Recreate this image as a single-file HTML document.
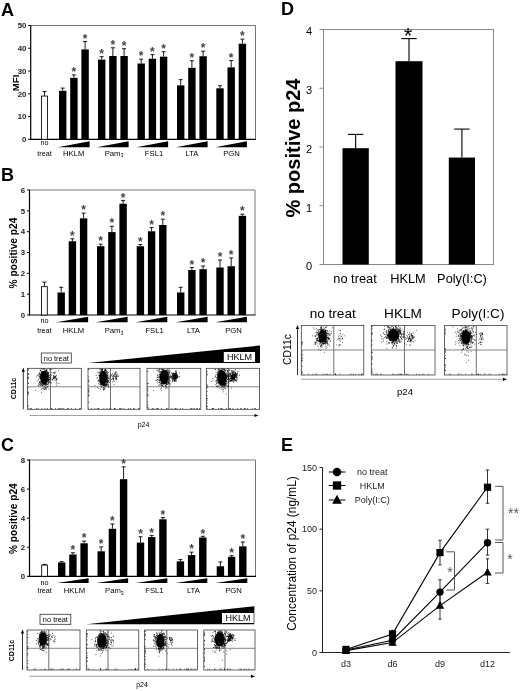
<!DOCTYPE html>
<html><head><meta charset="utf-8"><title>Figure</title>
<style>
html,body{margin:0;padding:0;background:#fff;}
svg{display:block;font-family:'Liberation Sans', Arial, sans-serif;}
</style></head>
<body>
<svg width="520" height="691" viewBox="0 0 520 691">
<rect x="0" y="0" width="520" height="691" fill="#fff"/>
<line x1="30.7" y1="25.5" x2="255.5" y2="25.5" stroke="#777" stroke-width="1"/>
<line x1="255.5" y1="25.5" x2="255.5" y2="139.3" stroke="#777" stroke-width="1"/>
<line x1="30.7" y1="25.0" x2="30.7" y2="139.8" stroke="#000" stroke-width="1.2"/>
<line x1="30.2" y1="139.3" x2="256.0" y2="139.3" stroke="#000" stroke-width="1.2"/>
<line x1="28.2" y1="139.3" x2="30.7" y2="139.3" stroke="#000" stroke-width="1"/>
<text x="26.4" y="142.10000000000002" font-size="7.8" font-weight="bold" text-anchor="end" fill="#222">0</text>
<line x1="28.2" y1="116.54" x2="30.7" y2="116.54" stroke="#000" stroke-width="1"/>
<text x="26.4" y="119.34" font-size="7.8" font-weight="bold" text-anchor="end" fill="#222">10</text>
<line x1="28.2" y1="93.78" x2="30.7" y2="93.78" stroke="#000" stroke-width="1"/>
<text x="26.4" y="96.58" font-size="7.8" font-weight="bold" text-anchor="end" fill="#222">20</text>
<line x1="28.2" y1="71.02000000000001" x2="30.7" y2="71.02000000000001" stroke="#000" stroke-width="1"/>
<text x="26.4" y="73.82000000000001" font-size="7.8" font-weight="bold" text-anchor="end" fill="#222">30</text>
<line x1="28.2" y1="48.260000000000005" x2="30.7" y2="48.260000000000005" stroke="#000" stroke-width="1"/>
<text x="26.4" y="51.06" font-size="7.8" font-weight="bold" text-anchor="end" fill="#222">40</text>
<line x1="28.2" y1="25.5" x2="30.7" y2="25.5" stroke="#000" stroke-width="1"/>
<text x="26.4" y="28.3" font-size="7.8" font-weight="bold" text-anchor="end" fill="#222">50</text>
<text x="18.6" y="82.9" font-size="9.6" font-weight="bold" text-anchor="middle" fill="#000" transform="rotate(-90 18.6 82.9)">MFI</text>
<text x="1" y="15.9" font-size="18" font-weight="bold" text-anchor="start" fill="#000">A</text>
<line x1="44.5" y1="96.05600000000001" x2="44.5" y2="91.504" stroke="#000" stroke-width="0.9"/>
<line x1="42.5" y1="91.504" x2="46.5" y2="91.504" stroke="#000" stroke-width="0.9"/>
<rect x="41.50" y="96.06" width="6.00" height="43.24" fill="#fff" stroke="#000" stroke-width="0.85"/>
<text x="44.5" y="144.9" font-size="7.2" text-anchor="middle" fill="#000">no</text>
<text x="44.5" y="155.6" font-size="7.2" text-anchor="middle" fill="#000">treat</text>
<line x1="62.7" y1="90.8212" x2="62.7" y2="88.09" stroke="#000" stroke-width="0.9"/>
<line x1="60.7" y1="88.09" x2="64.7" y2="88.09" stroke="#000" stroke-width="0.9"/>
<rect x="59.00" y="90.82" width="7.40" height="48.48" fill="#000"/>
<line x1="73.9" y1="77.84800000000001" x2="73.9" y2="74.8892" stroke="#000" stroke-width="0.9"/>
<line x1="71.9" y1="74.8892" x2="75.9" y2="74.8892" stroke="#000" stroke-width="0.9"/>
<rect x="70.20" y="77.85" width="7.40" height="61.45" fill="#000"/>
<text x="73.9" y="76.0892" font-size="12" font-weight="bold" text-anchor="middle" fill="#444">*</text>
<line x1="85.10000000000001" y1="49.397999999999996" x2="85.10000000000001" y2="41.432" stroke="#000" stroke-width="0.9"/>
<line x1="83.10000000000001" y1="41.432" x2="87.10000000000001" y2="41.432" stroke="#000" stroke-width="0.9"/>
<rect x="81.40" y="49.40" width="7.40" height="89.90" fill="#000"/>
<text x="85.10000000000001" y="42.632000000000005" font-size="12" font-weight="bold" text-anchor="middle" fill="#444">*</text>
<polygon points="57.8,147.2 89.6,147.2 89.6,141.3" fill="#000"/>
<text x="73.75" y="155.6" font-size="7.7" text-anchor="middle" fill="#000">HKLM</text>
<line x1="101.7" y1="59.64" x2="101.7" y2="56.681200000000004" stroke="#000" stroke-width="0.9"/>
<line x1="99.7" y1="56.681200000000004" x2="103.7" y2="56.681200000000004" stroke="#000" stroke-width="0.9"/>
<rect x="98.00" y="59.64" width="7.40" height="79.66" fill="#000"/>
<text x="101.7" y="57.88120000000001" font-size="12" font-weight="bold" text-anchor="middle" fill="#444">*</text>
<line x1="112.9" y1="55.998400000000004" x2="112.9" y2="47.8048" stroke="#000" stroke-width="0.9"/>
<line x1="110.9" y1="47.8048" x2="114.9" y2="47.8048" stroke="#000" stroke-width="0.9"/>
<rect x="109.20" y="56.00" width="7.40" height="83.30" fill="#000"/>
<text x="112.9" y="49.0048" font-size="12" font-weight="bold" text-anchor="middle" fill="#444">*</text>
<line x1="124.10000000000001" y1="55.998400000000004" x2="124.10000000000001" y2="48.715199999999996" stroke="#000" stroke-width="0.9"/>
<line x1="122.10000000000001" y1="48.715199999999996" x2="126.10000000000001" y2="48.715199999999996" stroke="#000" stroke-width="0.9"/>
<rect x="120.40" y="56.00" width="7.40" height="83.30" fill="#000"/>
<text x="124.10000000000001" y="49.9152" font-size="12" font-weight="bold" text-anchor="middle" fill="#444">*</text>
<polygon points="96.8,147.2 128.6,147.2 128.6,141.3" fill="#000"/>
<text x="114" y="155.6" font-size="7.7" text-anchor="middle" fill="#000">Pam<tspan font-size="5.2" dy="1.6">3</tspan></text>
<line x1="141.2" y1="63.50920000000001" x2="141.2" y2="59.18480000000001" stroke="#000" stroke-width="0.9"/>
<line x1="139.2" y1="59.18480000000001" x2="143.2" y2="59.18480000000001" stroke="#000" stroke-width="0.9"/>
<rect x="137.50" y="63.51" width="7.40" height="75.79" fill="#000"/>
<text x="141.2" y="60.38480000000001" font-size="12" font-weight="bold" text-anchor="middle" fill="#444">*</text>
<line x1="152.39999999999998" y1="58.729600000000005" x2="152.39999999999998" y2="54.63280000000002" stroke="#000" stroke-width="0.9"/>
<line x1="150.39999999999998" y1="54.63280000000002" x2="154.39999999999998" y2="54.63280000000002" stroke="#000" stroke-width="0.9"/>
<rect x="148.70" y="58.73" width="7.40" height="80.57" fill="#000"/>
<text x="152.39999999999998" y="55.83280000000002" font-size="12" font-weight="bold" text-anchor="middle" fill="#444">*</text>
<line x1="163.6" y1="56.681200000000004" x2="163.6" y2="51.67400000000001" stroke="#000" stroke-width="0.9"/>
<line x1="161.6" y1="51.67400000000001" x2="165.6" y2="51.67400000000001" stroke="#000" stroke-width="0.9"/>
<rect x="159.90" y="56.68" width="7.40" height="82.62" fill="#000"/>
<text x="163.6" y="52.87400000000001" font-size="12" font-weight="bold" text-anchor="middle" fill="#444">*</text>
<polygon points="136.3,147.2 168.1,147.2 168.1,141.3" fill="#000"/>
<text x="154" y="155.6" font-size="7.7" text-anchor="middle" fill="#000">FSL1</text>
<line x1="180.7" y1="85.3588" x2="180.7" y2="79.6688" stroke="#000" stroke-width="0.9"/>
<line x1="178.7" y1="79.6688" x2="182.7" y2="79.6688" stroke="#000" stroke-width="0.9"/>
<rect x="177.00" y="85.36" width="7.40" height="53.94" fill="#000"/>
<line x1="191.89999999999998" y1="67.8336" x2="191.89999999999998" y2="60.778000000000006" stroke="#000" stroke-width="0.9"/>
<line x1="189.89999999999998" y1="60.778000000000006" x2="193.89999999999998" y2="60.778000000000006" stroke="#000" stroke-width="0.9"/>
<rect x="188.20" y="67.83" width="7.40" height="71.47" fill="#000"/>
<text x="191.89999999999998" y="61.97800000000001" font-size="12" font-weight="bold" text-anchor="middle" fill="#444">*</text>
<line x1="203.1" y1="56.226" x2="203.1" y2="51.2188" stroke="#000" stroke-width="0.9"/>
<line x1="201.1" y1="51.2188" x2="205.1" y2="51.2188" stroke="#000" stroke-width="0.9"/>
<rect x="199.40" y="56.23" width="7.40" height="83.07" fill="#000"/>
<text x="203.1" y="52.418800000000005" font-size="12" font-weight="bold" text-anchor="middle" fill="#444">*</text>
<polygon points="175.8,147.2 207.6,147.2 207.6,141.3" fill="#000"/>
<text x="192" y="155.6" font-size="7.7" text-anchor="middle" fill="#000">LTA</text>
<line x1="220.0" y1="88.3176" x2="220.0" y2="85.81400000000001" stroke="#000" stroke-width="0.9"/>
<line x1="218.0" y1="85.81400000000001" x2="222.0" y2="85.81400000000001" stroke="#000" stroke-width="0.9"/>
<rect x="216.30" y="88.32" width="7.40" height="50.98" fill="#000"/>
<line x1="231.2" y1="67.3784" x2="231.2" y2="60.550399999999996" stroke="#000" stroke-width="0.9"/>
<line x1="229.2" y1="60.550399999999996" x2="233.2" y2="60.550399999999996" stroke="#000" stroke-width="0.9"/>
<rect x="227.50" y="67.38" width="7.40" height="71.92" fill="#000"/>
<text x="231.2" y="61.7504" font-size="12" font-weight="bold" text-anchor="middle" fill="#444">*</text>
<line x1="242.4" y1="43.708" x2="242.4" y2="39.156000000000006" stroke="#000" stroke-width="0.9"/>
<line x1="240.4" y1="39.156000000000006" x2="244.4" y2="39.156000000000006" stroke="#000" stroke-width="0.9"/>
<rect x="238.70" y="43.71" width="7.40" height="95.59" fill="#000"/>
<text x="242.4" y="40.35600000000001" font-size="12" font-weight="bold" text-anchor="middle" fill="#444">*</text>
<polygon points="215.10000000000002,147.2 246.9,147.2 246.9,141.3" fill="#000"/>
<text x="231.5" y="155.6" font-size="7.7" text-anchor="middle" fill="#000">PGN</text>
<line x1="29.5" y1="190" x2="255" y2="190" stroke="#777" stroke-width="1"/>
<line x1="255" y1="190" x2="255" y2="315" stroke="#777" stroke-width="1"/>
<line x1="29.5" y1="189.5" x2="29.5" y2="315.5" stroke="#000" stroke-width="1.2"/>
<line x1="29.0" y1="315" x2="255.5" y2="315" stroke="#000" stroke-width="1.2"/>
<line x1="27.0" y1="315.0" x2="29.5" y2="315.0" stroke="#000" stroke-width="1"/>
<text x="25.2" y="317.8" font-size="7.8" font-weight="bold" text-anchor="end" fill="#222">0</text>
<line x1="27.0" y1="294.1666666666667" x2="29.5" y2="294.1666666666667" stroke="#000" stroke-width="1"/>
<text x="25.2" y="296.9666666666667" font-size="7.8" font-weight="bold" text-anchor="end" fill="#222">1</text>
<line x1="27.0" y1="273.3333333333333" x2="29.5" y2="273.3333333333333" stroke="#000" stroke-width="1"/>
<text x="25.2" y="276.1333333333333" font-size="7.8" font-weight="bold" text-anchor="end" fill="#222">2</text>
<line x1="27.0" y1="252.5" x2="29.5" y2="252.5" stroke="#000" stroke-width="1"/>
<text x="25.2" y="255.3" font-size="7.8" font-weight="bold" text-anchor="end" fill="#222">3</text>
<line x1="27.0" y1="231.66666666666669" x2="29.5" y2="231.66666666666669" stroke="#000" stroke-width="1"/>
<text x="25.2" y="234.4666666666667" font-size="7.8" font-weight="bold" text-anchor="end" fill="#222">4</text>
<line x1="27.0" y1="210.83333333333334" x2="29.5" y2="210.83333333333334" stroke="#000" stroke-width="1"/>
<text x="25.2" y="213.63333333333335" font-size="7.8" font-weight="bold" text-anchor="end" fill="#222">5</text>
<line x1="27.0" y1="190.0" x2="29.5" y2="190.0" stroke="#000" stroke-width="1"/>
<text x="25.2" y="192.8" font-size="7.8" font-weight="bold" text-anchor="end" fill="#222">6</text>
<text x="17" y="253.0" font-size="10.2" font-weight="bold" text-anchor="middle" fill="#000" transform="rotate(-90 17 253.0)">% positive p24</text>
<text x="1" y="181" font-size="18" font-weight="bold" text-anchor="start" fill="#000">B</text>
<line x1="44.4" y1="286.6666666666667" x2="44.4" y2="282.0833333333333" stroke="#000" stroke-width="0.9"/>
<line x1="42.4" y1="282.0833333333333" x2="46.4" y2="282.0833333333333" stroke="#000" stroke-width="0.9"/>
<rect x="41.50" y="286.67" width="5.80" height="28.33" fill="#fff" stroke="#000" stroke-width="0.85"/>
<text x="44.4" y="323" font-size="7.2" text-anchor="middle" fill="#000">no</text>
<text x="44.4" y="332.8" font-size="7.2" text-anchor="middle" fill="#000">treat</text>
<line x1="61.2" y1="292.5" x2="61.2" y2="287.2916666666667" stroke="#000" stroke-width="0.9"/>
<line x1="59.2" y1="287.2916666666667" x2="63.2" y2="287.2916666666667" stroke="#000" stroke-width="0.9"/>
<rect x="57.50" y="292.50" width="7.40" height="22.50" fill="#000"/>
<line x1="72.4" y1="241.25" x2="72.4" y2="238.75" stroke="#000" stroke-width="0.9"/>
<line x1="70.4" y1="238.75" x2="74.4" y2="238.75" stroke="#000" stroke-width="0.9"/>
<rect x="68.70" y="241.25" width="7.40" height="73.75" fill="#000"/>
<text x="72.4" y="239.95" font-size="12" font-weight="bold" text-anchor="middle" fill="#444">*</text>
<line x1="83.60000000000001" y1="218.33333333333334" x2="83.60000000000001" y2="213.125" stroke="#000" stroke-width="0.9"/>
<line x1="81.60000000000001" y1="213.125" x2="85.60000000000001" y2="213.125" stroke="#000" stroke-width="0.9"/>
<rect x="79.90" y="218.33" width="7.40" height="96.67" fill="#000"/>
<text x="83.60000000000001" y="214.325" font-size="12" font-weight="bold" text-anchor="middle" fill="#444">*</text>
<polygon points="56.3,322.3 88.1,322.3 88.1,316.8" fill="#000"/>
<text x="73.5" y="333" font-size="7.7" text-anchor="middle" fill="#000">HKLM</text>
<line x1="100.7" y1="246.25" x2="100.7" y2="244.16666666666669" stroke="#000" stroke-width="0.9"/>
<line x1="98.7" y1="244.16666666666669" x2="102.7" y2="244.16666666666669" stroke="#000" stroke-width="0.9"/>
<rect x="97.00" y="246.25" width="7.40" height="68.75" fill="#000"/>
<text x="100.7" y="245.36666666666667" font-size="12" font-weight="bold" text-anchor="middle" fill="#444">*</text>
<line x1="111.9" y1="232.08333333333334" x2="111.9" y2="226.25" stroke="#000" stroke-width="0.9"/>
<line x1="109.9" y1="226.25" x2="113.9" y2="226.25" stroke="#000" stroke-width="0.9"/>
<rect x="108.20" y="232.08" width="7.40" height="82.92" fill="#000"/>
<text x="111.9" y="227.45" font-size="12" font-weight="bold" text-anchor="middle" fill="#444">*</text>
<line x1="123.10000000000001" y1="203.75" x2="123.10000000000001" y2="200.41666666666669" stroke="#000" stroke-width="0.9"/>
<line x1="121.10000000000001" y1="200.41666666666669" x2="125.10000000000001" y2="200.41666666666669" stroke="#000" stroke-width="0.9"/>
<rect x="119.40" y="203.75" width="7.40" height="111.25" fill="#000"/>
<text x="123.10000000000001" y="201.61666666666667" font-size="12" font-weight="bold" text-anchor="middle" fill="#444">*</text>
<polygon points="95.8,322.3 127.6,322.3 127.6,316.8" fill="#000"/>
<text x="114" y="333" font-size="7.7" text-anchor="middle" fill="#000">Pam<tspan font-size="5.2" dy="1.6">3</tspan></text>
<line x1="140.39999999999998" y1="246.25" x2="140.39999999999998" y2="244.58333333333334" stroke="#000" stroke-width="0.9"/>
<line x1="138.39999999999998" y1="244.58333333333334" x2="142.39999999999998" y2="244.58333333333334" stroke="#000" stroke-width="0.9"/>
<rect x="136.70" y="246.25" width="7.40" height="68.75" fill="#000"/>
<text x="140.39999999999998" y="245.78333333333333" font-size="12" font-weight="bold" text-anchor="middle" fill="#444">*</text>
<line x1="151.59999999999997" y1="231.25" x2="151.59999999999997" y2="227.5" stroke="#000" stroke-width="0.9"/>
<line x1="149.59999999999997" y1="227.5" x2="153.59999999999997" y2="227.5" stroke="#000" stroke-width="0.9"/>
<rect x="147.90" y="231.25" width="7.40" height="83.75" fill="#000"/>
<text x="151.59999999999997" y="228.7" font-size="12" font-weight="bold" text-anchor="middle" fill="#444">*</text>
<line x1="162.79999999999998" y1="225.0" x2="162.79999999999998" y2="219.16666666666666" stroke="#000" stroke-width="0.9"/>
<line x1="160.79999999999998" y1="219.16666666666666" x2="164.79999999999998" y2="219.16666666666666" stroke="#000" stroke-width="0.9"/>
<rect x="159.10" y="225.00" width="7.40" height="90.00" fill="#000"/>
<text x="162.79999999999998" y="220.36666666666665" font-size="12" font-weight="bold" text-anchor="middle" fill="#444">*</text>
<polygon points="135.5,322.3 167.29999999999998,322.3 167.29999999999998,316.8" fill="#000"/>
<text x="154.6" y="333" font-size="7.7" text-anchor="middle" fill="#000">FSL1</text>
<line x1="180.7" y1="292.5" x2="180.7" y2="287.2916666666667" stroke="#000" stroke-width="0.9"/>
<line x1="178.7" y1="287.2916666666667" x2="182.7" y2="287.2916666666667" stroke="#000" stroke-width="0.9"/>
<rect x="177.00" y="292.50" width="7.40" height="22.50" fill="#000"/>
<line x1="191.89999999999998" y1="270.0" x2="191.89999999999998" y2="267.5" stroke="#000" stroke-width="0.9"/>
<line x1="189.89999999999998" y1="267.5" x2="193.89999999999998" y2="267.5" stroke="#000" stroke-width="0.9"/>
<rect x="188.20" y="270.00" width="7.40" height="45.00" fill="#000"/>
<text x="191.89999999999998" y="268.7" font-size="12" font-weight="bold" text-anchor="middle" fill="#444">*</text>
<line x1="203.1" y1="269.1666666666667" x2="203.1" y2="266.0416666666667" stroke="#000" stroke-width="0.9"/>
<line x1="201.1" y1="266.0416666666667" x2="205.1" y2="266.0416666666667" stroke="#000" stroke-width="0.9"/>
<rect x="199.40" y="269.17" width="7.40" height="45.83" fill="#000"/>
<text x="203.1" y="267.2416666666667" font-size="12" font-weight="bold" text-anchor="middle" fill="#444">*</text>
<polygon points="175.8,322.3 207.6,322.3 207.6,316.8" fill="#000"/>
<text x="193.5" y="333" font-size="7.7" text-anchor="middle" fill="#000">LTA</text>
<line x1="220.0" y1="267.5" x2="220.0" y2="260.0" stroke="#000" stroke-width="0.9"/>
<line x1="218.0" y1="260.0" x2="222.0" y2="260.0" stroke="#000" stroke-width="0.9"/>
<rect x="216.30" y="267.50" width="7.40" height="47.50" fill="#000"/>
<text x="220.0" y="261.2" font-size="12" font-weight="bold" text-anchor="middle" fill="#444">*</text>
<line x1="231.2" y1="266.25" x2="231.2" y2="257.9166666666667" stroke="#000" stroke-width="0.9"/>
<line x1="229.2" y1="257.9166666666667" x2="233.2" y2="257.9166666666667" stroke="#000" stroke-width="0.9"/>
<rect x="227.50" y="266.25" width="7.40" height="48.75" fill="#000"/>
<text x="231.2" y="259.1166666666667" font-size="12" font-weight="bold" text-anchor="middle" fill="#444">*</text>
<line x1="242.4" y1="215.83333333333334" x2="242.4" y2="214.16666666666669" stroke="#000" stroke-width="0.9"/>
<line x1="240.4" y1="214.16666666666669" x2="244.4" y2="214.16666666666669" stroke="#000" stroke-width="0.9"/>
<rect x="238.70" y="215.83" width="7.40" height="99.17" fill="#000"/>
<text x="242.4" y="215.36666666666667" font-size="12" font-weight="bold" text-anchor="middle" fill="#444">*</text>
<polygon points="215.10000000000002,322.3 246.9,322.3 246.9,316.8" fill="#000"/>
<text x="233.5" y="333" font-size="7.7" text-anchor="middle" fill="#000">PGN</text>
<line x1="29.5" y1="460" x2="255.5" y2="460" stroke="#777" stroke-width="1"/>
<line x1="255.5" y1="460" x2="255.5" y2="576.3" stroke="#777" stroke-width="1"/>
<line x1="29.5" y1="459.5" x2="29.5" y2="576.8" stroke="#000" stroke-width="1.2"/>
<line x1="29.0" y1="576.3" x2="256.0" y2="576.3" stroke="#000" stroke-width="1.2"/>
<line x1="27.0" y1="576.3" x2="29.5" y2="576.3" stroke="#000" stroke-width="1"/>
<text x="25.2" y="579.0999999999999" font-size="7.8" font-weight="bold" text-anchor="end" fill="#222">0</text>
<line x1="27.0" y1="547.2249999999999" x2="29.5" y2="547.2249999999999" stroke="#000" stroke-width="1"/>
<text x="25.2" y="550.0249999999999" font-size="7.8" font-weight="bold" text-anchor="end" fill="#222">2</text>
<line x1="27.0" y1="518.15" x2="29.5" y2="518.15" stroke="#000" stroke-width="1"/>
<text x="25.2" y="520.9499999999999" font-size="7.8" font-weight="bold" text-anchor="end" fill="#222">4</text>
<line x1="27.0" y1="489.075" x2="29.5" y2="489.075" stroke="#000" stroke-width="1"/>
<text x="25.2" y="491.875" font-size="7.8" font-weight="bold" text-anchor="end" fill="#222">6</text>
<line x1="27.0" y1="460.0" x2="29.5" y2="460.0" stroke="#000" stroke-width="1"/>
<text x="25.2" y="462.8" font-size="7.8" font-weight="bold" text-anchor="end" fill="#222">8</text>
<text x="17" y="518.65" font-size="10.2" font-weight="bold" text-anchor="middle" fill="#000" transform="rotate(-90 17 518.65)">% positive p24</text>
<text x="1" y="450.7" font-size="18" font-weight="bold" text-anchor="start" fill="#000">C</text>
<line x1="44.6" y1="565.1061249999999" x2="44.6" y2="564.37925" stroke="#000" stroke-width="0.9"/>
<line x1="42.6" y1="564.37925" x2="46.6" y2="564.37925" stroke="#000" stroke-width="0.9"/>
<rect x="41.70" y="565.11" width="5.80" height="11.19" fill="#fff" stroke="#000" stroke-width="0.85"/>
<text x="44.6" y="585" font-size="7.2" text-anchor="middle" fill="#000">no</text>
<text x="44.6" y="593" font-size="7.2" text-anchor="middle" fill="#000">treat</text>
<line x1="61.7" y1="562.489375" x2="61.7" y2="561.617125" stroke="#000" stroke-width="0.9"/>
<line x1="59.7" y1="561.617125" x2="63.7" y2="561.617125" stroke="#000" stroke-width="0.9"/>
<rect x="58.00" y="562.49" width="7.40" height="13.81" fill="#000"/>
<line x1="72.9" y1="554.49375" x2="72.9" y2="552.74925" stroke="#000" stroke-width="0.9"/>
<line x1="70.9" y1="552.74925" x2="74.9" y2="552.74925" stroke="#000" stroke-width="0.9"/>
<rect x="69.20" y="554.49" width="7.40" height="21.81" fill="#000"/>
<text x="72.9" y="553.94925" font-size="12" font-weight="bold" text-anchor="middle" fill="#444">*</text>
<line x1="84.10000000000001" y1="543.2998749999999" x2="84.10000000000001" y2="541.11925" stroke="#000" stroke-width="0.9"/>
<line x1="82.10000000000001" y1="541.11925" x2="86.10000000000001" y2="541.11925" stroke="#000" stroke-width="0.9"/>
<rect x="80.40" y="543.30" width="7.40" height="33.00" fill="#000"/>
<text x="84.10000000000001" y="542.31925" font-size="12" font-weight="bold" text-anchor="middle" fill="#444">*</text>
<polygon points="56.8,583 88.6,583 88.6,578.3" fill="#000"/>
<text x="74.4" y="593" font-size="7.7" text-anchor="middle" fill="#000">HKLM</text>
<line x1="101.2" y1="551.2955" x2="101.2" y2="546.93425" stroke="#000" stroke-width="0.9"/>
<line x1="99.2" y1="546.93425" x2="103.2" y2="546.93425" stroke="#000" stroke-width="0.9"/>
<rect x="97.50" y="551.30" width="7.40" height="25.00" fill="#000"/>
<text x="101.2" y="548.1342500000001" font-size="12" font-weight="bold" text-anchor="middle" fill="#444">*</text>
<line x1="112.4" y1="528.762375" x2="112.4" y2="523.9649999999999" stroke="#000" stroke-width="0.9"/>
<line x1="110.4" y1="523.9649999999999" x2="114.4" y2="523.9649999999999" stroke="#000" stroke-width="0.9"/>
<rect x="108.70" y="528.76" width="7.40" height="47.54" fill="#000"/>
<text x="112.4" y="525.165" font-size="12" font-weight="bold" text-anchor="middle" fill="#444">*</text>
<line x1="123.60000000000001" y1="479.1895" x2="123.60000000000001" y2="466.832625" stroke="#000" stroke-width="0.9"/>
<line x1="121.60000000000001" y1="466.832625" x2="125.60000000000001" y2="466.832625" stroke="#000" stroke-width="0.9"/>
<rect x="119.90" y="479.19" width="7.40" height="97.11" fill="#000"/>
<text x="123.60000000000001" y="468.032625" font-size="12" font-weight="bold" text-anchor="middle" fill="#444">*</text>
<polygon points="96.3,583 128.1,583 128.1,578.3" fill="#000"/>
<text x="114.4" y="593" font-size="7.7" text-anchor="middle" fill="#000">Pam<tspan font-size="5.2" dy="1.6">3</tspan></text>
<line x1="140.5" y1="542.573" x2="140.5" y2="536.7579999999999" stroke="#000" stroke-width="0.9"/>
<line x1="138.5" y1="536.7579999999999" x2="142.5" y2="536.7579999999999" stroke="#000" stroke-width="0.9"/>
<rect x="136.80" y="542.57" width="7.40" height="33.73" fill="#000"/>
<text x="140.5" y="537.958" font-size="12" font-weight="bold" text-anchor="middle" fill="#444">*</text>
<line x1="151.7" y1="537.0487499999999" x2="151.7" y2="535.5949999999999" stroke="#000" stroke-width="0.9"/>
<line x1="149.7" y1="535.5949999999999" x2="153.7" y2="535.5949999999999" stroke="#000" stroke-width="0.9"/>
<rect x="148.00" y="537.05" width="7.40" height="39.25" fill="#000"/>
<text x="151.7" y="536.795" font-size="12" font-weight="bold" text-anchor="middle" fill="#444">*</text>
<line x1="162.9" y1="519.313" x2="162.9" y2="517.5685" stroke="#000" stroke-width="0.9"/>
<line x1="160.9" y1="517.5685" x2="164.9" y2="517.5685" stroke="#000" stroke-width="0.9"/>
<rect x="159.20" y="519.31" width="7.40" height="56.99" fill="#000"/>
<text x="162.9" y="518.7685" font-size="12" font-weight="bold" text-anchor="middle" fill="#444">*</text>
<polygon points="135.60000000000002,583 167.4,583 167.4,578.3" fill="#000"/>
<text x="154.4" y="593" font-size="7.7" text-anchor="middle" fill="#000">FSL1</text>
<line x1="180.39999999999998" y1="561.326375" x2="180.39999999999998" y2="559.581875" stroke="#000" stroke-width="0.9"/>
<line x1="178.39999999999998" y1="559.581875" x2="182.39999999999998" y2="559.581875" stroke="#000" stroke-width="0.9"/>
<rect x="176.70" y="561.33" width="7.40" height="14.97" fill="#000"/>
<line x1="191.59999999999997" y1="555.07525" x2="191.59999999999997" y2="552.16775" stroke="#000" stroke-width="0.9"/>
<line x1="189.59999999999997" y1="552.16775" x2="193.59999999999997" y2="552.16775" stroke="#000" stroke-width="0.9"/>
<rect x="187.90" y="555.08" width="7.40" height="21.22" fill="#000"/>
<text x="191.59999999999997" y="553.36775" font-size="12" font-weight="bold" text-anchor="middle" fill="#444">*</text>
<line x1="202.79999999999998" y1="537.484875" x2="202.79999999999998" y2="536.321875" stroke="#000" stroke-width="0.9"/>
<line x1="200.79999999999998" y1="536.321875" x2="204.79999999999998" y2="536.321875" stroke="#000" stroke-width="0.9"/>
<rect x="199.10" y="537.48" width="7.40" height="38.82" fill="#000"/>
<text x="202.79999999999998" y="537.521875" font-size="12" font-weight="bold" text-anchor="middle" fill="#444">*</text>
<polygon points="175.5,583 207.29999999999998,583 207.29999999999998,578.3" fill="#000"/>
<text x="193.4" y="593" font-size="7.7" text-anchor="middle" fill="#000">LTA</text>
<line x1="220.39999999999998" y1="566.2691249999999" x2="220.39999999999998" y2="561.907875" stroke="#000" stroke-width="0.9"/>
<line x1="218.39999999999998" y1="561.907875" x2="222.39999999999998" y2="561.907875" stroke="#000" stroke-width="0.9"/>
<rect x="216.70" y="566.27" width="7.40" height="10.03" fill="#000"/>
<line x1="231.59999999999997" y1="556.81975" x2="231.59999999999997" y2="555.65675" stroke="#000" stroke-width="0.9"/>
<line x1="229.59999999999997" y1="555.65675" x2="233.59999999999997" y2="555.65675" stroke="#000" stroke-width="0.9"/>
<rect x="227.90" y="556.82" width="7.40" height="19.48" fill="#000"/>
<text x="231.59999999999997" y="556.85675" font-size="12" font-weight="bold" text-anchor="middle" fill="#444">*</text>
<line x1="242.79999999999998" y1="546.35275" x2="242.79999999999998" y2="541.9915" stroke="#000" stroke-width="0.9"/>
<line x1="240.79999999999998" y1="541.9915" x2="244.79999999999998" y2="541.9915" stroke="#000" stroke-width="0.9"/>
<rect x="239.10" y="546.35" width="7.40" height="29.95" fill="#000"/>
<text x="242.79999999999998" y="543.1915" font-size="12" font-weight="bold" text-anchor="middle" fill="#444">*</text>
<polygon points="215.5,583 247.29999999999998,583 247.29999999999998,578.3" fill="#000"/>
<text x="233.5" y="593" font-size="7.7" text-anchor="middle" fill="#000">PGN</text>
<rect x="27.50" y="368.30" width="53.80" height="41.00" fill="#fff" stroke="#333" stroke-width="0.75"/>
<line x1="50.5" y1="368.3" x2="50.5" y2="409.3" stroke="#333" stroke-width="0.7"/>
<line x1="27.5" y1="386.8" x2="81.3" y2="386.8" stroke="#555" stroke-width="0.7"/>
<ellipse cx="44.2" cy="377.8" rx="3.96" ry="7.04" fill="#000"/>
<path d="M43.5 380.1h0.8M43.6 376.4h0.8M41.8 376.8h0.8M47.1 379.7h0.8M46.9 378.9h0.8M45.2 378.6h0.8M39.9 381.6h0.8M45.5 380.0h0.8M39.8 370.0h0.8M41.9 375.7h0.8M45.0 377.6h0.8M45.5 374.9h0.8M45.0 379.6h0.8M42.5 385.5h0.8M45.6 383.2h0.8M42.6 374.5h0.8M43.3 377.3h0.8M45.8 378.9h0.8M43.0 373.5h0.8M42.9 383.3h0.8M42.1 378.9h0.8M45.3 371.1h0.8M44.3 383.7h0.8M39.0 376.4h0.8M43.9 374.1h0.8M45.5 377.5h0.8M40.4 381.5h0.8M45.9 382.0h0.8M47.9 379.4h0.8M44.5 372.0h0.8M45.8 375.1h0.8M43.0 372.1h0.8M41.7 375.4h0.8M40.4 378.9h0.8M47.9 380.4h0.8M45.1 374.5h0.8M41.3 382.2h0.8M47.0 378.5h0.8M44.8 379.7h0.8M48.3 380.6h0.8M45.5 380.3h0.8M40.2 383.5h0.8M46.7 380.2h0.8M39.1 375.0h0.8M46.4 369.7h0.8M43.7 382.4h0.8M40.8 385.0h0.8M45.6 377.1h0.8M45.0 380.7h0.8M44.5 382.9h0.8M42.5 375.9h0.8M46.9 377.9h0.8M41.9 382.0h0.8M48.0 375.8h0.8M40.6 377.2h0.8M43.8 376.5h0.8M47.8 373.2h0.8M47.4 372.1h0.8M42.2 380.6h0.8M47.1 381.6h0.8M45.1 378.4h0.8M44.6 380.4h0.8M43.7 379.0h0.8M45.7 377.8h0.8M46.2 380.3h0.8M49.4 379.3h0.8M43.1 376.1h0.8M44.2 381.9h0.8M43.3 379.5h0.8M41.3 378.9h0.8M45.2 378.9h0.8M43.1 380.7h0.8M44.9 375.5h0.8M50.5 379.4h0.8M42.8 377.4h0.8M43.6 377.5h0.8M37.2 375.6h0.8M46.8 372.6h0.8M44.0 382.1h0.8M46.4 384.5h0.8M39.8 376.2h0.8M43.3 380.6h0.8M47.0 371.3h0.8M46.0 371.1h0.8M44.7 383.2h0.8M43.8 378.7h0.8M46.3 378.4h0.8M44.0 384.7h0.8M46.9 376.5h0.8M51.3 372.7h0.8M46.6 376.6h0.8M44.5 381.0h0.8M44.8 380.7h0.8M40.3 371.0h0.8M45.8 373.5h0.8M41.6 371.2h0.8M47.5 381.1h0.8M48.0 373.6h0.8M44.2 372.7h0.8M46.2 384.9h0.8M41.9 384.8h0.8M46.7 377.0h0.8M39.1 384.1h0.8M44.0 375.1h0.8M45.2 379.6h0.8M48.1 373.2h0.8M47.1 384.5h0.8M47.9 377.0h0.8M42.3 382.4h0.8M44.5 378.4h0.8M47.9 376.6h0.8M38.3 376.1h0.8M39.4 381.5h0.8M45.0 375.1h0.8M44.2 381.5h0.8M44.4 383.7h0.8M44.0 382.5h0.8M48.0 385.0h0.8M42.5 381.7h0.8M39.4 372.9h0.8M39.1 382.6h0.8M41.0 377.7h0.8M43.7 377.7h0.8M42.7 378.8h0.8M48.8 378.0h0.8M45.6 382.3h0.8M43.7 372.2h0.8M42.8 382.6h0.8M40.0 375.1h0.8M46.8 381.4h0.8M44.2 381.4h0.8M44.6 372.5h0.8M40.2 374.9h0.8M46.6 375.3h0.8M41.9 374.3h0.8M40.3 377.3h0.8M41.2 379.4h0.8M38.1 379.3h0.8M42.5 369.1h0.8M46.1 376.6h0.8M38.5 373.9h0.8M44.9 375.7h0.8M46.2 381.1h0.8M45.9 379.3h0.8M47.6 380.8h0.8M46.5 383.7h0.8M43.4 375.7h0.8M49.2 369.9h0.8M45.4 388.7h0.8M41.8 380.9h0.8M49.1 377.3h0.8M45.6 381.8h0.8M41.9 377.4h0.8M45.0 381.5h0.8M44.1 376.9h0.8M41.6 376.2h0.8M46.5 378.3h0.8M42.0 374.0h0.8M51.1 382.9h0.8M45.8 380.0h0.8M48.5 379.7h0.8M44.0 380.1h0.8M39.2 382.4h0.8M45.0 374.7h0.8M47.6 385.9h0.8M40.6 374.8h0.8M45.0 378.6h0.8M43.2 373.4h0.8M49.7 382.4h0.8M41.1 371.8h0.8M48.6 382.2h0.8M48.9 381.4h0.8M42.0 379.0h0.8M38.6 374.4h0.8M44.0 380.1h0.8M42.3 377.2h0.8M45.4 379.5h0.8M45.8 378.7h0.8M43.4 381.3h0.8M44.3 374.1h0.8M42.6 377.8h0.8M43.9 378.5h0.8M44.2 378.6h0.8M43.9 372.2h0.8M45.3 382.5h0.8M45.3 377.0h0.8M45.4 373.5h0.8M39.3 378.1h0.8M41.8 381.1h0.8M41.5 384.9h0.8M43.2 371.7h0.8M42.2 380.1h0.8M45.5 378.6h0.8M48.0 381.0h0.8M44.1 380.5h0.8M48.5 382.2h0.8M46.8 372.9h0.8M43.8 381.1h0.8M43.4 382.6h0.8M45.7 381.9h0.8M43.7 389.2h0.8M47.4 376.8h0.8M44.4 389.4h0.8M43.3 381.7h0.8M46.7 377.8h0.8M41.2 378.6h0.8M45.1 382.9h0.8M46.2 377.9h0.8M46.4 380.2h0.8M44.7 378.0h0.8M43.6 380.9h0.8M41.5 375.0h0.8M44.2 371.2h0.8M43.1 368.8h0.8M42.4 380.3h0.8M45.7 377.6h0.8M43.6 371.5h0.8M48.9 380.1h0.8M47.0 373.8h0.8M43.7 369.6h0.8M46.2 382.0h0.8M39.3 377.6h0.8M45.8 369.9h0.8M39.5 373.0h0.8M42.6 371.5h0.8M44.3 378.9h0.8M45.8 380.9h0.8M48.1 383.0h0.8M40.8 375.5h0.8M41.5 373.0h0.8M44.0 377.8h0.8M45.5 370.7h0.8M41.0 377.7h0.8M43.7 376.4h0.8M44.0 374.4h0.8M46.0 379.4h0.8M44.0 374.8h0.8M41.7 378.0h0.8M40.3 378.7h0.8M44.6 371.6h0.8M43.6 376.4h0.8M45.4 380.5h0.8M44.1 374.0h0.8M43.8 377.5h0.8M46.1 379.1h0.8M42.3 371.7h0.8M43.2 374.5h0.8M41.3 377.3h0.8M42.9 378.3h0.8M45.5 375.9h0.8M50.2 376.4h0.8M47.0 378.3h0.8M42.3 378.9h0.8M45.8 388.3h0.8M45.0 383.5h0.8M46.2 382.0h0.8M45.5 377.1h0.8M45.5 373.0h0.8M47.2 373.2h0.8M44.8 387.3h0.8M43.6 377.9h0.8M47.2 377.9h0.8M42.1 379.0h0.8M45.7 381.0h0.8M42.2 385.7h0.8M48.5 377.9h0.8M44.9 375.9h0.8M47.8 374.6h0.8M45.9 375.7h0.8M42.4 381.0h0.8M47.6 377.8h0.8M42.5 381.4h0.8M44.1 379.2h0.8M48.1 382.9h0.8M42.9 388.0h0.8M44.2 381.3h0.8M42.5 377.6h0.8M39.7 385.8h0.8M47.7 372.4h0.8M40.3 370.5h0.8M47.2 375.7h0.8M44.0 376.4h0.8M43.9 372.9h0.8M44.3 371.4h0.8M44.0 379.2h0.8M45.4 376.8h0.8M41.9 378.5h0.8M43.0 384.8h0.8M46.2 377.3h0.8M43.0 374.7h0.8M41.8 376.2h0.8M45.0 380.1h0.8M45.7 387.2h0.8M42.4 377.9h0.8M51.4 369.4h0.8M42.9 378.6h0.8M44.6 379.6h0.8M43.6 379.4h0.8M44.3 381.3h0.8M39.3 373.8h0.8M44.2 373.2h0.8M41.5 380.6h0.8M42.5 380.6h0.8M46.1 379.2h0.8M45.5 377.3h0.8M40.6 377.7h0.8M45.4 375.4h0.8M43.9 381.2h0.8M41.9 380.7h0.8M49.0 375.3h0.8M44.6 377.1h0.8M48.2 379.2h0.8M46.5 374.7h0.8M44.2 377.8h0.8M39.6 384.3h0.8M46.5 370.0h0.8M46.1 377.2h0.8M45.4 379.4h0.8M40.3 376.9h0.8M48.0 375.2h0.8M41.6 371.7h0.8M41.1 379.3h0.8M48.6 379.7h0.8M44.8 387.8h0.8M42.9 374.8h0.8M45.6 380.3h0.8M41.6 372.6h0.8M44.9 378.9h0.8M40.8 376.9h0.8M42.8 379.9h0.8M43.9 377.4h0.8M43.3 382.5h0.8M47.8 376.2h0.8M46.4 374.4h0.8M44.4 381.2h0.8M48.1 376.1h0.8M44.0 378.7h0.8M40.3 377.9h0.8M42.5 379.5h0.8M41.3 368.9h0.8M44.3 379.0h0.8M42.8 381.8h0.8M43.5 375.1h0.8M45.4 370.8h0.8M42.5 377.7h0.8M46.4 377.1h0.8M45.0 374.9h0.8M45.0 385.3h0.8M42.4 388.4h0.8M42.5 377.9h0.8M44.6 382.4h0.8M45.8 381.4h0.8M45.8 389.6h0.8M44.7 378.9h0.8M46.6 379.5h0.8M48.5 372.3h0.8M46.3 376.1h0.8M46.6 387.5h0.8M44.2 376.7h0.8M42.9 374.0h0.8M42.6 380.7h0.8M44.3 378.1h0.8M43.8 381.9h0.8M45.5 377.2h0.8M45.9 377.1h0.8M41.2 384.3h0.8M45.4 373.5h0.8M47.0 379.3h0.8M40.2 385.0h0.8M45.1 381.8h0.8M44.7 377.1h0.8M40.2 382.2h0.8M44.3 376.5h0.8M45.1 378.1h0.8M45.9 376.1h0.8M43.1 380.8h0.8M47.6 376.2h0.8M43.9 384.9h0.8M43.4 381.1h0.8M48.5 378.0h0.8M47.4 374.6h0.8M44.7 377.5h0.8M44.5 382.9h0.8M50.4 374.8h0.8M42.7 380.0h0.8M41.5 380.0h0.8M45.7 376.6h0.8M45.6 370.9h0.8M46.2 370.9h0.8M42.4 375.3h0.8M43.2 381.6h0.8M44.4 376.0h0.8M45.6 384.9h0.8M44.2 379.4h0.8M47.4 379.0h0.8M40.9 389.0h0.8M49.9 368.9h0.8M44.1 379.7h0.8M46.7 380.8h0.8M43.5 373.1h0.8M44.5 382.4h0.8M41.4 373.2h0.8M44.1 369.1h0.8M43.5 375.8h0.8M45.4 374.7h0.8M41.9 376.0h0.8M44.1 374.8h0.8M44.2 381.2h0.8M48.6 389.0h0.7M41.3 376.3h0.7M35.1 390.2h0.7M41.5 378.6h0.7M46.1 370.6h0.7M45.9 378.6h0.7M37.5 380.6h0.7M47.2 380.1h0.7M45.9 381.4h0.7M49.0 377.5h0.7M47.4 376.3h0.7M46.9 373.9h0.7M43.8 389.2h0.7M45.8 377.9h0.7M40.0 374.1h0.7M44.9 384.4h0.7M45.8 381.9h0.7M44.0 386.9h0.7M42.8 375.5h0.7M47.5 379.2h0.7M43.2 375.3h0.7M43.3 382.5h0.7M45.5 371.5h0.7M45.8 379.9h0.7M40.5 383.4h0.7M43.2 376.8h0.7M47.1 386.7h0.7M41.7 381.4h0.7M41.0 392.7h0.7M42.4 386.0h0.7M41.8 383.7h0.7M42.6 381.8h0.7M43.9 374.8h0.7M52.1 379.3h0.7M38.1 383.9h0.7M37.9 385.7h0.7M42.1 379.7h0.7M48.8 379.5h0.7M48.6 383.2h0.7M41.2 384.0h0.7M46.0 382.7h0.7M35.9 377.0h0.7M47.5 383.2h0.7M44.8 381.8h0.7M53.6 373.1h0.7M43.0 379.0h0.7M47.5 376.1h0.7M48.4 374.1h0.7M45.2 375.6h0.7M44.8 374.7h0.7M38.3 385.4h0.7M45.3 375.4h0.7M44.9 384.7h0.7M40.6 378.1h0.7M46.2 382.0h0.7M56.6 378.9h0.7M54.5 377.2h0.7M54.9 376.8h0.7M52.8 375.9h0.7M53.5 376.3h0.7M52.5 379.8h0.7M52.3 379.8h0.7M52.8 379.0h0.7M56.8 378.6h0.7M53.3 378.1h0.7M54.8 373.1h0.7M53.5 378.5h0.7M53.7 378.2h0.7M55.7 380.1h0.7M56.0 379.6h0.7M54.0 377.9h0.7M54.0 377.1h0.7M54.2 373.2h0.7M53.9 377.9h0.7M52.8 377.9h0.7M55.4 377.5h0.7M58.0 370.7h0.7M54.1 372.9h0.7M56.2 385.4h0.7M50.2 378.4h0.7M55.4 377.2h0.7M55.4 371.7h0.7M55.9 379.0h0.7M54.5 376.4h0.7M55.6 376.6h0.7M54.9 376.6h0.7M50.7 377.9h0.7M54.8 380.1h0.7M53.0 377.9h0.7M55.5 378.4h0.7M56.6 383.6h0.7M53.0 372.6h0.7M56.0 382.3h0.7M56.1 380.3h0.7M53.4 376.0h0.7M56.0 375.4h0.7M51.4 375.2h0.7M58.7 383.4h0.7M53.3 376.0h0.7M54.9 375.9h0.7M79.8 408.5h0.7M58.4 408.5h0.7M47.2 408.5h0.7M68.1 408.5h0.7M51.4 408.5h0.7M37.7 408.5h0.7M67.0 408.5h0.7M31.0 408.5h0.7M71.0 408.5h0.7M41.6 408.5h0.7M61.6 408.5h0.7M79.5 408.5h0.7M58.8 408.5h0.7M62.9 408.5h0.7M44.7 408.5h0.7M28.6 408.5h0.7M30.3 408.5h0.7M36.2 408.5h0.7M60.4 408.5h0.7M50.9 408.5h0.7M55.1 408.5h0.7M74.9 408.5h0.7M27.9 374.4h0.8M27.9 378.2h0.8M27.9 394.8h0.8M27.9 370.2h0.8M27.9 369.4h0.8M27.9 383.1h0.8M27.9 373.4h0.8M27.9 383.2h0.8M27.9 378.0h0.8M27.9 392.1h0.8M27.9 392.3h0.8M27.9 377.3h0.8M27.9 393.6h0.8M27.9 387.8h0.8M27.9 374.6h0.8M27.9 405.8h0.8" stroke="#000" stroke-width="0.8" fill="none"/>
<rect x="88.00" y="368.30" width="52.00" height="41.00" fill="#fff" stroke="#333" stroke-width="0.75"/>
<line x1="110.5" y1="368.3" x2="110.5" y2="409.3" stroke="#333" stroke-width="0.7"/>
<line x1="88" y1="386.8" x2="140" y2="386.8" stroke="#555" stroke-width="0.7"/>
<ellipse cx="103.2" cy="378" rx="3.61" ry="7.04" fill="#000"/>
<path d="M103.3 380.5h0.8M106.0 381.6h0.8M106.0 372.3h0.8M101.7 380.0h0.8M106.6 378.5h0.8M101.2 376.4h0.8M101.6 374.2h0.8M106.7 375.2h0.8M103.2 387.7h0.8M106.0 379.5h0.8M101.8 379.8h0.8M107.0 380.8h0.8M106.2 378.4h0.8M104.4 377.1h0.8M104.2 383.8h0.8M99.8 377.7h0.8M103.8 375.4h0.8M102.5 381.5h0.8M107.9 380.8h0.8M104.0 371.0h0.8M107.7 378.3h0.8M103.1 373.0h0.8M103.1 373.1h0.8M103.4 380.1h0.8M103.3 379.3h0.8M101.2 384.4h0.8M101.7 369.9h0.8M102.8 374.6h0.8M100.8 376.4h0.8M103.9 372.7h0.8M102.9 384.4h0.8M104.8 377.3h0.8M103.5 377.5h0.8M103.1 381.3h0.8M103.1 374.0h0.8M104.7 375.3h0.8M103.5 387.8h0.8M100.7 373.0h0.8M98.8 379.6h0.8M101.7 369.6h0.8M99.7 380.8h0.8M101.4 376.4h0.8M104.0 384.1h0.8M107.8 382.6h0.8M103.5 378.8h0.8M107.4 384.4h0.8M102.5 380.1h0.8M103.9 378.2h0.8M102.0 372.1h0.8M101.9 371.1h0.8M106.1 380.4h0.8M100.4 384.3h0.8M105.3 369.4h0.8M107.5 381.6h0.8M108.1 372.5h0.8M104.4 379.9h0.8M103.7 378.8h0.8M105.7 371.3h0.8M100.3 371.8h0.8M101.9 375.3h0.8M104.1 379.2h0.8M103.3 375.0h0.8M102.2 382.3h0.8M105.0 378.5h0.8M102.4 385.0h0.8M101.8 380.9h0.8M105.9 376.8h0.8M105.1 373.0h0.8M105.6 378.9h0.8M99.5 381.0h0.8M101.1 383.7h0.8M101.6 377.3h0.8M103.9 376.5h0.8M103.8 375.5h0.8M104.8 378.0h0.8M105.9 378.1h0.8M99.0 378.4h0.8M104.3 382.8h0.8M100.7 384.9h0.8M102.8 388.7h0.8M102.9 381.0h0.8M102.3 373.0h0.8M105.8 382.1h0.8M106.8 381.8h0.8M101.9 370.6h0.8M101.7 375.0h0.8M101.3 380.6h0.8M104.0 376.8h0.8M103.6 377.3h0.8M103.7 381.4h0.8M105.5 374.9h0.8M99.7 384.4h0.8M103.5 383.0h0.8M99.3 376.5h0.8M103.3 371.5h0.8M102.0 381.2h0.8M105.7 385.1h0.8M101.2 371.7h0.8M104.4 382.2h0.8M103.7 372.2h0.8M105.0 381.6h0.8M104.5 375.8h0.8M103.9 381.5h0.8M101.9 369.7h0.8M104.0 380.2h0.8M103.2 382.0h0.8M101.8 377.6h0.8M102.5 380.6h0.8M107.0 376.9h0.8M108.0 384.8h0.8M105.1 380.6h0.8M107.4 377.2h0.8M102.9 373.2h0.8M104.3 384.0h0.8M104.5 379.9h0.8M102.7 378.8h0.8M99.8 382.7h0.8M102.2 373.1h0.8M101.4 374.3h0.8M105.2 382.7h0.8M100.0 382.1h0.8M105.3 375.4h0.8M99.7 374.7h0.8M101.7 379.5h0.8M102.4 368.9h0.8M103.7 371.1h0.8M105.3 372.6h0.8M101.6 374.2h0.8M101.9 383.8h0.8M105.2 380.7h0.8M104.0 371.1h0.8M102.0 375.5h0.8M100.9 380.3h0.8M101.5 374.8h0.8M104.6 384.0h0.8M103.6 373.6h0.8M96.8 378.8h0.8M106.1 379.3h0.8M105.4 384.6h0.8M105.9 376.0h0.8M105.7 381.5h0.8M99.6 376.2h0.8M99.9 377.5h0.8M104.6 373.2h0.8M98.4 383.8h0.8M104.1 384.6h0.8M100.1 382.8h0.8M108.1 387.0h0.8M102.7 379.2h0.8M102.8 382.5h0.8M105.6 378.4h0.8M100.0 381.3h0.8M102.1 380.8h0.8M103.8 385.3h0.8M105.9 376.0h0.8M104.0 385.9h0.8M101.9 379.9h0.8M106.0 383.6h0.8M104.4 372.1h0.8M100.2 379.1h0.8M104.1 389.4h0.8M101.2 383.1h0.8M105.0 370.5h0.8M101.3 378.7h0.8M102.0 377.3h0.8M104.3 374.4h0.8M104.3 375.1h0.8M101.9 380.4h0.8M101.9 379.3h0.8M107.0 378.1h0.8M102.9 381.3h0.8M102.3 382.9h0.8M100.2 380.8h0.8M102.0 374.4h0.8M107.4 374.2h0.8M107.3 380.9h0.8M106.6 373.6h0.8M106.0 384.5h0.8M102.9 377.4h0.8M109.0 378.8h0.8M102.2 375.2h0.8M104.2 379.5h0.8M103.6 385.7h0.8M102.4 380.1h0.8M106.6 373.5h0.8M105.6 386.2h0.8M100.0 373.1h0.8M100.8 369.7h0.8M104.3 369.7h0.8M104.4 384.5h0.8M99.4 376.6h0.8M98.7 381.5h0.8M101.5 376.8h0.8M103.3 380.4h0.8M102.4 378.1h0.8M101.9 378.5h0.8M100.4 378.3h0.8M98.7 375.8h0.8M107.7 378.4h0.8M100.2 379.2h0.8M100.9 370.6h0.8M101.5 381.3h0.8M104.1 377.6h0.8M101.0 373.2h0.8M106.4 379.1h0.8M100.0 389.1h0.8M100.5 377.7h0.8M103.7 377.3h0.8M102.5 371.8h0.8M100.7 385.6h0.8M101.4 381.8h0.8M99.2 376.8h0.8M103.8 382.6h0.8M100.6 380.7h0.8M104.1 374.7h0.8M104.3 374.0h0.8M101.3 377.9h0.8M96.8 377.5h0.8M100.8 371.4h0.8M102.2 381.4h0.8M102.2 383.7h0.8M100.5 372.1h0.8M106.8 379.8h0.8M105.4 374.3h0.8M105.1 379.2h0.8M104.7 378.1h0.8M106.0 375.1h0.8M100.9 371.4h0.8M105.9 374.7h0.8M100.7 373.8h0.8M102.2 372.3h0.8M102.5 375.2h0.8M101.9 373.7h0.8M103.3 375.9h0.8M103.5 379.1h0.8M101.9 374.4h0.8M105.0 370.9h0.8M101.5 376.7h0.8M102.4 382.4h0.8M102.2 382.3h0.8M99.8 369.9h0.8M106.1 380.0h0.8M104.3 378.6h0.8M104.3 372.6h0.8M105.4 375.6h0.8M105.5 378.4h0.8M98.6 372.2h0.8M105.9 377.4h0.8M102.3 379.1h0.8M102.2 375.6h0.8M103.4 378.6h0.8M106.8 378.2h0.8M107.6 386.1h0.8M107.2 382.8h0.8M103.5 378.6h0.8M102.9 374.7h0.8M103.0 375.1h0.8M107.1 380.4h0.8M102.1 369.4h0.8M103.1 376.1h0.8M100.6 372.9h0.8M97.9 380.5h0.8M103.0 389.6h0.8M103.1 377.3h0.8M106.6 378.6h0.8M103.6 376.3h0.8M101.8 384.7h0.8M105.6 385.7h0.8M102.4 378.1h0.8M101.1 382.3h0.8M99.9 380.5h0.8M105.8 384.3h0.8M101.0 382.9h0.8M101.5 374.6h0.8M100.1 383.2h0.8M107.1 375.3h0.8M101.4 376.5h0.8M109.1 382.5h0.8M101.9 370.0h0.8M101.6 383.3h0.8M107.6 376.8h0.8M101.6 375.7h0.8M98.8 382.1h0.8M100.6 382.8h0.8M99.2 372.3h0.8M103.9 374.6h0.8M105.0 378.0h0.8M100.4 380.8h0.8M105.2 369.4h0.8M107.5 380.2h0.8M105.0 369.7h0.8M101.5 376.4h0.8M105.7 371.5h0.8M101.1 368.9h0.8M102.6 379.5h0.8M99.2 375.4h0.8M104.4 385.1h0.8M104.8 376.6h0.8M100.4 373.8h0.8M101.6 378.7h0.8M103.1 385.5h0.8M103.9 373.2h0.8M106.8 382.3h0.8M103.4 374.8h0.8M98.8 373.4h0.8M105.3 374.4h0.8M100.1 378.9h0.8M103.8 380.7h0.8M104.7 384.3h0.8M101.2 382.4h0.8M100.9 381.1h0.8M103.6 379.1h0.8M105.5 377.9h0.8M105.8 381.9h0.8M103.5 375.5h0.8M101.4 375.6h0.8M102.7 377.9h0.8M110.2 380.9h0.8M105.0 374.1h0.8M101.5 376.6h0.8M103.7 373.4h0.8M107.0 375.5h0.8M103.2 379.2h0.8M103.7 380.7h0.8M103.9 378.7h0.8M98.7 374.8h0.8M97.7 380.8h0.8M103.9 377.1h0.8M101.3 375.4h0.8M107.5 385.8h0.8M103.1 383.8h0.8M99.5 369.3h0.8M102.1 374.1h0.8M101.9 378.8h0.8M110.3 375.0h0.8M103.3 379.2h0.8M103.1 382.2h0.8M107.4 372.4h0.8M103.6 376.8h0.8M104.0 371.1h0.8M104.4 378.9h0.8M102.3 374.6h0.8M99.9 373.9h0.8M104.8 380.4h0.8M103.1 380.3h0.8M101.8 378.3h0.8M103.3 380.5h0.8M103.0 377.4h0.8M102.9 375.1h0.8M108.5 380.3h0.8M104.2 388.3h0.8M106.5 371.0h0.8M104.8 381.8h0.8M107.6 383.9h0.8M105.0 372.7h0.8M101.2 379.2h0.8M104.4 373.4h0.8M102.3 376.2h0.8M103.3 379.5h0.8M102.5 372.5h0.8M106.1 385.2h0.8M103.0 382.6h0.8M104.2 381.0h0.8M104.3 374.6h0.8M104.5 382.5h0.8M101.1 386.8h0.8M108.1 386.2h0.8M107.9 381.3h0.8M102.4 375.3h0.8M101.3 378.5h0.8M103.1 381.0h0.8M98.4 388.4h0.8M108.6 377.9h0.8M104.8 380.1h0.8M103.8 377.1h0.8M102.9 374.3h0.8M103.6 377.9h0.8M104.0 374.2h0.8M103.3 378.2h0.8M104.6 373.2h0.8M104.2 382.4h0.8M104.6 376.3h0.8M102.0 376.9h0.8M104.9 385.0h0.8M102.8 375.1h0.8M104.1 378.9h0.8M101.1 374.7h0.8M103.0 381.0h0.8M100.4 373.4h0.8M104.4 372.5h0.8M103.5 379.6h0.8M102.9 373.4h0.8M103.1 376.5h0.8M104.0 374.2h0.8M105.8 370.5h0.8M102.8 378.0h0.8M105.5 375.3h0.8M104.5 375.5h0.8M104.9 385.8h0.8M102.3 380.0h0.8M101.0 382.4h0.8M106.0 378.2h0.8M100.5 379.8h0.8M105.9 382.9h0.8M105.1 369.8h0.8M101.6 384.4h0.8M100.3 383.1h0.8M107.6 381.4h0.8M105.8 376.5h0.8M100.3 377.5h0.8M102.7 377.8h0.8M105.5 378.1h0.7M103.8 381.5h0.7M103.2 390.1h0.7M104.7 379.5h0.7M102.5 375.2h0.7M107.7 379.9h0.7M99.6 375.6h0.7M102.7 376.3h0.7M106.8 372.0h0.7M104.9 379.9h0.7M99.2 379.3h0.7M102.9 382.0h0.7M101.7 380.8h0.7M97.6 372.5h0.7M105.8 385.2h0.7M103.2 375.4h0.7M100.5 383.0h0.7M105.4 372.8h0.7M96.9 387.7h0.7M103.7 373.6h0.7M103.4 384.4h0.7M94.5 385.7h0.7M107.0 381.4h0.7M110.8 375.3h0.7M103.2 385.3h0.7M101.0 374.8h0.7M102.0 378.6h0.7M99.6 381.9h0.7M105.0 379.4h0.7M108.9 377.0h0.7M107.6 375.7h0.7M103.9 377.9h0.7M101.5 375.3h0.7M102.0 374.7h0.7M95.8 375.4h0.7M101.4 375.9h0.7M99.6 378.2h0.7M105.8 377.5h0.7M101.5 387.1h0.7M106.5 384.5h0.7M107.1 377.0h0.7M102.8 385.7h0.7M101.3 378.3h0.7M104.5 381.2h0.7M102.3 384.9h0.7M102.6 383.4h0.7M106.8 383.0h0.7M105.7 372.0h0.7M98.8 375.3h0.7M104.8 388.0h0.7M99.1 380.8h0.7M100.3 374.6h0.7M102.3 383.2h0.7M103.9 386.1h0.7M99.9 384.3h0.7M106.3 379.4h0.7M115.7 375.5h0.7M112.8 375.9h0.7M113.6 384.5h0.7M113.9 381.3h0.7M115.2 377.8h0.7M116.1 375.0h0.7M116.4 378.0h0.7M112.1 378.6h0.7M115.8 378.2h0.7M117.7 375.9h0.7M115.7 378.9h0.7M113.2 380.1h0.7M112.2 373.6h0.7M115.7 374.2h0.7M114.6 372.7h0.7M114.9 374.1h0.7M115.4 373.0h0.7M115.6 376.3h0.7M114.9 376.8h0.7M115.0 373.6h0.7M110.2 377.1h0.7M113.1 375.8h0.7M115.6 371.8h0.7M113.4 375.4h0.7M112.9 377.8h0.7M114.5 374.9h0.7M113.0 379.1h0.7M113.6 378.5h0.7M115.6 372.1h0.7M112.8 377.0h0.7M115.4 379.0h0.7M116.2 379.7h0.7M114.1 376.5h0.7M116.2 375.9h0.7M116.7 372.9h0.7M116.0 376.5h0.7M111.3 379.5h0.7M115.4 377.1h0.7M112.9 375.8h0.7M117.5 374.8h0.7M108.6 374.8h0.7M112.6 376.7h0.7M114.1 374.6h0.7M113.3 379.7h0.7M112.2 382.1h0.7M113.8 374.2h0.7M116.2 378.5h0.7M112.9 378.9h0.7M111.5 374.6h0.7M116.8 376.3h0.7M112.5 378.3h0.7M116.5 376.9h0.7M111.5 376.1h0.7M115.6 379.0h0.7M118.1 376.3h0.7M114.6 408.5h0.7M94.5 408.5h0.7M133.7 408.5h0.7M123.5 408.5h0.7M130.0 408.5h0.7M138.5 408.5h0.7M133.4 408.5h0.7M110.0 408.5h0.7M96.8 408.5h0.7M103.5 408.5h0.7M114.6 408.5h0.7M114.2 408.5h0.7M98.4 408.5h0.7M98.1 408.5h0.7M120.5 408.5h0.7M119.2 408.5h0.7M106.7 408.5h0.7M138.7 408.5h0.7M120.8 408.5h0.7M91.1 408.5h0.7M109.6 408.5h0.7M128.4 408.5h0.7M88.4 381.3h0.8M88.4 396.2h0.8M88.4 369.5h0.8M88.4 381.2h0.8M88.4 402.1h0.8M88.4 392.2h0.8M88.4 395.4h0.8M88.4 377.0h0.8M88.4 388.7h0.8M88.4 390.9h0.8M88.4 379.7h0.8M88.4 394.5h0.8M88.4 390.0h0.8M88.4 408.2h0.8M88.4 391.7h0.8M88.4 385.3h0.8" stroke="#000" stroke-width="0.8" fill="none"/>
<rect x="147.00" y="368.30" width="53.80" height="41.00" fill="#fff" stroke="#333" stroke-width="0.75"/>
<line x1="169" y1="368.3" x2="169" y2="409.3" stroke="#333" stroke-width="0.7"/>
<line x1="147" y1="386.8" x2="200.8" y2="386.8" stroke="#555" stroke-width="0.7"/>
<ellipse cx="164" cy="377" rx="4.30" ry="7.04" fill="#000"/>
<path d="M165.2 378.8h0.8M164.1 374.9h0.8M165.4 378.6h0.8M158.8 375.8h0.8M160.2 371.7h0.8M164.4 377.3h0.8M164.3 373.1h0.8M163.4 372.9h0.8M165.1 380.1h0.8M168.9 382.7h0.8M161.7 374.9h0.8M161.4 378.4h0.8M169.5 380.2h0.8M157.8 371.4h0.8M160.4 379.3h0.8M164.0 378.3h0.8M169.0 373.3h0.8M161.6 385.8h0.8M165.0 373.5h0.8M158.3 370.2h0.8M157.2 377.3h0.8M164.1 381.4h0.8M163.6 373.9h0.8M161.9 385.5h0.8M159.1 377.8h0.8M164.1 379.8h0.8M162.9 379.2h0.8M166.3 376.3h0.8M162.7 376.2h0.8M161.3 376.1h0.8M163.2 377.9h0.8M167.7 382.9h0.8M162.8 379.7h0.8M164.8 380.4h0.8M164.1 378.2h0.8M162.7 373.5h0.8M166.4 382.8h0.8M165.9 379.0h0.8M164.7 375.0h0.8M159.0 380.0h0.8M164.6 374.5h0.8M161.3 382.7h0.8M158.9 384.9h0.8M165.8 387.6h0.8M162.0 376.9h0.8M162.6 377.7h0.8M163.4 373.6h0.8M167.0 373.5h0.8M162.6 379.5h0.8M162.5 375.1h0.8M165.0 375.4h0.8M160.5 376.5h0.8M163.4 384.6h0.8M160.9 381.3h0.8M161.8 375.4h0.8M163.1 378.2h0.8M166.4 384.8h0.8M162.2 383.0h0.8M166.8 380.6h0.8M161.9 381.0h0.8M163.7 378.6h0.8M163.2 380.0h0.8M167.1 382.1h0.8M163.4 381.5h0.8M168.1 372.8h0.8M168.1 371.0h0.8M165.5 379.7h0.8M168.2 378.2h0.8M162.7 373.4h0.8M160.5 380.4h0.8M163.3 373.8h0.8M165.5 373.6h0.8M162.8 374.9h0.8M168.6 383.6h0.8M163.6 370.0h0.8M164.8 377.3h0.8M165.0 379.5h0.8M163.1 381.1h0.8M166.3 377.9h0.8M162.9 374.8h0.8M165.9 372.1h0.8M163.6 373.6h0.8M160.1 379.7h0.8M163.9 377.2h0.8M166.4 370.3h0.8M163.8 378.3h0.8M166.3 372.1h0.8M166.0 378.0h0.8M167.8 382.1h0.8M165.5 386.6h0.8M164.0 375.1h0.8M163.0 372.8h0.8M163.8 378.9h0.8M166.8 375.4h0.8M167.9 374.1h0.8M161.9 373.5h0.8M168.1 379.3h0.8M161.0 379.3h0.8M165.3 376.0h0.8M164.1 375.7h0.8M162.5 369.2h0.8M163.8 382.6h0.8M167.9 375.8h0.8M162.0 376.1h0.8M166.5 378.5h0.8M162.4 378.6h0.8M163.4 379.3h0.8M162.9 370.6h0.8M164.2 380.3h0.8M161.0 376.5h0.8M166.4 375.4h0.8M162.2 385.9h0.8M166.3 381.5h0.8M161.4 384.1h0.8M159.5 374.7h0.8M166.0 382.8h0.8M161.5 374.1h0.8M165.7 379.4h0.8M162.8 379.3h0.8M166.1 378.3h0.8M165.4 383.6h0.8M162.7 377.7h0.8M162.6 381.5h0.8M162.9 379.1h0.8M164.4 377.3h0.8M168.7 376.6h0.8M167.8 380.6h0.8M167.6 376.3h0.8M166.5 380.3h0.8M162.3 378.2h0.8M163.7 376.8h0.8M167.5 373.9h0.8M159.4 369.5h0.8M162.8 374.2h0.8M164.0 379.4h0.8M168.8 378.3h0.8M165.3 373.8h0.8M165.6 382.9h0.8M166.4 383.8h0.8M166.2 370.5h0.8M163.2 379.5h0.8M165.1 373.5h0.8M161.6 381.2h0.8M160.4 383.2h0.8M164.1 378.3h0.8M160.4 374.4h0.8M165.9 370.7h0.8M169.6 370.9h0.8M160.7 377.2h0.8M165.3 380.2h0.8M163.0 376.1h0.8M163.4 374.5h0.8M157.1 381.1h0.8M164.7 377.7h0.8M162.3 378.1h0.8M164.0 376.7h0.8M167.0 369.6h0.8M164.7 372.4h0.8M163.1 383.5h0.8M161.1 376.6h0.8M162.4 381.1h0.8M161.4 369.8h0.8M165.4 375.5h0.8M163.1 381.6h0.8M161.6 375.4h0.8M164.4 378.8h0.8M162.6 381.5h0.8M170.0 375.2h0.8M167.8 375.5h0.8M164.4 375.5h0.8M162.3 371.5h0.8M162.9 382.6h0.8M167.1 375.5h0.8M162.6 374.0h0.8M160.8 384.8h0.8M165.8 377.5h0.8M162.7 372.6h0.8M167.5 380.4h0.8M161.4 381.3h0.8M161.0 379.8h0.8M161.4 375.2h0.8M165.3 378.9h0.8M166.7 373.4h0.8M168.2 382.8h0.8M164.0 379.0h0.8M161.9 376.3h0.8M160.4 377.4h0.8M164.5 382.8h0.8M166.5 380.5h0.8M163.0 376.0h0.8M163.1 378.0h0.8M158.8 380.3h0.8M159.8 374.8h0.8M164.1 374.8h0.8M168.5 376.6h0.8M168.2 382.0h0.8M162.7 378.7h0.8M167.5 375.6h0.8M164.2 374.6h0.8M164.2 375.5h0.8M164.2 381.3h0.8M167.7 377.6h0.8M164.5 380.7h0.8M163.2 372.4h0.8M167.0 373.0h0.8M166.5 372.9h0.8M168.9 372.5h0.8M166.3 383.4h0.8M161.4 383.4h0.8M161.8 369.4h0.8M165.9 380.0h0.8M163.9 375.7h0.8M163.0 375.8h0.8M159.2 374.6h0.8M168.8 383.7h0.8M163.0 373.9h0.8M165.1 381.6h0.8M165.9 372.0h0.8M164.4 377.6h0.8M167.9 382.1h0.8M165.4 382.2h0.8M162.9 383.6h0.8M162.9 378.7h0.8M166.5 373.1h0.8M162.1 369.4h0.8M164.4 376.8h0.8M163.1 379.1h0.8M158.3 376.9h0.8M164.2 375.9h0.8M166.1 384.5h0.8M162.8 373.0h0.8M162.4 377.4h0.8M165.6 373.3h0.8M166.7 372.6h0.8M166.2 378.8h0.8M165.2 386.3h0.8M163.3 376.3h0.8M165.3 380.7h0.8M160.4 378.2h0.8M162.0 379.7h0.8M167.7 377.2h0.8M163.7 377.8h0.8M156.1 380.3h0.8M165.5 377.7h0.8M162.9 373.9h0.8M163.5 382.2h0.8M163.7 382.8h0.8M157.1 375.0h0.8M164.7 376.9h0.8M159.5 374.1h0.8M167.4 371.4h0.8M161.3 372.3h0.8M162.5 379.8h0.8M167.9 374.5h0.8M162.4 384.2h0.8M163.8 371.7h0.8M162.3 373.9h0.8M161.3 375.6h0.8M166.4 378.5h0.8M160.3 389.0h0.8M161.3 377.5h0.8M164.1 380.3h0.8M163.1 379.0h0.8M169.7 377.4h0.8M161.1 378.4h0.8M161.8 375.4h0.8M164.5 378.4h0.8M163.2 380.6h0.8M163.5 371.4h0.8M166.4 375.4h0.8M167.3 374.2h0.8M165.5 378.4h0.8M156.8 370.6h0.8M161.0 383.0h0.8M158.9 380.9h0.8M166.9 379.1h0.8M165.8 374.9h0.8M164.0 378.0h0.8M165.1 380.0h0.8M163.4 374.0h0.8M162.5 378.8h0.8M159.5 371.6h0.8M162.9 374.6h0.8M163.1 375.9h0.8M163.2 379.0h0.8M165.3 382.1h0.8M166.8 372.5h0.8M165.7 375.6h0.8M161.8 383.6h0.8M162.3 373.3h0.8M162.9 373.3h0.8M166.7 378.6h0.8M167.8 378.8h0.8M162.3 381.5h0.8M162.2 375.0h0.8M163.5 377.2h0.8M167.2 374.4h0.8M164.9 376.9h0.8M160.6 372.3h0.8M163.4 378.7h0.8M164.9 379.1h0.8M164.1 375.1h0.8M165.1 372.7h0.8M160.4 375.6h0.8M160.1 374.8h0.8M162.0 374.6h0.8M163.9 373.5h0.8M162.9 369.6h0.8M164.4 373.2h0.8M161.8 378.0h0.8M157.4 375.4h0.8M164.3 377.4h0.8M160.0 378.0h0.8M164.4 372.8h0.8M166.0 376.8h0.8M164.1 375.1h0.8M165.5 377.4h0.8M167.1 379.0h0.8M162.3 376.0h0.8M166.5 375.4h0.8M165.0 379.3h0.8M164.4 377.9h0.8M164.4 373.7h0.8M167.3 376.4h0.8M162.3 373.9h0.8M165.0 372.3h0.8M161.3 385.7h0.8M167.5 381.6h0.8M167.7 379.6h0.8M159.4 382.2h0.8M167.4 379.1h0.8M158.7 382.4h0.8M167.7 374.9h0.8M164.3 380.4h0.8M163.8 381.8h0.8M164.2 380.0h0.8M164.2 370.6h0.8M161.3 390.7h0.8M164.8 382.7h0.8M167.1 384.4h0.8M165.5 374.4h0.8M163.5 380.9h0.8M158.1 377.9h0.8M166.2 382.8h0.8M161.5 374.2h0.8M158.9 372.6h0.8M165.5 386.0h0.8M160.9 383.0h0.8M165.2 374.8h0.8M163.8 378.0h0.8M169.8 384.8h0.8M170.2 377.6h0.8M166.7 382.9h0.8M165.4 378.6h0.8M163.5 375.2h0.8M160.7 385.5h0.8M164.7 376.9h0.8M164.5 384.9h0.8M163.7 375.8h0.8M162.0 376.9h0.8M162.8 377.9h0.8M172.5 378.7h0.8M161.7 385.4h0.8M166.4 380.6h0.8M165.9 380.6h0.8M165.8 383.1h0.8M166.7 382.9h0.8M162.6 377.0h0.8M162.0 381.2h0.8M166.3 375.0h0.8M165.6 388.4h0.8M167.4 372.1h0.8M163.7 379.8h0.8M163.9 378.7h0.8M167.2 378.4h0.8M161.0 380.1h0.8M163.7 377.5h0.8M162.5 371.0h0.8M160.6 375.5h0.8M167.1 371.9h0.8M162.0 379.3h0.8M157.4 382.9h0.8M161.9 379.9h0.8M162.7 378.3h0.8M164.3 377.0h0.8M159.0 370.6h0.8M163.9 383.2h0.8M162.5 379.3h0.8M164.4 379.1h0.8M166.7 370.5h0.8M164.7 376.2h0.8M163.1 373.3h0.8M161.9 372.5h0.8M161.0 388.0h0.8M168.6 377.0h0.8M166.0 372.7h0.8M156.4 369.0h0.8M164.4 383.3h0.8M163.9 372.6h0.8M163.3 372.6h0.8M160.2 376.0h0.8M162.9 373.5h0.8M161.6 372.9h0.8M164.6 383.1h0.8M163.4 386.8h0.8M157.7 379.6h0.7M159.5 377.1h0.7M164.4 381.3h0.7M168.4 374.8h0.7M159.2 376.9h0.7M165.1 373.9h0.7M167.5 387.8h0.7M158.5 380.1h0.7M164.8 376.7h0.7M158.5 385.7h0.7M164.8 375.2h0.7M165.7 381.8h0.7M167.0 381.4h0.7M165.6 371.1h0.7M162.4 378.8h0.7M153.2 390.5h0.7M162.5 371.8h0.7M156.9 379.5h0.7M164.1 374.6h0.7M162.4 372.8h0.7M161.1 377.4h0.7M161.5 382.0h0.7M163.4 378.8h0.7M165.6 385.4h0.7M166.3 379.3h0.7M163.4 373.3h0.7M162.7 382.0h0.7M164.9 375.7h0.7M158.8 369.0h0.7M165.3 384.0h0.7M165.5 370.0h0.7M163.2 379.3h0.7M160.4 380.0h0.7M163.2 373.1h0.7M159.2 382.7h0.7M165.4 372.8h0.7M160.0 383.2h0.7M166.3 376.2h0.7M170.2 376.3h0.7M159.9 384.4h0.7M163.3 380.0h0.7M164.1 372.1h0.7M159.4 376.9h0.7M169.5 372.1h0.7M169.3 379.3h0.7M159.7 379.6h0.7M166.2 372.7h0.7M155.7 380.1h0.7M159.7 380.6h0.7M156.6 377.2h0.7M160.8 369.4h0.7M163.1 379.0h0.7M161.8 371.1h0.7M166.1 380.9h0.7M170.5 383.2h0.7M165.4 379.5h0.7M164.1 370.3h0.7M169.7 381.1h0.7M173.9 374.0h0.8M176.6 377.6h0.8M172.5 377.9h0.8M177.2 376.5h0.8M174.9 375.6h0.8M173.3 378.8h0.8M179.1 376.7h0.8M174.1 378.2h0.8M173.8 378.1h0.8M175.6 374.3h0.8M172.6 376.3h0.8M175.6 377.1h0.8M176.2 373.6h0.8M175.1 375.2h0.8M174.5 377.2h0.8M172.8 376.0h0.8M172.5 377.1h0.8M173.0 375.4h0.8M174.6 375.1h0.8M176.1 375.1h0.8M175.6 377.1h0.8M172.7 376.0h0.8M173.0 375.7h0.8M173.9 380.4h0.8M173.6 379.8h0.8M175.0 373.7h0.8M170.7 377.9h0.8M171.2 378.0h0.8M175.9 377.3h0.8M174.0 376.0h0.8M174.7 375.9h0.8M173.5 375.7h0.8M176.1 375.2h0.8M174.9 374.0h0.8M173.2 373.6h0.8M174.0 378.0h0.8M174.8 375.5h0.8M175.2 375.8h0.8M174.9 377.1h0.8M175.1 371.2h0.8M172.3 378.1h0.8M174.1 381.3h0.8M173.9 375.3h0.8M176.6 377.7h0.8M177.2 377.6h0.8M174.0 378.0h0.8M173.1 375.5h0.8M173.4 376.0h0.8M175.5 375.5h0.8M174.8 375.4h0.8M175.7 370.6h0.8M174.0 376.9h0.8M172.6 378.7h0.8M174.6 379.2h0.8M175.8 377.9h0.8M174.1 374.2h0.8M174.0 375.5h0.8M174.7 375.5h0.8M179.0 373.1h0.8M176.1 375.5h0.8M173.9 378.5h0.8M174.3 373.9h0.8M174.9 376.1h0.8M171.1 376.9h0.8M172.7 374.9h0.8M175.0 377.1h0.8M173.9 381.1h0.8M174.9 375.2h0.8M174.7 376.2h0.8M170.9 373.2h0.8M172.2 380.9h0.8M174.0 375.9h0.8M173.4 378.6h0.8M174.3 380.1h0.8M175.5 380.0h0.8M174.1 377.3h0.8M173.6 376.1h0.8M171.6 375.3h0.8M172.8 375.1h0.8M176.2 377.1h0.8M176.2 378.3h0.8M175.7 378.6h0.8M173.4 378.2h0.8M173.8 375.4h0.8M176.1 381.1h0.8M172.8 380.2h0.8M175.6 374.7h0.8M174.7 377.3h0.8M174.9 375.7h0.8M172.3 376.6h0.8M175.6 378.2h0.8M175.3 378.8h0.8M172.8 376.4h0.8M174.8 378.6h0.8M174.5 377.6h0.8M174.5 380.9h0.8M170.9 376.4h0.8M178.1 377.0h0.8M171.5 376.8h0.8M172.1 375.1h0.8M174.6 380.1h0.8M175.0 377.9h0.8M175.9 376.9h0.8M173.0 376.3h0.8M174.8 375.9h0.8M173.3 375.7h0.8M172.0 374.3h0.8M174.2 375.7h0.8M174.4 379.5h0.8M174.8 376.4h0.8M172.5 374.2h0.8M174.9 374.7h0.8M175.0 374.2h0.8M174.5 376.3h0.8M175.8 375.7h0.8M173.7 377.0h0.8M174.4 380.1h0.8M173.9 375.4h0.8M173.8 377.5h0.8M174.7 378.0h0.8M172.2 381.7h0.8M177.1 376.4h0.8M172.4 376.8h0.8M174.9 371.8h0.8M174.3 373.4h0.8M175.0 379.4h0.8M175.9 373.3h0.8M176.4 378.4h0.8M173.7 377.6h0.8M176.6 375.8h0.8M174.3 375.3h0.8M176.1 371.9h0.8M176.5 374.5h0.8M175.7 373.1h0.8M172.9 375.2h0.8M175.6 373.1h0.8M175.2 375.2h0.8M176.2 375.8h0.8M175.0 376.1h0.8M177.1 375.7h0.8M174.3 380.7h0.8M174.4 378.0h0.8M173.2 376.9h0.8M170.8 376.7h0.8M173.3 373.3h0.8M172.1 378.9h0.8M175.0 373.3h0.8M177.1 375.0h0.8M173.7 377.0h0.8M172.5 373.1h0.8M173.2 379.0h0.8M175.8 373.2h0.8M176.2 376.6h0.8M175.1 376.6h0.8M174.9 374.4h0.8M172.9 375.0h0.8M173.7 377.8h0.8M172.4 379.9h0.8M173.3 375.3h0.8M175.4 377.4h0.8M173.8 374.2h0.8M172.8 373.1h0.8M176.1 378.8h0.8M177.2 377.6h0.8M174.8 378.1h0.8M175.8 376.0h0.8M174.8 381.1h0.8M171.7 373.5h0.8M172.8 378.1h0.8M176.1 375.8h0.8M199.2 408.5h0.7M157.8 408.5h0.7M191.0 408.5h0.7M156.4 408.5h0.7M175.3 408.5h0.7M148.0 408.5h0.7M157.1 408.5h0.7M197.0 408.5h0.7M171.5 408.5h0.7M189.9 408.5h0.7M161.0 408.5h0.7M166.2 408.5h0.7M153.2 408.5h0.7M176.6 408.5h0.7M192.7 408.5h0.7M174.6 408.5h0.7M167.5 408.5h0.7M196.1 408.5h0.7M194.3 408.5h0.7M182.5 408.5h0.7M151.9 408.5h0.7M180.3 408.5h0.7M147.4 386.6h0.8M147.4 406.7h0.8M147.4 383.4h0.8M147.4 395.1h0.8M147.4 393.9h0.8M147.4 384.0h0.8M147.4 389.7h0.8M147.4 395.7h0.8M147.4 404.7h0.8M147.4 388.7h0.8M147.4 383.5h0.8M147.4 407.4h0.8M147.4 371.5h0.8M147.4 401.9h0.8M147.4 396.0h0.8M147.4 391.0h0.8" stroke="#000" stroke-width="0.8" fill="none"/>
<rect x="206.30" y="368.30" width="53.20" height="41.00" fill="#fff" stroke="#333" stroke-width="0.75"/>
<line x1="228.5" y1="368.3" x2="228.5" y2="409.3" stroke="#333" stroke-width="0.7"/>
<line x1="206.3" y1="386.8" x2="259.5" y2="386.8" stroke="#555" stroke-width="0.7"/>
<ellipse cx="222" cy="377.8" rx="4.73" ry="7.57" fill="#000"/>
<path d="M217.1 380.4h0.8M225.9 372.9h0.8M222.0 376.5h0.8M221.2 380.1h0.8M228.2 374.8h0.8M224.5 382.9h0.8M221.2 377.1h0.8M218.0 382.8h0.8M220.4 374.8h0.8M222.2 373.8h0.8M218.9 376.4h0.8M226.4 376.8h0.8M223.6 371.0h0.8M216.2 386.2h0.8M220.8 370.7h0.8M221.7 380.6h0.8M216.9 373.7h0.8M222.8 373.5h0.8M224.4 382.3h0.8M223.3 375.8h0.8M221.9 374.9h0.8M221.6 379.3h0.8M221.1 382.3h0.8M229.7 375.3h0.8M223.0 381.6h0.8M223.9 376.7h0.8M220.6 382.5h0.8M223.9 380.2h0.8M219.6 380.7h0.8M224.4 376.9h0.8M223.9 387.9h0.8M216.4 380.6h0.8M218.5 371.5h0.8M221.3 380.3h0.8M222.2 372.4h0.8M217.7 375.2h0.8M222.0 373.9h0.8M217.5 386.0h0.8M219.5 377.1h0.8M220.4 375.1h0.8M222.1 376.4h0.8M223.8 372.3h0.8M217.6 386.9h0.8M221.8 381.4h0.8M225.5 380.4h0.8M222.1 370.6h0.8M217.2 382.4h0.8M224.0 380.5h0.8M218.8 372.3h0.8M222.5 373.0h0.8M226.7 374.9h0.8M220.3 381.8h0.8M223.0 373.6h0.8M224.5 386.8h0.8M218.3 376.6h0.8M223.9 381.1h0.8M224.9 379.8h0.8M216.0 377.7h0.8M220.0 372.3h0.8M218.7 381.4h0.8M221.1 387.0h0.8M223.4 368.9h0.8M224.7 383.6h0.8M222.1 372.1h0.8M227.3 371.7h0.8M221.7 368.9h0.8M218.2 369.8h0.8M225.3 383.3h0.8M220.8 371.4h0.8M221.8 379.6h0.8M217.4 372.4h0.8M221.7 381.1h0.8M222.2 379.9h0.8M222.9 373.5h0.8M221.6 376.0h0.8M223.4 374.2h0.8M226.3 377.9h0.8M223.6 380.8h0.8M225.1 379.7h0.8M216.7 374.8h0.8M227.6 380.0h0.8M223.7 380.0h0.8M220.1 374.6h0.8M220.1 383.3h0.8M223.1 386.2h0.8M223.5 386.7h0.8M223.4 372.2h0.8M227.2 379.4h0.8M225.6 378.8h0.8M221.0 378.6h0.8M218.6 372.2h0.8M219.3 375.3h0.8M217.9 377.3h0.8M222.9 387.4h0.8M227.6 377.6h0.8M224.7 376.8h0.8M223.2 377.6h0.8M220.4 378.2h0.8M217.5 379.9h0.8M221.1 372.7h0.8M220.9 380.4h0.8M219.9 380.0h0.8M223.7 385.2h0.8M218.7 377.3h0.8M223.6 384.9h0.8M222.8 381.4h0.8M217.6 375.0h0.8M227.0 376.5h0.8M228.6 374.3h0.8M221.2 370.2h0.8M223.9 379.1h0.8M228.1 378.6h0.8M221.2 371.1h0.8M221.8 382.3h0.8M224.2 383.6h0.8M224.6 377.6h0.8M223.8 378.6h0.8M217.9 385.9h0.8M223.1 372.8h0.8M223.2 379.2h0.8M225.0 384.7h0.8M212.7 380.4h0.8M226.7 373.3h0.8M216.3 379.1h0.8M223.0 379.5h0.8M218.6 375.6h0.8M222.6 381.4h0.8M228.7 379.2h0.8M225.3 377.2h0.8M221.7 373.1h0.8M224.2 369.2h0.8M222.3 378.4h0.8M222.9 384.0h0.8M221.7 378.2h0.8M224.6 370.4h0.8M221.1 378.1h0.8M224.9 374.0h0.8M224.5 379.6h0.8M217.5 370.7h0.8M217.6 378.5h0.8M222.6 381.3h0.8M224.5 375.2h0.8M225.3 381.7h0.8M223.4 380.1h0.8M218.1 379.5h0.8M218.8 372.1h0.8M220.9 378.5h0.8M221.8 376.2h0.8M218.9 378.7h0.8M219.7 371.1h0.8M222.3 384.8h0.8M220.8 372.7h0.8M226.2 386.0h0.8M221.1 376.8h0.8M222.6 391.9h0.8M222.4 382.6h0.8M223.4 369.1h0.8M218.6 371.9h0.8M223.3 378.3h0.8M227.5 376.5h0.8M222.9 378.2h0.8M222.4 388.9h0.8M222.9 384.9h0.8M226.0 374.9h0.8M224.1 376.0h0.8M222.3 378.6h0.8M222.1 375.5h0.8M226.8 376.5h0.8M224.2 385.9h0.8M223.9 382.7h0.8M226.3 383.0h0.8M227.3 370.9h0.8M228.0 377.9h0.8M216.6 374.7h0.8M217.7 377.7h0.8M217.4 373.0h0.8M222.9 378.6h0.8M219.5 376.7h0.8M221.7 378.2h0.8M222.0 376.7h0.8M224.7 370.1h0.8M220.5 378.4h0.8M220.8 375.1h0.8M220.7 378.8h0.8M225.8 376.9h0.8M221.2 379.5h0.8M222.8 376.0h0.8M220.2 380.8h0.8M222.1 375.1h0.8M215.3 369.5h0.8M222.0 377.2h0.8M223.3 378.9h0.8M220.5 371.7h0.8M218.6 377.1h0.8M218.5 381.4h0.8M217.9 369.2h0.8M221.4 369.3h0.8M227.0 373.0h0.8M221.8 376.6h0.8M219.5 369.3h0.8M216.3 382.0h0.8M225.1 388.2h0.8M217.5 380.5h0.8M222.0 381.9h0.8M220.4 381.3h0.8M224.8 380.7h0.8M226.5 377.0h0.8M226.8 374.4h0.8M222.0 373.9h0.8M222.0 382.8h0.8M224.2 378.3h0.8M227.2 370.7h0.8M219.5 385.1h0.8M223.0 372.1h0.8M226.6 383.3h0.8M220.3 384.0h0.8M219.4 382.2h0.8M223.8 377.2h0.8M217.6 376.5h0.8M214.9 375.1h0.8M216.3 383.7h0.8M223.8 379.6h0.8M220.4 388.0h0.8M224.4 378.1h0.8M223.5 382.4h0.8M220.2 371.0h0.8M221.9 369.7h0.8M222.0 381.5h0.8M226.7 379.1h0.8M222.6 381.4h0.8M226.3 376.3h0.8M218.2 374.0h0.8M218.1 373.5h0.8M221.6 379.5h0.8M222.5 378.1h0.8M220.9 379.8h0.8M224.7 381.5h0.8M226.6 376.4h0.8M221.2 386.0h0.8M222.6 379.8h0.8M221.0 382.5h0.8M220.8 372.9h0.8M221.8 375.7h0.8M224.6 376.0h0.8M222.4 376.8h0.8M223.0 374.8h0.8M225.4 370.9h0.8M220.8 374.4h0.8M224.0 378.0h0.8M223.5 376.2h0.8M219.8 372.4h0.8M221.0 375.2h0.8M222.9 379.5h0.8M225.0 377.3h0.8M219.7 372.7h0.8M222.2 379.5h0.8M228.0 378.7h0.8M227.4 386.8h0.8M218.8 383.6h0.8M225.5 384.3h0.8M222.0 382.4h0.8M220.5 377.5h0.8M222.1 386.4h0.8M221.3 382.4h0.8M222.2 374.4h0.8M222.7 381.0h0.8M219.8 380.9h0.8M219.8 373.6h0.8M222.7 376.7h0.8M219.0 370.0h0.8M222.1 379.0h0.8M220.6 378.7h0.8M217.3 379.7h0.8M223.3 379.1h0.8M220.1 378.2h0.8M222.4 383.0h0.8M222.9 379.0h0.8M219.8 382.0h0.8M225.6 375.4h0.8M224.0 379.3h0.8M221.9 371.6h0.8M227.4 368.8h0.8M222.9 376.0h0.8M225.5 375.8h0.8M222.1 380.7h0.8M223.4 375.3h0.8M224.1 379.7h0.8M225.0 375.3h0.8M221.9 375.9h0.8M219.4 379.0h0.8M223.3 384.6h0.8M221.0 379.7h0.8M225.5 377.3h0.8M222.2 378.4h0.8M219.9 373.1h0.8M225.4 378.6h0.8M221.8 371.8h0.8M222.4 383.4h0.8M218.5 373.5h0.8M225.4 384.7h0.8M226.8 375.1h0.8M223.8 374.2h0.8M223.6 376.0h0.8M222.6 384.2h0.8M223.0 376.6h0.8M222.2 379.1h0.8M220.4 378.8h0.8M223.8 385.3h0.8M215.7 372.1h0.8M218.2 382.0h0.8M229.5 378.7h0.8M222.4 383.3h0.8M214.5 376.9h0.8M212.5 378.5h0.8M220.4 375.5h0.8M223.0 375.0h0.8M225.4 377.8h0.8M223.2 389.9h0.8M220.6 382.2h0.8M219.5 383.8h0.8M224.9 378.5h0.8M225.0 385.5h0.8M226.2 377.8h0.8M221.8 383.1h0.8M217.5 374.9h0.8M223.5 380.5h0.8M227.7 386.2h0.8M223.0 379.9h0.8M218.0 376.9h0.8M222.8 376.7h0.8M222.2 380.7h0.8M219.1 375.1h0.8M216.6 383.3h0.8M218.8 369.7h0.8M224.3 376.8h0.8M224.9 376.0h0.8M228.5 381.2h0.8M222.5 378.4h0.8M221.4 381.7h0.8M228.1 375.8h0.8M218.7 380.6h0.8M225.3 370.7h0.8M219.9 373.1h0.8M223.7 380.2h0.8M219.8 372.4h0.8M224.0 377.1h0.8M227.8 382.5h0.8M220.2 376.5h0.8M221.2 374.3h0.8M222.2 382.4h0.8M217.4 376.7h0.8M226.5 381.3h0.8M219.5 374.0h0.8M219.4 370.2h0.8M225.5 378.1h0.8M219.9 371.0h0.8M220.8 375.4h0.8M227.2 375.6h0.8M222.4 382.9h0.8M224.0 376.9h0.8M215.4 384.4h0.8M223.8 375.7h0.8M221.7 373.3h0.8M219.3 370.8h0.8M223.5 380.3h0.8M222.5 381.5h0.8M223.6 378.4h0.8M219.3 380.6h0.8M225.6 380.8h0.8M225.8 375.6h0.8M219.0 383.7h0.8M220.2 378.9h0.8M221.4 377.9h0.8M221.2 375.3h0.8M216.6 386.8h0.8M219.3 372.5h0.8M223.7 385.5h0.8M221.3 381.3h0.8M223.8 371.9h0.8M225.7 369.8h0.8M220.3 376.1h0.8M225.8 378.4h0.8M221.6 374.0h0.8M222.3 378.0h0.8M224.2 384.4h0.8M224.2 377.9h0.8M221.5 385.4h0.8M222.6 377.7h0.8M227.4 385.2h0.8M223.7 377.3h0.8M220.1 382.8h0.8M220.6 382.3h0.8M219.6 378.3h0.8M223.2 378.5h0.8M222.7 379.6h0.8M218.6 372.6h0.8M221.6 386.3h0.8M221.6 373.4h0.8M220.0 378.0h0.8M225.6 375.1h0.8M223.7 378.7h0.8M220.9 373.4h0.8M221.5 374.4h0.8M223.6 369.5h0.8M225.4 381.4h0.8M223.7 384.8h0.8M223.8 369.8h0.8M222.2 379.9h0.8M219.1 371.7h0.7M223.9 382.0h0.7M220.2 377.3h0.7M219.8 375.2h0.7M221.8 385.6h0.7M215.1 376.7h0.7M228.9 380.8h0.7M222.7 384.1h0.7M217.7 371.2h0.7M214.9 369.6h0.7M223.1 384.1h0.7M220.2 374.5h0.7M223.7 382.7h0.7M223.0 373.5h0.7M219.2 388.2h0.7M227.7 381.8h0.7M223.2 379.9h0.7M219.5 378.5h0.7M230.2 373.3h0.7M219.2 379.8h0.7M225.8 384.0h0.7M217.9 378.0h0.7M220.9 371.1h0.7M222.3 375.8h0.7M225.9 381.5h0.7M218.7 379.3h0.7M220.5 374.8h0.7M219.9 385.5h0.7M218.7 383.9h0.7M231.2 372.2h0.7M220.5 376.7h0.7M216.0 381.3h0.7M221.8 380.6h0.7M231.6 377.1h0.7M225.4 384.0h0.7M219.3 375.1h0.7M228.7 383.3h0.7M222.6 371.9h0.7M225.8 382.1h0.7M231.4 388.0h0.7M225.4 380.5h0.7M222.3 375.3h0.7M223.3 380.3h0.7M224.8 385.6h0.7M223.3 375.4h0.7M225.5 388.5h0.7M218.4 381.4h0.7M224.3 382.2h0.7M224.2 378.2h0.7M221.6 389.4h0.7M229.4 370.0h0.7M211.1 381.5h0.7M219.1 375.6h0.7M215.2 381.0h0.7M221.8 375.4h0.7M225.8 394.0h0.7M228.3 386.2h0.7M232.2 378.1h0.8M232.9 379.3h0.8M234.1 376.5h0.8M234.0 374.9h0.8M234.5 380.1h0.8M232.3 377.9h0.8M229.9 378.8h0.8M234.6 374.2h0.8M236.2 376.9h0.8M229.8 373.4h0.8M234.6 376.0h0.8M235.0 373.0h0.8M232.8 378.9h0.8M231.7 378.2h0.8M232.3 377.4h0.8M233.6 381.8h0.8M230.7 378.4h0.8M235.4 374.0h0.8M233.2 382.0h0.8M234.9 369.7h0.8M232.6 372.6h0.8M233.6 374.9h0.8M232.0 374.6h0.8M233.5 375.5h0.8M231.3 376.1h0.8M233.8 374.6h0.8M235.1 372.7h0.8M233.8 375.7h0.8M235.9 375.1h0.8M231.8 373.5h0.8M236.7 378.0h0.8M231.0 375.8h0.8M231.2 380.2h0.8M233.8 371.9h0.8M233.4 378.7h0.8M233.0 377.7h0.8M232.8 377.1h0.8M233.4 375.0h0.8M233.6 377.0h0.8M232.9 375.0h0.8M231.1 377.2h0.8M234.5 371.0h0.8M232.0 379.8h0.8M234.7 374.9h0.8M235.5 374.3h0.8M231.5 381.1h0.8M232.2 376.1h0.8M230.0 374.2h0.8M230.8 376.3h0.8M229.6 379.1h0.8M232.3 375.2h0.8M231.8 378.3h0.8M235.8 375.6h0.8M236.0 380.4h0.8M235.5 377.3h0.8M230.2 378.2h0.8M232.2 377.1h0.8M229.5 375.9h0.8M233.4 374.4h0.8M233.5 380.5h0.8M233.4 375.0h0.8M237.4 371.6h0.8M231.3 377.6h0.8M231.9 371.2h0.8M233.5 378.5h0.8M231.5 380.0h0.8M233.9 379.4h0.8M230.2 376.6h0.8M236.0 381.3h0.8M235.4 376.6h0.8M233.3 375.1h0.8M235.0 375.0h0.8M233.2 371.8h0.8M230.2 380.8h0.8M233.1 377.1h0.8M228.9 376.5h0.8M236.8 373.1h0.8M228.6 376.2h0.8M232.0 376.1h0.8M230.7 373.4h0.8M230.7 378.1h0.8M232.9 378.5h0.8M231.0 378.0h0.8M232.2 376.8h0.8M234.7 376.7h0.8M232.3 372.7h0.8M233.1 378.4h0.8M231.8 376.4h0.8M229.7 373.5h0.8M233.7 379.6h0.8M232.4 372.7h0.8M232.3 372.9h0.8M232.5 381.1h0.8M233.6 376.2h0.8M234.9 375.7h0.8M233.6 377.1h0.8M233.8 373.1h0.8M234.3 378.7h0.8M228.8 370.2h0.8M231.3 380.1h0.8M233.0 378.2h0.8M234.0 378.7h0.8M231.8 375.2h0.8M233.7 378.0h0.8M234.1 377.4h0.8M232.1 379.2h0.8M233.9 379.1h0.8M228.3 379.0h0.8M228.4 377.1h0.8M231.8 376.9h0.8M232.1 375.9h0.8M233.4 377.4h0.8M231.5 370.6h0.8M231.5 377.9h0.8M231.4 377.6h0.8M232.3 374.4h0.8M235.2 380.5h0.8M232.8 376.5h0.8M234.8 373.5h0.8M231.4 379.3h0.8M234.7 375.4h0.8M231.5 377.4h0.8M230.4 375.4h0.8M232.6 370.8h0.8M234.1 378.4h0.8M235.0 373.2h0.8M230.6 374.7h0.8M230.5 381.5h0.8M231.2 375.9h0.8M233.4 377.7h0.8M235.7 374.0h0.8M234.7 377.0h0.8M230.8 377.0h0.8M230.4 380.5h0.8M231.6 379.0h0.8M235.5 375.1h0.8M231.3 376.9h0.8M231.0 378.7h0.8M233.3 374.8h0.8M231.7 378.3h0.8M230.3 380.6h0.8M231.5 376.1h0.8M231.3 380.5h0.8M234.6 379.7h0.8M234.2 376.8h0.8M236.2 378.2h0.8M233.8 378.0h0.8M234.4 377.3h0.8M232.7 372.8h0.8M236.9 373.5h0.8M228.9 374.9h0.8M236.7 379.5h0.8M231.9 377.2h0.8M233.0 371.9h0.8M232.4 377.3h0.8M235.2 373.7h0.8M228.7 372.8h0.8M233.6 376.8h0.8M233.3 377.0h0.8M232.3 373.3h0.8M233.9 377.5h0.8M234.1 379.6h0.8M230.7 371.0h0.8M229.6 381.7h0.8M231.3 377.6h0.8M233.0 378.3h0.8M239.1 375.4h0.8M232.7 375.2h0.8M233.5 377.8h0.8M231.2 379.8h0.8M235.2 377.7h0.8M232.8 376.0h0.8M229.9 378.2h0.8M231.1 375.4h0.8M234.9 374.4h0.8M232.0 378.7h0.8M236.5 374.9h0.8M235.1 375.0h0.8M233.7 377.8h0.8M230.8 379.1h0.8M236.4 376.7h0.8M233.5 373.8h0.8M236.4 376.8h0.8M230.6 378.4h0.8M230.2 375.0h0.8M229.0 379.9h0.8M237.2 375.1h0.8M231.8 375.2h0.8M231.9 377.9h0.8M235.8 374.2h0.8M233.8 372.3h0.8M235.9 376.4h0.8M231.7 380.3h0.8M232.8 379.9h0.8M235.0 380.6h0.8M231.5 376.7h0.8M233.7 376.1h0.8M235.9 374.9h0.8M234.9 379.9h0.8M229.3 374.3h0.8M237.3 408.5h0.7M229.2 408.5h0.7M255.1 408.5h0.7M211.8 408.5h0.7M247.1 408.5h0.7M212.6 408.5h0.7M221.5 408.5h0.7M213.1 408.5h0.7M251.9 408.5h0.7M229.9 408.5h0.7M244.5 408.5h0.7M220.4 408.5h0.7M244.7 408.5h0.7M240.5 408.5h0.7M212.3 408.5h0.7M232.6 408.5h0.7M244.3 408.5h0.7M218.3 408.5h0.7M240.8 408.5h0.7M221.5 408.5h0.7M226.3 408.5h0.7M254.4 408.5h0.7M206.7 406.1h0.8M206.7 408.2h0.8M206.7 385.9h0.8M206.7 391.6h0.8M206.7 400.8h0.8M206.7 398.9h0.8M206.7 387.1h0.8M206.7 403.0h0.8M206.7 384.9h0.8M206.7 406.4h0.8M206.7 387.7h0.8M206.7 373.9h0.8M206.7 398.5h0.8M206.7 375.0h0.8M206.7 395.8h0.8M206.7 371.4h0.8" stroke="#000" stroke-width="0.8" fill="none"/>
<line x1="23.3" y1="409.3" x2="23.3" y2="370.3" stroke="#000" stroke-width="0.8"/>
<polygon points="21.7,371.8 24.900000000000002,371.8 23.3,367.8" fill="#000"/>
<line x1="29.5" y1="415.5" x2="256" y2="415.5" stroke="#777" stroke-width="0.7"/>
<polygon points="254.5,413.9 254.5,417.1 258.5,415.5" fill="#000"/>
<text x="15.5" y="388.5" font-size="7" font-weight="bold" text-anchor="middle" fill="#000" transform="rotate(-90 15.5 388.5)">CD11c</text>
<text x="143.5" y="427" font-size="7" text-anchor="middle" fill="#000">p24</text>
<rect x="41.30" y="353.00" width="30.00" height="10.00" fill="#fff" stroke="#333" stroke-width="0.8"/>
<text x="56.3" y="361" font-size="7.4" text-anchor="middle" fill="#000">no treat</text>
<polygon points="88,363 260,363 260,345.5" fill="#000"/>
<rect x="223.80" y="352.00" width="31.20" height="10.00" fill="#fff"/>
<text x="239.4" y="360.4" font-size="9" text-anchor="middle" fill="#000">HKLM</text>
<rect x="27.00" y="630.00" width="53.00" height="40.00" fill="#fff" stroke="#333" stroke-width="0.75"/>
<line x1="48.8" y1="630" x2="48.8" y2="670" stroke="#333" stroke-width="0.7"/>
<line x1="27" y1="648.3" x2="80" y2="648.3" stroke="#555" stroke-width="0.7"/>
<ellipse cx="42.8" cy="639" rx="3.61" ry="6.60" fill="#000"/>
<path d="M45.7 638.6h0.8M42.7 636.8h0.8M41.3 635.9h0.8M42.8 646.7h0.8M45.4 640.0h0.8M46.7 643.3h0.8M43.3 638.3h0.8M40.2 640.0h0.8M42.1 632.3h0.8M39.8 647.1h0.8M43.3 641.1h0.8M43.3 637.0h0.8M43.9 643.6h0.8M42.1 641.2h0.8M45.2 637.0h0.8M43.2 635.9h0.8M44.2 637.5h0.8M45.5 635.8h0.8M46.8 637.7h0.8M40.8 635.2h0.8M44.4 635.4h0.8M47.0 644.4h0.8M44.0 633.0h0.8M42.7 635.9h0.8M38.5 640.8h0.8M48.0 636.7h0.8M44.7 644.4h0.8M40.5 637.6h0.8M43.4 641.0h0.8M40.1 639.9h0.8M42.5 643.0h0.8M39.0 636.6h0.8M41.6 637.7h0.8M44.5 636.4h0.8M49.2 636.0h0.8M44.8 643.3h0.8M45.1 638.1h0.8M40.8 637.9h0.8M44.4 639.5h0.8M44.2 641.4h0.8M40.7 635.1h0.8M46.2 637.0h0.8M39.1 646.8h0.8M40.8 635.1h0.8M45.1 634.2h0.8M40.8 643.4h0.8M40.9 649.5h0.8M43.0 650.3h0.8M43.1 639.2h0.8M41.3 638.1h0.8M41.6 638.9h0.8M44.6 633.7h0.8M46.3 638.7h0.8M42.8 638.8h0.8M45.2 640.3h0.8M44.8 638.3h0.8M42.5 638.8h0.8M38.4 643.6h0.8M39.1 634.8h0.8M44.4 639.2h0.8M44.7 646.2h0.8M47.2 644.8h0.8M42.3 647.6h0.8M40.7 638.6h0.8M45.1 638.1h0.8M42.5 637.5h0.8M45.8 643.5h0.8M42.6 641.4h0.8M40.5 643.7h0.8M50.0 635.1h0.8M46.1 638.8h0.8M42.0 637.0h0.8M42.4 633.7h0.8M39.6 646.0h0.8M42.8 641.3h0.8M43.5 641.0h0.8M39.2 635.0h0.8M44.3 643.2h0.8M40.1 636.6h0.8M40.3 641.7h0.8M43.6 639.1h0.8M41.3 640.4h0.8M42.9 635.9h0.8M43.6 636.2h0.8M45.0 641.6h0.8M41.2 641.5h0.8M43.0 636.0h0.8M40.7 632.0h0.8M40.1 640.5h0.8M45.6 636.4h0.8M43.2 640.4h0.8M44.6 640.9h0.8M45.7 642.2h0.8M41.0 640.7h0.8M37.3 638.2h0.8M42.8 641.4h0.8M42.1 642.5h0.8M45.9 635.5h0.8M41.5 640.1h0.8M44.0 639.6h0.8M44.8 634.0h0.8M44.6 643.9h0.8M45.4 640.8h0.8M42.2 640.7h0.8M42.6 632.3h0.8M41.4 638.8h0.8M41.6 635.1h0.8M42.3 637.4h0.8M43.0 638.8h0.8M43.2 643.2h0.8M43.1 640.7h0.8M41.9 641.8h0.8M42.0 636.4h0.8M39.9 642.7h0.8M41.6 640.0h0.8M45.5 641.3h0.8M48.1 638.4h0.8M45.0 641.9h0.8M41.3 639.2h0.8M41.5 634.7h0.8M43.5 635.7h0.8M46.8 635.9h0.8M41.5 639.4h0.8M41.6 639.2h0.8M41.4 633.0h0.8M37.1 633.6h0.8M46.4 640.9h0.8M43.2 637.0h0.8M42.5 640.3h0.8M39.5 635.6h0.8M40.7 644.3h0.8M40.3 643.9h0.8M41.7 650.4h0.8M42.6 639.1h0.8M46.0 642.7h0.8M45.0 634.5h0.8M45.5 646.1h0.8M42.6 637.0h0.8M40.2 643.3h0.8M43.5 639.0h0.8M39.9 645.8h0.8M44.9 638.9h0.8M46.3 635.0h0.8M44.9 634.8h0.8M46.1 637.8h0.8M45.7 637.3h0.8M43.7 643.8h0.8M40.7 639.4h0.8M40.8 642.6h0.8M41.4 637.4h0.8M42.3 643.9h0.8M40.4 638.9h0.8M42.0 636.7h0.8M40.9 638.3h0.8M43.3 632.5h0.8M43.4 634.0h0.8M42.8 648.6h0.8M40.5 638.7h0.8M42.2 643.1h0.8M41.7 631.5h0.8M39.0 639.7h0.8M43.4 643.5h0.8M41.5 641.8h0.8M40.3 644.4h0.8M42.6 636.2h0.8M43.2 646.3h0.8M40.8 633.8h0.8M40.4 634.1h0.8M42.7 640.5h0.8M42.4 639.8h0.8M45.6 637.8h0.8M43.4 636.1h0.8M42.2 640.7h0.8M43.9 632.4h0.8M40.5 639.3h0.8M42.5 643.8h0.8M45.6 632.1h0.8M40.5 640.6h0.8M40.3 649.5h0.8M43.4 641.2h0.8M41.8 648.3h0.8M44.1 636.0h0.8M45.8 631.9h0.8M41.4 640.2h0.8M43.1 635.0h0.8M46.5 645.2h0.8M40.6 640.6h0.8M41.3 637.2h0.8M45.1 639.5h0.8M42.5 639.4h0.8M40.0 644.1h0.8M41.0 644.5h0.8M41.7 637.1h0.8M46.3 639.8h0.8M41.3 636.8h0.8M44.2 646.9h0.8M44.2 637.3h0.8M40.2 636.2h0.8M42.5 640.0h0.8M41.3 644.4h0.8M40.5 636.0h0.8M44.0 641.0h0.8M41.9 643.0h0.8M39.5 645.9h0.8M47.9 647.2h0.8M43.1 647.3h0.8M42.9 644.6h0.8M42.3 639.8h0.8M44.0 631.7h0.8M42.3 646.2h0.8M35.9 640.6h0.8M45.0 640.4h0.8M43.3 644.8h0.8M43.6 631.1h0.8M40.6 637.8h0.8M43.1 637.1h0.8M42.6 646.0h0.8M35.9 643.8h0.8M45.0 641.5h0.8M42.8 639.3h0.8M43.7 640.0h0.8M41.1 642.3h0.8M40.9 638.8h0.8M42.0 634.2h0.8M44.2 638.7h0.8M40.1 638.7h0.8M39.6 645.0h0.8M44.0 647.3h0.8M41.5 642.0h0.8M40.5 635.4h0.8M42.6 640.7h0.8M45.0 637.9h0.8M45.4 643.0h0.8M40.7 638.3h0.8M40.7 646.1h0.8M41.5 642.7h0.8M44.9 637.9h0.8M41.7 640.4h0.8M41.0 633.7h0.8M40.5 640.4h0.8M43.3 646.4h0.8M38.5 641.1h0.8M40.1 643.8h0.8M44.4 639.5h0.8M46.3 637.4h0.8M41.6 634.6h0.8M41.3 639.5h0.8M44.4 644.4h0.8M42.2 636.0h0.8M42.0 637.2h0.8M41.7 637.3h0.8M40.8 638.8h0.8M41.6 638.3h0.8M39.6 639.6h0.8M44.1 641.7h0.8M41.5 634.2h0.8M39.8 634.1h0.8M41.3 637.7h0.8M38.7 641.8h0.8M39.2 636.1h0.8M41.1 642.5h0.8M47.1 637.5h0.8M42.2 637.4h0.8M42.3 638.3h0.8M48.6 634.5h0.8M42.5 635.7h0.8M43.6 636.8h0.8M44.1 634.5h0.8M47.7 639.9h0.8M38.7 641.9h0.8M41.7 634.2h0.8M43.8 636.8h0.8M44.5 636.7h0.8M44.9 639.6h0.8M43.6 639.7h0.8M42.0 637.5h0.8M43.9 641.9h0.8M41.9 648.3h0.8M46.7 634.2h0.8M45.3 638.7h0.8M43.3 635.7h0.8M46.6 635.6h0.8M42.6 636.0h0.8M47.3 644.2h0.8M39.7 637.1h0.8M43.6 637.2h0.8M42.0 634.5h0.8M43.4 634.5h0.8M44.7 648.9h0.8M42.0 645.8h0.8M43.7 636.2h0.8M42.0 635.0h0.8M43.1 641.9h0.8M45.0 637.9h0.8M40.0 638.7h0.8M46.7 640.2h0.8M41.8 641.3h0.8M40.6 644.6h0.8M41.5 635.4h0.8M41.5 638.6h0.8M45.1 636.7h0.8M38.7 638.7h0.8M44.0 645.4h0.8M40.2 645.1h0.8M44.4 640.9h0.8M41.0 635.4h0.8M40.6 642.9h0.8M43.3 643.4h0.8M47.0 639.1h0.8M42.7 646.9h0.8M39.8 637.2h0.8M41.9 637.5h0.8M43.1 635.6h0.8M45.5 633.4h0.8M40.9 632.1h0.8M39.6 641.4h0.8M44.3 638.2h0.8M44.8 641.6h0.8M41.5 638.9h0.8M43.6 647.3h0.8M41.8 640.5h0.8M44.1 644.0h0.8M43.8 643.4h0.8M40.3 637.9h0.8M38.3 638.8h0.8M48.2 640.0h0.8M43.0 640.1h0.8M43.1 633.6h0.8M41.2 638.3h0.8M43.2 635.5h0.8M42.6 636.0h0.8M39.8 636.3h0.8M40.9 642.5h0.8M45.9 641.4h0.8M42.3 636.7h0.8M39.2 636.9h0.8M46.4 643.8h0.8M43.3 638.0h0.8M42.8 640.8h0.8M42.8 640.8h0.8M41.0 639.2h0.8M42.0 643.4h0.8M39.9 644.3h0.8M42.6 637.0h0.8M42.9 639.5h0.8M42.3 640.8h0.8M41.5 632.1h0.8M44.4 638.9h0.8M46.7 640.6h0.8M38.2 644.1h0.8M41.2 641.3h0.8M47.9 643.5h0.8M40.3 638.7h0.8M39.1 641.8h0.8M44.1 634.8h0.8M43.8 642.9h0.8M44.7 636.3h0.8M41.2 634.4h0.8M39.8 640.3h0.8M42.9 644.4h0.8M43.4 637.7h0.8M39.5 645.4h0.8M43.2 638.9h0.8M40.5 634.7h0.8M44.3 635.1h0.8M44.2 641.6h0.8M41.9 632.4h0.8M43.7 644.8h0.8M40.9 633.9h0.8M45.3 639.6h0.8M41.4 644.0h0.8M42.2 640.9h0.8M41.9 636.0h0.8M43.3 635.5h0.8M38.7 636.8h0.8M45.7 643.5h0.8M47.8 643.1h0.8M46.5 640.1h0.8M41.8 640.9h0.8M40.6 642.0h0.8M41.8 640.1h0.8M40.8 638.5h0.8M45.1 638.2h0.8M41.2 640.2h0.8M44.8 638.3h0.8M40.1 632.7h0.8M39.7 643.4h0.8M42.6 641.0h0.8M45.3 640.2h0.8M43.9 637.0h0.8M39.1 641.6h0.8M42.6 641.4h0.8M40.3 638.5h0.8M47.4 635.6h0.8M43.0 644.4h0.8M42.3 639.6h0.8M37.9 642.2h0.8M41.8 644.3h0.8M42.6 637.5h0.8M43.8 638.1h0.8M41.6 645.3h0.8M45.1 639.5h0.8M44.7 642.4h0.8M44.1 639.2h0.8M43.0 640.7h0.8M44.1 640.5h0.8M41.5 638.7h0.8M43.9 635.1h0.8M42.8 642.1h0.8M43.2 637.9h0.8M42.7 637.1h0.8M45.1 637.5h0.8M39.0 634.2h0.8M43.5 639.9h0.8M41.2 633.0h0.7M42.3 635.5h0.7M40.6 640.1h0.7M40.3 641.8h0.7M40.4 637.6h0.7M42.1 648.0h0.7M48.0 645.2h0.7M40.4 640.1h0.7M45.8 644.4h0.7M37.4 639.8h0.7M40.4 644.1h0.7M44.9 637.2h0.7M49.8 638.6h0.7M50.8 639.2h0.7M42.5 650.3h0.7M41.1 637.5h0.7M47.7 639.9h0.7M44.4 633.3h0.7M48.7 645.4h0.7M44.0 643.9h0.7M41.2 637.5h0.7M37.6 642.1h0.7M46.9 644.7h0.7M45.8 643.9h0.7M39.8 633.1h0.7M44.9 641.0h0.7M46.0 638.6h0.7M39.9 642.5h0.7M41.0 631.3h0.7M40.8 635.4h0.7M39.1 637.1h0.7M45.9 652.7h0.7M48.5 637.9h0.7M46.6 639.7h0.7M44.1 636.5h0.7M42.6 631.1h0.7M48.7 636.0h0.7M44.7 636.9h0.7M43.7 633.8h0.7M41.6 645.0h0.7M45.6 633.1h0.7M43.7 642.9h0.7M40.7 638.4h0.7M42.0 642.2h0.7M45.8 647.4h0.7M43.9 650.8h0.7M39.7 649.6h0.7M41.9 644.2h0.7M42.4 640.5h0.7M39.8 642.2h0.7M49.5 640.9h0.7M42.7 640.1h0.7M45.1 639.0h0.7M42.8 641.2h0.7M47.1 645.2h0.7M39.3 636.7h0.7M42.9 644.6h0.7M46.0 639.0h0.7M49.8 639.2h0.7M54.7 641.8h0.7M54.9 639.0h0.7M53.7 635.1h0.7M50.9 637.1h0.7M53.8 641.0h0.7M52.9 640.9h0.7M53.7 642.0h0.7M51.1 636.7h0.7M51.9 636.2h0.7M54.9 636.4h0.7M52.0 637.6h0.7M54.0 637.5h0.7M53.9 639.8h0.7M52.2 633.2h0.7M60.9 669.2h0.7M61.8 669.2h0.7M75.8 669.2h0.7M67.7 669.2h0.7M50.7 669.2h0.7M51.6 669.2h0.7M66.7 669.2h0.7M44.2 669.2h0.7M33.6 669.2h0.7M59.6 669.2h0.7M69.3 669.2h0.7M40.7 669.2h0.7M62.9 669.2h0.7M73.5 669.2h0.7M34.5 669.2h0.7M34.9 669.2h0.7M53.1 669.2h0.7M45.1 669.2h0.7M76.4 669.2h0.7M78.8 669.2h0.7M50.7 669.2h0.7M68.4 669.2h0.7M27.4 655.0h0.8M27.4 637.6h0.8M27.4 667.9h0.8M27.4 637.6h0.8M27.4 633.9h0.8M27.4 648.2h0.8M27.4 631.7h0.8M27.4 649.3h0.8M27.4 646.7h0.8M27.4 667.3h0.8M27.4 646.7h0.8M27.4 663.3h0.8M27.4 660.6h0.8M27.4 653.3h0.8M27.4 640.0h0.8M27.4 642.6h0.8" stroke="#000" stroke-width="0.8" fill="none"/>
<rect x="86.30" y="630.00" width="52.50" height="40.00" fill="#fff" stroke="#333" stroke-width="0.75"/>
<line x1="108" y1="630" x2="108" y2="670" stroke="#333" stroke-width="0.7"/>
<line x1="86.3" y1="648.3" x2="138.8" y2="648.3" stroke="#555" stroke-width="0.7"/>
<ellipse cx="102" cy="641" rx="4.47" ry="6.60" fill="#000"/>
<path d="M99.1 641.2h0.8M99.9 637.1h0.8M100.2 646.1h0.8M104.0 640.9h0.8M101.8 641.6h0.8M102.8 641.8h0.8M97.1 644.7h0.8M99.6 630.7h0.8M104.0 636.2h0.8M101.6 640.7h0.8M100.3 643.2h0.8M101.2 639.9h0.8M99.3 639.9h0.8M99.0 641.2h0.8M105.8 645.1h0.8M103.2 635.6h0.8M104.9 644.8h0.8M107.9 632.1h0.8M102.0 639.7h0.8M105.1 636.7h0.8M100.9 650.3h0.8M104.8 633.1h0.8M102.1 646.5h0.8M100.2 643.4h0.8M102.3 635.2h0.8M100.2 645.6h0.8M105.4 638.6h0.8M105.2 638.2h0.8M102.7 641.0h0.8M98.4 642.3h0.8M99.6 637.6h0.8M99.6 637.1h0.8M100.0 631.2h0.8M104.5 641.3h0.8M102.7 640.0h0.8M102.2 640.0h0.8M98.9 635.0h0.8M102.2 645.1h0.8M102.7 647.5h0.8M98.1 640.0h0.8M100.2 646.0h0.8M106.9 638.9h0.8M104.1 640.1h0.8M99.1 640.6h0.8M99.0 647.2h0.8M103.7 645.8h0.8M103.0 631.3h0.8M104.3 641.4h0.8M95.2 641.4h0.8M104.9 647.9h0.8M99.1 644.2h0.8M103.0 640.3h0.8M101.2 643.1h0.8M103.7 643.7h0.8M100.8 635.7h0.8M105.8 646.2h0.8M100.4 640.9h0.8M104.3 634.0h0.8M103.4 650.7h0.8M102.8 638.2h0.8M107.9 641.1h0.8M102.6 639.3h0.8M102.5 633.8h0.8M98.3 635.1h0.8M104.6 640.6h0.8M105.3 632.8h0.8M100.3 646.9h0.8M99.7 633.5h0.8M99.9 639.6h0.8M102.0 646.3h0.8M105.8 647.3h0.8M103.7 639.0h0.8M100.6 635.1h0.8M105.6 646.1h0.8M102.3 637.4h0.8M103.9 643.0h0.8M102.4 636.3h0.8M102.7 638.7h0.8M104.1 643.4h0.8M103.3 639.3h0.8M106.4 644.1h0.8M105.6 644.4h0.8M103.9 642.6h0.8M98.9 633.7h0.8M99.3 643.5h0.8M104.6 641.7h0.8M102.3 648.4h0.8M100.9 633.8h0.8M97.6 639.7h0.8M104.0 644.0h0.8M101.4 644.3h0.8M101.9 638.1h0.8M100.9 644.0h0.8M104.7 636.5h0.8M99.2 641.5h0.8M108.1 636.3h0.8M98.4 642.7h0.8M103.5 638.5h0.8M101.9 643.0h0.8M97.0 640.9h0.8M103.7 644.7h0.8M105.3 640.7h0.8M97.9 646.4h0.8M104.2 638.4h0.8M105.0 645.2h0.8M101.6 631.5h0.8M100.7 638.0h0.8M99.6 640.7h0.8M98.9 642.6h0.8M107.4 636.2h0.8M105.0 638.9h0.8M103.6 640.5h0.8M105.7 638.1h0.8M104.1 637.9h0.8M102.7 640.9h0.8M105.1 634.7h0.8M98.2 646.6h0.8M103.1 647.8h0.8M99.1 641.9h0.8M103.7 648.1h0.8M101.8 639.2h0.8M104.0 640.6h0.8M99.9 644.1h0.8M96.6 636.9h0.8M105.9 639.0h0.8M101.1 642.5h0.8M105.2 643.1h0.8M99.3 638.7h0.8M105.0 640.5h0.8M100.2 644.5h0.8M105.3 649.8h0.8M98.9 638.2h0.8M100.0 642.4h0.8M100.6 645.5h0.8M94.3 644.9h0.8M100.2 639.9h0.8M103.6 641.8h0.8M99.1 647.0h0.8M103.6 639.0h0.8M102.6 636.5h0.8M98.5 639.8h0.8M103.0 641.4h0.8M99.8 635.4h0.8M97.2 647.4h0.8M103.1 637.8h0.8M105.4 643.2h0.8M100.8 638.5h0.8M105.2 642.3h0.8M106.6 642.5h0.8M100.3 638.6h0.8M100.0 642.0h0.8M102.7 643.4h0.8M103.3 636.8h0.8M101.4 637.2h0.8M103.4 635.7h0.8M100.4 637.5h0.8M100.2 640.0h0.8M106.3 640.0h0.8M97.9 639.8h0.8M104.1 643.2h0.8M102.7 649.0h0.8M105.1 641.4h0.8M105.4 635.6h0.8M101.5 637.5h0.8M102.5 647.5h0.8M100.6 647.4h0.8M99.1 646.7h0.8M97.2 637.6h0.8M104.8 640.6h0.8M102.4 640.9h0.8M102.5 640.3h0.8M99.2 639.8h0.8M102.3 637.4h0.8M103.3 648.1h0.8M97.4 638.8h0.8M101.2 641.1h0.8M102.3 638.1h0.8M101.9 641.0h0.8M101.8 647.2h0.8M102.4 635.0h0.8M97.6 643.4h0.8M101.0 638.5h0.8M98.2 639.8h0.8M101.7 638.2h0.8M101.0 644.6h0.8M104.2 643.2h0.8M101.5 635.5h0.8M104.2 647.0h0.8M105.6 645.7h0.8M102.8 642.5h0.8M102.0 646.1h0.8M101.2 649.6h0.8M104.2 639.7h0.8M102.0 634.5h0.8M99.9 639.8h0.8M108.9 637.7h0.8M104.6 641.3h0.8M101.2 643.5h0.8M96.4 644.8h0.8M107.5 642.2h0.8M101.8 641.6h0.8M103.9 639.0h0.8M102.3 643.0h0.8M101.0 642.6h0.8M102.9 643.9h0.8M99.2 638.8h0.8M100.8 645.8h0.8M102.7 634.3h0.8M98.4 648.8h0.8M103.0 635.8h0.8M99.4 641.6h0.8M106.0 647.5h0.8M101.0 639.8h0.8M107.4 637.0h0.8M106.4 642.4h0.8M102.3 646.2h0.8M103.4 637.6h0.8M97.7 641.1h0.8M103.4 646.5h0.8M94.6 646.4h0.8M103.8 647.1h0.8M104.3 641.9h0.8M103.2 642.6h0.8M100.2 640.5h0.8M102.4 639.2h0.8M97.9 635.2h0.8M103.4 643.1h0.8M102.3 636.3h0.8M104.4 639.4h0.8M96.1 647.3h0.8M97.8 650.1h0.8M103.5 639.2h0.8M95.4 638.2h0.8M106.2 646.5h0.8M102.7 634.1h0.8M100.9 639.9h0.8M103.3 640.5h0.8M103.0 634.4h0.8M100.2 646.8h0.8M97.9 644.7h0.8M108.5 643.6h0.8M98.1 646.0h0.8M96.8 642.4h0.8M100.8 646.0h0.8M105.3 641.8h0.8M107.1 645.0h0.8M100.6 637.0h0.8M109.0 639.4h0.8M103.2 640.5h0.8M100.7 634.5h0.8M101.6 640.5h0.8M104.8 638.9h0.8M97.6 636.7h0.8M101.9 642.0h0.8M104.1 639.5h0.8M103.5 641.6h0.8M106.8 640.8h0.8M102.4 643.3h0.8M105.4 637.3h0.8M100.7 639.9h0.8M96.0 646.3h0.8M105.0 641.1h0.8M111.5 646.1h0.8M107.7 647.3h0.8M104.6 635.3h0.8M106.3 642.7h0.8M98.6 641.2h0.8M104.1 645.0h0.8M102.5 638.9h0.8M104.2 637.9h0.8M101.8 644.1h0.8M97.9 642.5h0.8M96.5 637.2h0.8M98.5 640.6h0.8M104.0 640.8h0.8M104.6 641.4h0.8M101.4 643.0h0.8M101.3 641.5h0.8M104.9 638.7h0.8M105.3 636.5h0.8M101.4 634.0h0.8M100.5 647.4h0.8M103.0 646.1h0.8M97.8 636.9h0.8M103.3 644.4h0.8M104.4 634.2h0.8M103.4 640.7h0.8M102.3 642.9h0.8M101.2 634.1h0.8M99.0 635.1h0.8M98.3 640.5h0.8M105.7 638.1h0.8M99.8 636.3h0.8M97.1 641.3h0.8M100.6 640.0h0.8M99.3 643.0h0.8M98.6 643.2h0.8M100.1 644.2h0.8M99.5 642.8h0.8M103.2 640.7h0.8M106.6 641.7h0.8M99.5 643.8h0.8M99.7 638.8h0.8M102.0 641.7h0.8M106.8 633.9h0.8M101.3 645.6h0.8M101.5 642.3h0.8M106.3 636.0h0.8M102.1 644.2h0.8M100.3 633.9h0.8M99.2 641.8h0.8M102.5 648.5h0.8M105.8 634.7h0.8M104.9 644.7h0.8M106.6 640.4h0.8M100.4 641.6h0.8M106.4 643.5h0.8M106.8 644.2h0.8M100.3 636.9h0.8M107.3 634.9h0.8M101.0 639.7h0.8M99.4 638.7h0.8M102.0 650.7h0.8M101.8 638.9h0.8M102.4 644.8h0.8M99.7 639.4h0.8M97.0 643.9h0.8M103.9 647.1h0.8M98.6 649.8h0.8M104.5 639.9h0.8M100.9 639.7h0.8M98.6 644.1h0.8M100.3 638.1h0.8M103.5 641.5h0.8M100.3 640.0h0.8M100.6 646.5h0.8M104.8 638.0h0.8M101.9 646.6h0.8M101.2 648.2h0.8M103.3 643.7h0.8M96.1 644.5h0.8M103.0 643.4h0.8M103.4 643.1h0.8M100.6 644.7h0.8M102.2 636.7h0.8M99.1 641.7h0.8M103.0 632.0h0.8M96.1 645.3h0.8M102.0 652.6h0.8M97.6 640.0h0.8M100.3 643.3h0.8M106.0 647.6h0.8M99.1 646.0h0.8M98.5 642.3h0.8M102.5 643.5h0.8M99.7 646.4h0.8M101.8 640.9h0.8M101.2 636.7h0.8M104.1 642.4h0.8M103.3 648.6h0.8M99.5 639.8h0.8M102.0 644.5h0.8M101.5 644.8h0.8M103.3 633.8h0.8M100.1 632.7h0.8M101.2 639.3h0.8M103.7 641.7h0.8M101.8 646.1h0.8M103.7 636.0h0.8M100.0 642.3h0.8M106.8 640.2h0.8M101.5 642.1h0.8M104.2 640.6h0.8M102.8 639.3h0.8M100.4 637.8h0.8M103.9 638.7h0.8M103.6 642.7h0.8M99.3 636.0h0.8M101.5 644.3h0.8M109.2 647.3h0.8M105.9 642.6h0.8M100.9 643.2h0.8M95.8 644.8h0.8M102.0 643.5h0.8M99.1 636.5h0.8M100.2 640.8h0.8M103.0 639.6h0.8M103.0 643.8h0.8M98.7 640.6h0.8M97.6 638.8h0.8M104.6 638.1h0.8M107.3 643.1h0.8M104.5 641.4h0.8M104.5 645.5h0.8M102.3 638.8h0.8M100.4 648.9h0.8M101.5 639.1h0.8M100.0 634.1h0.8M100.6 642.3h0.8M100.6 637.9h0.8M103.2 642.9h0.8M100.8 642.3h0.8M99.2 644.5h0.8M99.2 639.6h0.8M102.4 639.3h0.8M98.7 649.6h0.8M106.3 633.9h0.8M102.3 635.8h0.8M102.9 635.7h0.8M103.7 643.2h0.8M106.9 645.9h0.8M100.7 644.9h0.8M100.7 640.5h0.8M100.6 633.8h0.8M103.7 632.7h0.8M101.3 643.1h0.8M102.3 634.6h0.8M100.2 643.8h0.8M106.5 650.7h0.7M94.6 644.5h0.7M100.0 646.2h0.7M95.1 641.2h0.7M104.9 638.5h0.7M100.5 636.6h0.7M106.5 634.7h0.7M98.3 640.2h0.7M100.7 653.6h0.7M103.1 637.4h0.7M104.4 643.9h0.7M103.1 641.6h0.7M103.9 635.6h0.7M97.1 639.7h0.7M97.5 645.8h0.7M109.9 648.8h0.7M103.8 643.9h0.7M99.2 634.9h0.7M104.2 633.9h0.7M103.2 641.2h0.7M105.1 642.3h0.7M102.4 638.8h0.7M95.0 640.1h0.7M104.8 647.7h0.7M107.6 636.6h0.7M98.2 645.8h0.7M100.2 656.1h0.7M103.3 633.7h0.7M99.7 650.6h0.7M94.6 642.8h0.7M96.4 650.8h0.7M100.2 636.4h0.7M95.1 638.1h0.7M91.6 639.4h0.7M110.9 642.5h0.7M100.9 635.6h0.7M103.4 639.4h0.7M98.6 649.6h0.7M103.8 637.1h0.7M108.0 641.7h0.7M104.0 642.8h0.7M106.8 645.4h0.7M100.6 645.9h0.7M100.4 642.7h0.7M108.7 636.2h0.7M97.8 639.8h0.7M100.0 649.1h0.7M95.5 654.6h0.7M108.4 639.5h0.7M102.8 640.0h0.7M104.7 645.6h0.7M105.1 646.2h0.7M109.9 641.1h0.7M104.8 641.0h0.7M102.2 643.2h0.7M101.8 643.9h0.7M98.5 641.2h0.7M99.5 635.6h0.7M99.1 639.3h0.7M101.4 633.4h0.7M111.2 637.4h0.7M110.5 640.4h0.7M112.8 640.7h0.7M110.9 639.0h0.7M113.1 636.2h0.7M112.8 636.5h0.7M110.8 640.1h0.7M111.2 643.9h0.7M112.1 639.9h0.7M112.6 640.1h0.7M110.6 642.6h0.7M113.3 643.0h0.7M110.1 644.5h0.7M111.0 641.8h0.7M112.9 645.6h0.7M109.6 637.6h0.7M112.9 641.2h0.7M111.1 633.1h0.7M134.6 669.2h0.7M92.5 669.2h0.7M106.1 669.2h0.7M137.7 669.2h0.7M114.3 669.2h0.7M135.6 669.2h0.7M100.1 669.2h0.7M88.6 669.2h0.7M135.1 669.2h0.7M100.6 669.2h0.7M115.6 669.2h0.7M105.5 669.2h0.7M116.5 669.2h0.7M134.5 669.2h0.7M135.1 669.2h0.7M131.6 669.2h0.7M100.3 669.2h0.7M128.8 669.2h0.7M88.2 669.2h0.7M108.3 669.2h0.7M135.0 669.2h0.7M100.2 669.2h0.7M86.7 645.0h0.8M86.7 653.1h0.8M86.7 640.0h0.8M86.7 657.9h0.8M86.7 655.8h0.8M86.7 634.6h0.8M86.7 666.0h0.8M86.7 633.7h0.8M86.7 657.5h0.8M86.7 644.2h0.8M86.7 636.5h0.8M86.7 634.0h0.8M86.7 668.9h0.8M86.7 661.4h0.8M86.7 648.4h0.8M86.7 661.2h0.8" stroke="#000" stroke-width="0.8" fill="none"/>
<rect x="144.50" y="630.00" width="53.00" height="40.00" fill="#fff" stroke="#333" stroke-width="0.75"/>
<line x1="166.8" y1="630" x2="166.8" y2="670" stroke="#333" stroke-width="0.7"/>
<line x1="144.5" y1="648.3" x2="197.5" y2="648.3" stroke="#555" stroke-width="0.7"/>
<ellipse cx="160.2" cy="641" rx="3.96" ry="6.86" fill="#000"/>
<path d="M166.0 639.1h0.8M158.2 640.3h0.8M153.0 639.6h0.8M159.7 634.5h0.8M161.7 637.3h0.8M155.5 637.9h0.8M161.8 649.2h0.8M163.4 641.8h0.8M158.9 639.9h0.8M162.6 638.8h0.8M161.3 645.1h0.8M157.9 638.5h0.8M161.3 641.0h0.8M159.9 638.7h0.8M160.0 648.9h0.8M163.6 634.1h0.8M160.3 641.4h0.8M160.3 635.1h0.8M159.9 641.6h0.8M158.5 642.3h0.8M154.0 634.6h0.8M160.5 642.7h0.8M159.8 639.0h0.8M160.7 645.6h0.8M162.5 640.7h0.8M159.0 645.5h0.8M161.6 644.8h0.8M159.5 637.3h0.8M160.7 638.3h0.8M163.1 644.7h0.8M154.7 643.8h0.8M163.6 645.4h0.8M159.0 637.3h0.8M162.7 645.3h0.8M160.4 636.1h0.8M156.3 642.1h0.8M158.1 638.1h0.8M161.3 645.5h0.8M155.0 638.1h0.8M163.5 640.8h0.8M159.3 643.7h0.8M157.3 635.8h0.8M160.3 647.7h0.8M162.8 641.0h0.8M162.8 639.2h0.8M157.2 633.8h0.8M160.9 644.9h0.8M161.1 640.8h0.8M159.2 645.7h0.8M160.1 634.8h0.8M163.7 638.2h0.8M161.2 641.0h0.8M162.9 642.1h0.8M163.3 641.9h0.8M159.0 638.8h0.8M161.8 637.5h0.8M162.5 640.0h0.8M157.9 637.3h0.8M159.8 648.6h0.8M162.2 641.1h0.8M157.9 649.2h0.8M159.5 641.0h0.8M159.1 646.7h0.8M160.6 639.0h0.8M160.7 636.7h0.8M157.5 640.3h0.8M152.9 646.0h0.8M165.2 636.2h0.8M159.8 634.2h0.8M160.6 641.9h0.8M162.1 635.3h0.8M158.7 638.2h0.8M159.6 650.8h0.8M159.7 640.8h0.8M158.9 644.4h0.8M166.7 646.0h0.8M164.1 636.4h0.8M162.9 641.1h0.8M163.4 645.5h0.8M161.9 633.8h0.8M160.5 638.9h0.8M161.3 641.2h0.8M162.9 634.1h0.8M158.3 640.7h0.8M161.0 639.3h0.8M160.1 641.2h0.8M162.9 640.5h0.8M160.8 633.2h0.8M153.6 634.7h0.8M161.1 631.1h0.8M161.2 640.6h0.8M160.2 637.9h0.8M159.1 644.6h0.8M161.1 640.9h0.8M159.0 641.9h0.8M163.2 640.9h0.8M159.3 635.9h0.8M160.5 637.1h0.8M156.6 644.7h0.8M158.6 632.3h0.8M158.4 648.9h0.8M159.9 635.3h0.8M157.4 644.1h0.8M161.2 641.9h0.8M159.7 643.1h0.8M164.1 643.1h0.8M159.8 635.0h0.8M161.3 647.7h0.8M161.8 635.6h0.8M160.7 646.6h0.8M158.6 643.1h0.8M163.3 648.0h0.8M156.2 633.5h0.8M161.1 644.0h0.8M159.3 640.9h0.8M159.2 646.2h0.8M154.6 642.1h0.8M157.0 638.1h0.8M156.3 637.1h0.8M160.1 641.1h0.8M164.7 640.1h0.8M161.1 642.5h0.8M160.9 647.3h0.8M160.6 641.6h0.8M159.9 641.0h0.8M160.1 645.3h0.8M160.3 641.3h0.8M160.1 644.3h0.8M159.0 645.0h0.8M158.7 644.0h0.8M165.1 642.0h0.8M160.0 635.9h0.8M162.1 641.1h0.8M162.5 638.2h0.8M161.5 648.8h0.8M161.2 639.6h0.8M156.9 641.0h0.8M161.9 643.6h0.8M157.4 636.6h0.8M157.7 636.6h0.8M159.5 642.1h0.8M165.1 641.8h0.8M163.9 633.9h0.8M164.1 644.4h0.8M161.3 644.6h0.8M161.8 649.2h0.8M162.2 633.5h0.8M155.8 647.9h0.8M160.0 646.7h0.8M159.3 638.2h0.8M159.3 642.4h0.8M160.7 638.3h0.8M161.6 643.7h0.8M157.9 636.2h0.8M155.2 639.7h0.8M160.2 638.0h0.8M158.7 640.4h0.8M160.3 643.5h0.8M162.3 642.9h0.8M163.0 636.8h0.8M161.7 642.6h0.8M157.5 638.1h0.8M161.3 641.3h0.8M157.0 638.6h0.8M164.1 644.6h0.8M160.4 646.8h0.8M157.9 640.3h0.8M162.6 639.5h0.8M157.4 643.5h0.8M160.6 635.6h0.8M159.4 634.9h0.8M166.8 638.1h0.8M160.3 638.0h0.8M157.7 639.0h0.8M160.7 648.6h0.8M160.9 647.8h0.8M157.5 641.3h0.8M159.1 634.2h0.8M169.7 640.0h0.8M160.8 637.7h0.8M158.7 636.5h0.8M162.8 639.3h0.8M159.8 641.8h0.8M157.1 642.0h0.8M159.8 642.9h0.8M159.2 641.2h0.8M161.5 645.2h0.8M158.4 645.2h0.8M157.7 640.2h0.8M160.5 641.6h0.8M153.8 636.8h0.8M159.7 645.0h0.8M158.4 647.5h0.8M155.6 641.3h0.8M161.6 641.1h0.8M160.9 645.0h0.8M158.1 643.5h0.8M162.9 640.0h0.8M154.3 635.9h0.8M158.0 636.4h0.8M161.3 637.5h0.8M166.5 643.5h0.8M156.9 639.8h0.8M164.1 643.9h0.8M157.6 645.5h0.8M159.0 650.6h0.8M158.8 643.6h0.8M161.6 639.1h0.8M159.8 646.0h0.8M161.5 640.7h0.8M161.3 648.5h0.8M162.6 643.1h0.8M161.0 634.2h0.8M160.5 638.9h0.8M162.1 638.4h0.8M161.3 636.5h0.8M162.5 637.9h0.8M160.1 643.5h0.8M159.4 641.0h0.8M162.9 648.6h0.8M155.6 637.1h0.8M161.9 645.1h0.8M159.0 641.4h0.8M159.7 650.8h0.8M159.7 635.9h0.8M156.2 635.5h0.8M163.5 639.3h0.8M165.2 643.8h0.8M161.2 643.8h0.8M162.2 645.0h0.8M157.7 638.6h0.8M158.8 641.5h0.8M159.6 635.7h0.8M158.4 648.7h0.8M165.6 637.3h0.8M161.2 640.8h0.8M158.0 644.1h0.8M160.0 648.2h0.8M161.4 639.7h0.8M153.5 640.6h0.8M162.4 637.9h0.8M162.5 643.9h0.8M155.7 640.2h0.8M161.0 644.3h0.8M160.6 640.9h0.8M159.3 639.7h0.8M160.2 636.4h0.8M161.8 639.6h0.8M161.5 638.8h0.8M161.2 641.5h0.8M162.5 643.0h0.8M162.6 640.3h0.8M160.1 639.9h0.8M157.0 640.5h0.8M163.0 644.3h0.8M158.0 642.3h0.8M162.1 635.1h0.8M161.1 642.4h0.8M162.1 642.1h0.8M155.8 632.3h0.8M165.3 639.3h0.8M163.4 646.5h0.8M160.4 636.1h0.8M163.7 640.8h0.8M161.5 643.1h0.8M162.6 645.4h0.8M156.6 634.9h0.8M160.6 641.0h0.8M162.2 640.4h0.8M159.7 649.7h0.8M163.7 646.0h0.8M162.8 637.6h0.8M160.0 640.7h0.8M157.4 637.3h0.8M160.6 635.8h0.8M161.6 643.0h0.8M159.6 639.5h0.8M161.7 643.1h0.8M161.1 635.7h0.8M156.1 649.8h0.8M158.5 639.4h0.8M155.6 637.6h0.8M158.3 644.4h0.8M153.5 635.0h0.8M159.2 638.9h0.8M158.2 639.1h0.8M156.2 642.2h0.8M163.2 641.7h0.8M158.8 646.4h0.8M161.4 636.6h0.8M158.7 638.4h0.8M160.1 646.2h0.8M158.4 640.4h0.8M160.5 635.9h0.8M159.0 643.6h0.8M163.1 633.0h0.8M162.0 639.8h0.8M163.5 643.7h0.8M165.2 642.3h0.8M159.2 637.4h0.8M156.6 643.4h0.8M161.5 644.5h0.8M161.1 634.6h0.8M159.2 640.0h0.8M160.6 644.3h0.8M163.8 642.2h0.8M154.9 636.6h0.8M154.8 637.7h0.8M157.1 642.0h0.8M159.6 645.8h0.8M162.9 639.0h0.8M162.6 641.1h0.8M161.4 646.8h0.8M157.3 640.7h0.8M164.1 637.7h0.8M160.7 641.6h0.8M159.1 635.4h0.8M158.5 636.8h0.8M163.0 642.1h0.8M162.0 635.9h0.8M161.5 641.6h0.8M162.9 637.9h0.8M162.3 646.9h0.8M164.8 637.0h0.8M157.3 634.7h0.8M162.7 643.5h0.8M161.1 637.3h0.8M163.4 647.9h0.8M160.1 640.5h0.8M163.2 643.2h0.8M163.6 639.3h0.8M161.1 639.6h0.8M158.8 639.7h0.8M159.5 643.2h0.8M159.4 641.3h0.8M158.1 635.8h0.8M163.8 636.8h0.8M164.8 645.0h0.8M154.4 638.3h0.8M159.1 641.1h0.8M159.7 638.4h0.8M163.4 640.5h0.8M162.7 638.1h0.8M158.4 646.7h0.8M159.5 636.3h0.8M159.8 645.5h0.8M159.8 637.9h0.8M161.8 645.2h0.8M159.7 639.6h0.8M159.3 652.5h0.8M159.7 648.5h0.8M159.8 642.7h0.8M155.0 641.8h0.8M160.3 639.6h0.8M159.2 635.2h0.8M156.4 641.7h0.8M158.6 640.6h0.8M159.7 638.8h0.8M158.4 648.9h0.8M157.4 638.8h0.8M159.5 636.1h0.8M157.8 644.7h0.8M162.6 641.6h0.8M168.5 644.5h0.8M163.3 637.5h0.8M163.0 648.2h0.8M159.2 648.7h0.8M158.2 636.2h0.8M160.1 637.6h0.8M161.8 636.3h0.8M160.4 632.6h0.8M160.1 645.5h0.8M159.5 642.3h0.8M163.0 636.3h0.8M157.0 641.3h0.8M160.9 639.9h0.8M157.7 646.2h0.8M157.2 639.9h0.8M160.1 644.1h0.8M159.1 637.5h0.8M165.3 637.4h0.8M162.2 640.3h0.8M159.0 640.8h0.8M159.6 642.3h0.8M153.7 640.9h0.8M160.4 636.9h0.8M159.2 651.0h0.8M164.9 643.7h0.8M160.8 639.7h0.8M163.7 639.1h0.8M158.1 644.0h0.8M157.8 637.6h0.8M163.9 634.2h0.8M160.0 641.5h0.8M160.9 634.8h0.8M159.6 639.6h0.8M165.1 645.3h0.8M158.3 644.7h0.8M161.9 640.5h0.8M159.6 639.8h0.8M156.3 638.3h0.8M162.6 647.2h0.8M164.9 639.4h0.8M161.8 630.7h0.8M159.5 635.6h0.8M162.3 633.9h0.8M157.6 636.3h0.8M161.2 644.6h0.8M157.9 648.7h0.8M160.6 637.5h0.8M161.1 640.9h0.8M162.3 642.5h0.8M165.8 646.0h0.8M158.6 644.4h0.8M162.1 636.7h0.8M158.3 637.6h0.8M153.9 643.7h0.8M159.7 646.3h0.8M158.8 641.3h0.8M162.9 647.5h0.7M161.4 636.1h0.7M168.2 647.0h0.7M165.2 651.2h0.7M165.3 644.4h0.7M161.9 645.6h0.7M154.8 646.6h0.7M156.7 644.4h0.7M156.6 646.1h0.7M158.5 656.2h0.7M160.9 644.9h0.7M156.9 640.4h0.7M160.0 640.4h0.7M158.6 637.0h0.7M163.0 639.8h0.7M157.3 644.1h0.7M157.3 641.0h0.7M158.4 636.7h0.7M159.4 637.3h0.7M155.7 644.0h0.7M159.1 633.7h0.7M158.8 643.1h0.7M161.8 644.1h0.7M161.1 645.4h0.7M158.4 637.5h0.7M162.5 639.7h0.7M160.3 645.7h0.7M163.6 649.0h0.7M157.7 639.9h0.7M162.2 633.8h0.7M155.7 645.5h0.7M158.0 636.7h0.7M163.1 645.0h0.7M163.6 640.1h0.7M159.2 640.1h0.7M157.7 646.0h0.7M157.4 641.6h0.7M160.7 645.0h0.7M158.5 635.6h0.7M169.3 637.9h0.7M166.4 632.0h0.7M160.6 640.9h0.7M167.1 653.6h0.7M163.8 636.2h0.7M157.3 637.7h0.7M158.4 643.5h0.7M157.4 640.6h0.7M165.6 650.2h0.7M153.5 636.6h0.7M158.9 649.4h0.7M159.0 652.9h0.7M161.6 650.2h0.7M157.1 640.2h0.7M163.9 645.3h0.7M153.5 640.4h0.7M160.9 645.6h0.7M157.9 651.9h0.7M160.8 650.2h0.7M161.7 642.5h0.7M170.1 637.6h0.7M171.7 642.4h0.7M171.8 639.6h0.7M169.1 639.5h0.7M170.1 640.5h0.7M171.9 638.2h0.7M169.8 642.2h0.7M171.8 646.1h0.7M171.2 638.4h0.7M169.1 638.5h0.7M170.6 641.1h0.7M170.4 639.0h0.7M170.3 640.3h0.7M171.3 640.7h0.7M169.4 637.6h0.7M172.6 640.3h0.7M170.3 640.4h0.7M172.1 639.7h0.7M170.8 639.9h0.7M171.3 638.0h0.7M170.8 643.1h0.7M172.1 642.1h0.7M170.9 644.5h0.7M171.5 644.0h0.7M168.9 637.7h0.7M171.6 639.8h0.7M180.3 669.2h0.7M165.8 669.2h0.7M191.1 669.2h0.7M187.6 669.2h0.7M184.4 669.2h0.7M176.1 669.2h0.7M158.8 669.2h0.7M191.8 669.2h0.7M194.9 669.2h0.7M193.9 669.2h0.7M162.7 669.2h0.7M187.4 669.2h0.7M180.1 669.2h0.7M188.3 669.2h0.7M186.4 669.2h0.7M168.7 669.2h0.7M165.7 669.2h0.7M186.1 669.2h0.7M178.9 669.2h0.7M173.0 669.2h0.7M190.1 669.2h0.7M147.1 669.2h0.7M144.9 631.5h0.8M144.9 648.7h0.8M144.9 634.7h0.8M144.9 663.0h0.8M144.9 634.3h0.8M144.9 664.5h0.8M144.9 639.6h0.8M144.9 636.1h0.8M144.9 659.6h0.8M144.9 656.7h0.8M144.9 646.6h0.8M144.9 653.7h0.8M144.9 652.0h0.8M144.9 667.0h0.8M144.9 650.3h0.8M144.9 651.5h0.8" stroke="#000" stroke-width="0.8" fill="none"/>
<rect x="203.80" y="630.00" width="51.20" height="40.00" fill="#fff" stroke="#333" stroke-width="0.75"/>
<line x1="225" y1="630" x2="225" y2="670" stroke="#333" stroke-width="0.7"/>
<line x1="203.8" y1="648.3" x2="255" y2="648.3" stroke="#555" stroke-width="0.7"/>
<ellipse cx="219.5" cy="639.5" rx="4.73" ry="7.04" fill="#000"/>
<path d="M216.4 640.6h0.8M218.9 637.5h0.8M219.8 633.9h0.8M218.7 641.1h0.8M222.7 642.6h0.8M224.0 633.4h0.8M221.6 646.3h0.8M220.7 634.7h0.8M220.7 637.3h0.8M217.6 644.1h0.8M219.0 634.7h0.8M217.5 648.0h0.8M217.0 642.4h0.8M220.1 644.6h0.8M218.7 635.4h0.8M217.6 635.1h0.8M227.4 640.4h0.8M218.6 645.0h0.8M221.5 638.7h0.8M221.4 640.7h0.8M222.9 646.7h0.8M218.6 639.4h0.8M219.0 644.8h0.8M220.7 642.9h0.8M222.3 636.8h0.8M219.9 645.5h0.8M222.3 643.0h0.8M218.7 638.0h0.8M217.0 638.3h0.8M219.4 633.3h0.8M223.0 636.2h0.8M220.3 642.1h0.8M217.9 631.7h0.8M222.5 641.3h0.8M218.8 644.4h0.8M222.2 635.4h0.8M219.3 631.9h0.8M218.8 645.6h0.8M217.0 643.1h0.8M215.0 638.2h0.8M222.4 647.0h0.8M220.9 642.8h0.8M214.4 647.7h0.8M227.0 642.1h0.8M219.7 640.6h0.8M219.6 636.8h0.8M219.5 639.0h0.8M221.6 642.5h0.8M222.5 642.1h0.8M216.6 645.5h0.8M211.5 640.0h0.8M220.5 637.2h0.8M225.2 634.8h0.8M216.0 637.3h0.8M220.8 643.0h0.8M219.9 642.4h0.8M217.4 636.9h0.8M219.9 633.7h0.8M220.1 637.8h0.8M221.6 635.1h0.8M218.0 637.1h0.8M218.5 635.2h0.8M218.8 633.7h0.8M221.2 642.4h0.8M219.5 638.7h0.8M216.9 635.4h0.8M218.9 635.6h0.8M216.0 640.2h0.8M219.5 637.8h0.8M217.1 639.3h0.8M217.5 637.7h0.8M220.1 642.6h0.8M221.8 636.9h0.8M223.2 634.5h0.8M219.0 645.2h0.8M226.6 640.1h0.8M218.5 637.9h0.8M215.9 638.9h0.8M218.3 636.2h0.8M223.1 636.1h0.8M224.6 643.2h0.8M221.5 637.0h0.8M218.0 630.9h0.8M220.4 638.3h0.8M220.7 636.6h0.8M221.0 633.0h0.8M213.0 641.6h0.8M223.4 638.0h0.8M219.1 632.9h0.8M216.6 642.6h0.8M217.4 639.3h0.8M219.1 648.1h0.8M222.2 633.8h0.8M218.1 634.5h0.8M215.4 636.6h0.8M222.8 639.7h0.8M221.6 638.9h0.8M218.3 639.9h0.8M219.3 647.8h0.8M224.9 641.1h0.8M221.3 630.9h0.8M219.2 649.9h0.8M217.2 643.0h0.8M223.2 637.8h0.8M218.9 637.5h0.8M221.9 639.6h0.8M224.0 644.6h0.8M219.5 650.8h0.8M218.6 636.9h0.8M218.8 635.7h0.8M218.3 639.2h0.8M222.2 632.7h0.8M215.4 636.2h0.8M218.6 641.5h0.8M217.2 646.0h0.8M218.0 638.6h0.8M219.7 644.6h0.8M220.4 639.6h0.8M217.9 640.2h0.8M220.7 638.0h0.8M219.5 631.5h0.8M218.0 644.6h0.8M223.8 639.2h0.8M213.1 647.5h0.8M219.0 650.6h0.8M218.3 643.9h0.8M217.7 645.5h0.8M223.0 634.9h0.8M223.4 651.9h0.8M218.9 634.3h0.8M220.4 637.8h0.8M215.1 635.0h0.8M220.3 632.9h0.8M222.7 641.5h0.8M219.0 645.6h0.8M216.8 642.5h0.8M215.5 638.1h0.8M221.4 637.2h0.8M219.2 642.3h0.8M224.1 645.2h0.8M220.9 638.4h0.8M215.2 647.0h0.8M222.1 639.3h0.8M221.6 640.9h0.8M219.0 639.5h0.8M219.4 644.6h0.8M218.8 637.1h0.8M221.5 642.3h0.8M220.8 640.7h0.8M223.9 644.4h0.8M220.2 638.6h0.8M221.5 631.4h0.8M218.0 636.4h0.8M220.0 637.8h0.8M226.8 642.7h0.8M220.7 649.3h0.8M219.5 638.1h0.8M223.2 643.1h0.8M222.3 644.8h0.8M218.5 636.6h0.8M217.4 640.0h0.8M222.5 634.9h0.8M217.9 633.7h0.8M225.5 643.0h0.8M220.2 634.2h0.8M216.5 636.7h0.8M219.6 634.0h0.8M218.9 644.8h0.8M219.6 639.9h0.8M213.3 638.3h0.8M219.1 636.5h0.8M215.4 639.2h0.8M216.5 637.1h0.8M214.8 639.1h0.8M222.2 635.8h0.8M220.5 632.9h0.8M221.2 641.9h0.8M218.4 643.4h0.8M216.9 639.7h0.8M224.5 639.4h0.8M216.2 644.5h0.8M221.1 638.3h0.8M214.1 631.3h0.8M215.0 646.0h0.8M220.4 635.8h0.8M222.9 645.9h0.8M217.0 641.6h0.8M214.7 641.1h0.8M224.9 633.3h0.8M219.7 636.7h0.8M219.3 639.9h0.8M220.4 643.4h0.8M221.0 644.1h0.8M222.5 644.3h0.8M217.5 641.3h0.8M218.4 635.8h0.8M225.3 640.8h0.8M218.8 642.9h0.8M218.9 637.1h0.8M223.9 638.1h0.8M218.5 639.1h0.8M218.8 644.1h0.8M221.2 639.2h0.8M218.5 638.5h0.8M224.5 638.2h0.8M221.5 632.6h0.8M220.5 642.5h0.8M223.3 640.9h0.8M221.2 640.9h0.8M222.7 648.4h0.8M220.1 635.9h0.8M221.3 639.0h0.8M221.4 642.9h0.8M220.0 637.6h0.8M220.4 634.1h0.8M220.3 635.6h0.8M220.9 640.0h0.8M218.9 634.2h0.8M219.7 636.5h0.8M219.1 642.5h0.8M222.3 633.9h0.8M222.3 645.5h0.8M222.9 640.7h0.8M219.3 647.1h0.8M218.6 632.8h0.8M219.8 640.8h0.8M216.5 634.2h0.8M225.4 640.0h0.8M221.8 636.9h0.8M215.1 638.7h0.8M223.5 636.6h0.8M214.3 638.7h0.8M218.7 639.6h0.8M216.5 638.1h0.8M217.9 643.4h0.8M220.0 643.3h0.8M213.8 641.8h0.8M222.1 643.3h0.8M219.3 631.7h0.8M218.1 641.3h0.8M223.6 638.0h0.8M217.9 636.1h0.8M222.5 643.3h0.8M214.2 644.8h0.8M216.8 633.1h0.8M214.8 636.3h0.8M226.4 650.7h0.8M215.9 636.6h0.8M220.0 641.3h0.8M218.1 632.6h0.8M218.3 636.5h0.8M214.3 640.1h0.8M215.2 631.9h0.8M224.0 643.6h0.8M223.8 640.0h0.8M218.3 639.1h0.8M215.5 642.7h0.8M220.3 638.2h0.8M214.0 639.0h0.8M224.3 645.8h0.8M222.1 638.0h0.8M219.9 641.9h0.8M220.1 644.1h0.8M212.4 635.5h0.8M215.5 642.4h0.8M222.7 639.5h0.8M221.1 639.8h0.8M220.0 637.4h0.8M218.3 644.7h0.8M218.7 639.3h0.8M223.1 643.8h0.8M218.4 640.6h0.8M216.6 640.1h0.8M220.5 639.5h0.8M220.0 641.1h0.8M212.1 635.9h0.8M219.8 637.3h0.8M216.7 638.5h0.8M224.3 638.5h0.8M217.6 637.4h0.8M216.0 641.6h0.8M216.6 643.5h0.8M222.2 642.0h0.8M222.6 639.1h0.8M214.3 639.2h0.8M221.4 632.7h0.8M215.9 644.3h0.8M220.8 645.4h0.8M221.5 639.8h0.8M220.8 643.2h0.8M219.5 638.6h0.8M220.5 638.1h0.8M226.7 636.1h0.8M215.1 633.8h0.8M222.6 637.7h0.8M220.0 638.6h0.8M220.4 633.1h0.8M219.8 637.0h0.8M222.7 642.2h0.8M215.8 635.3h0.8M221.2 644.7h0.8M221.8 638.8h0.8M218.0 635.2h0.8M216.5 642.0h0.8M220.4 640.7h0.8M219.1 642.2h0.8M221.9 637.0h0.8M222.3 635.4h0.8M224.8 633.8h0.8M218.7 634.8h0.8M219.7 645.3h0.8M217.3 647.3h0.8M223.7 641.2h0.8M217.8 643.5h0.8M211.1 636.2h0.8M222.4 639.3h0.8M226.9 636.5h0.8M215.6 638.6h0.8M221.3 647.0h0.8M214.3 640.2h0.8M223.3 636.5h0.8M218.2 634.2h0.8M221.8 643.1h0.8M221.3 640.6h0.8M222.5 639.0h0.8M221.7 643.1h0.8M223.4 641.8h0.8M219.8 642.6h0.8M214.9 631.8h0.8M224.4 640.1h0.8M216.4 636.9h0.8M219.1 639.8h0.8M217.3 643.9h0.8M214.5 651.8h0.8M216.3 646.8h0.8M221.5 632.1h0.8M215.9 639.8h0.8M220.4 637.6h0.8M219.6 640.2h0.8M216.1 639.8h0.8M226.3 636.7h0.8M216.5 642.4h0.8M223.6 644.1h0.8M217.6 639.2h0.8M220.1 638.6h0.8M220.7 644.3h0.8M221.2 639.5h0.8M218.9 647.4h0.8M215.8 648.3h0.8M221.8 639.9h0.8M217.3 647.6h0.8M223.2 643.5h0.8M225.8 631.6h0.8M219.8 638.1h0.8M217.4 639.8h0.8M221.2 641.8h0.8M219.1 633.7h0.8M221.2 642.2h0.8M225.9 643.6h0.8M219.6 634.4h0.8M227.8 636.5h0.8M220.1 642.8h0.8M221.1 645.4h0.8M216.4 636.5h0.8M220.1 634.1h0.8M217.7 645.6h0.8M220.4 639.0h0.8M217.8 639.7h0.8M219.4 634.7h0.8M221.9 633.8h0.8M223.4 638.0h0.8M212.6 632.6h0.8M220.4 635.7h0.8M225.0 645.6h0.8M225.9 643.5h0.8M223.6 636.8h0.8M223.5 637.6h0.8M219.4 633.5h0.8M219.7 641.3h0.8M219.4 634.6h0.8M222.3 643.5h0.8M219.3 643.0h0.8M222.5 635.1h0.8M219.4 631.2h0.8M216.4 641.4h0.8M216.9 641.2h0.8M218.1 646.2h0.8M219.6 640.1h0.8M217.4 632.4h0.8M214.7 652.3h0.8M219.0 635.6h0.8M219.9 630.9h0.8M223.8 647.1h0.8M217.2 640.9h0.8M216.8 643.3h0.8M217.0 638.9h0.8M223.5 641.8h0.8M218.5 632.7h0.8M214.7 644.9h0.8M221.1 639.8h0.8M223.4 640.2h0.8M217.3 639.0h0.8M219.2 639.4h0.8M227.2 642.1h0.8M220.4 638.4h0.8M217.5 635.1h0.8M213.8 637.4h0.8M214.9 631.2h0.8M223.8 645.1h0.8M216.6 648.6h0.8M219.6 634.5h0.7M211.9 638.9h0.7M224.6 643.2h0.7M213.1 636.5h0.7M216.2 647.4h0.7M219.1 634.6h0.7M215.8 645.9h0.7M211.1 641.7h0.7M219.0 645.4h0.7M214.5 646.0h0.7M226.4 654.2h0.7M212.4 640.3h0.7M218.6 641.2h0.7M215.2 645.6h0.7M229.9 649.5h0.7M215.3 637.0h0.7M222.8 641.3h0.7M216.2 647.9h0.7M221.8 646.6h0.7M218.8 648.2h0.7M217.5 633.8h0.7M219.5 632.1h0.7M225.1 644.9h0.7M212.1 641.5h0.7M223.3 638.3h0.7M221.4 637.0h0.7M219.2 640.0h0.7M221.7 634.7h0.7M214.5 642.5h0.7M217.3 643.6h0.7M217.3 632.6h0.7M222.8 642.1h0.7M222.8 638.5h0.7M217.9 648.1h0.7M212.1 651.0h0.7M221.8 640.2h0.7M219.9 644.1h0.7M216.1 642.2h0.7M220.4 641.1h0.7M222.4 643.8h0.7M222.6 645.3h0.7M214.9 647.8h0.7M231.4 637.1h0.7M214.0 644.6h0.7M223.6 646.6h0.7M226.3 632.2h0.7M221.2 643.3h0.7M225.0 635.1h0.7M219.6 638.3h0.7M218.8 639.6h0.7M219.4 640.9h0.7M216.4 636.6h0.7M215.7 650.1h0.7M223.6 639.4h0.7M222.2 660.3h0.7M228.3 639.0h0.8M229.0 641.3h0.8M231.9 637.7h0.8M231.1 636.2h0.8M227.3 639.9h0.8M232.8 637.3h0.8M229.1 634.0h0.8M233.7 635.4h0.8M228.3 637.6h0.8M232.1 638.1h0.8M230.0 638.0h0.8M231.5 637.9h0.8M230.3 637.8h0.8M228.1 641.0h0.8M228.8 635.1h0.8M229.3 638.1h0.8M231.4 634.8h0.8M227.8 638.4h0.8M230.7 635.6h0.8M228.1 638.4h0.8M229.8 634.4h0.8M228.5 641.3h0.8M228.2 640.3h0.8M227.4 641.3h0.8M232.7 636.6h0.8M228.8 639.4h0.8M227.9 639.2h0.8M232.1 638.6h0.8M230.6 637.7h0.8M231.7 636.2h0.8M232.7 637.9h0.8M229.4 634.4h0.8M229.3 638.5h0.8M232.1 634.4h0.8M229.8 636.5h0.8M228.0 638.0h0.8M228.7 639.9h0.8M225.4 639.6h0.8M226.8 633.7h0.8M230.9 637.3h0.8M230.2 635.9h0.8M228.2 636.4h0.8M229.9 636.1h0.8M229.3 636.1h0.8M230.4 635.5h0.8M226.4 632.2h0.8M230.0 638.2h0.8M231.6 636.4h0.8M228.1 634.7h0.8M231.3 636.6h0.8M231.7 637.8h0.8M229.5 633.9h0.8M228.8 639.7h0.8M229.0 639.5h0.8M227.2 640.2h0.8M234.8 640.5h0.8M230.5 635.3h0.8M229.1 636.6h0.8M230.3 633.5h0.8M228.5 639.7h0.8M230.3 639.6h0.8M231.5 635.5h0.8M227.7 639.0h0.8M230.1 638.2h0.8M228.6 640.2h0.8M230.8 640.5h0.8M229.4 639.5h0.8M229.9 635.9h0.8M229.9 634.3h0.8M229.7 638.4h0.8M231.2 635.7h0.8M227.7 636.4h0.8M226.5 636.6h0.8M234.5 638.3h0.8M228.7 636.5h0.8M233.0 635.4h0.8M229.8 637.8h0.8M228.7 636.4h0.8M227.1 636.1h0.8M232.2 641.1h0.8M229.5 639.6h0.8M230.8 638.2h0.8M229.8 640.7h0.8M231.0 637.5h0.8M229.6 640.1h0.8M229.0 636.4h0.8M229.5 636.9h0.8M232.2 638.8h0.8M229.9 636.8h0.8M232.4 639.0h0.8M233.6 640.0h0.8M229.6 636.8h0.8M229.5 638.4h0.8M231.3 639.1h0.8M232.7 634.6h0.8M230.0 634.9h0.8M228.2 636.7h0.8M228.9 635.9h0.8M227.4 640.5h0.8M229.5 640.1h0.8M228.1 632.9h0.8M229.0 639.9h0.8M229.0 638.9h0.8M228.2 641.1h0.8M230.7 640.3h0.8M229.5 640.8h0.8M230.1 636.9h0.8M228.9 638.1h0.8M228.5 635.4h0.8M230.2 639.6h0.8M219.7 669.2h0.7M221.0 669.2h0.7M248.7 669.2h0.7M247.8 669.2h0.7M243.7 669.2h0.7M224.2 669.2h0.7M227.3 669.2h0.7M214.7 669.2h0.7M227.4 669.2h0.7M251.6 669.2h0.7M209.3 669.2h0.7M224.2 669.2h0.7M214.4 669.2h0.7M246.4 669.2h0.7M219.6 669.2h0.7M228.8 669.2h0.7M207.4 669.2h0.7M238.8 669.2h0.7M230.1 669.2h0.7M244.2 669.2h0.7M240.3 669.2h0.7M241.4 669.2h0.7M204.2 641.0h0.8M204.2 640.5h0.8M204.2 653.7h0.8M204.2 632.9h0.8M204.2 666.6h0.8M204.2 658.4h0.8M204.2 649.8h0.8M204.2 644.7h0.8M204.2 633.9h0.8M204.2 652.1h0.8M204.2 660.4h0.8M204.2 635.5h0.8M204.2 634.8h0.8M204.2 657.1h0.8M204.2 648.9h0.8M204.2 661.1h0.8" stroke="#000" stroke-width="0.8" fill="none"/>
<line x1="22.5" y1="670" x2="22.5" y2="632" stroke="#000" stroke-width="0.8"/>
<polygon points="20.9,633.5 24.1,633.5 22.5,629.5" fill="#000"/>
<line x1="29.5" y1="676.3" x2="252.5" y2="676.3" stroke="#777" stroke-width="0.7"/>
<polygon points="251.0,674.6999999999999 251.0,677.9 255.0,676.3" fill="#000"/>
<text x="13.5" y="650.5" font-size="7" font-weight="bold" text-anchor="middle" fill="#000" transform="rotate(-90 13.5 650.5)">CD11c</text>
<text x="142" y="687" font-size="7" text-anchor="middle" fill="#000">p24</text>
<rect x="40.00" y="614.30" width="30.80" height="10.00" fill="#fff" stroke="#333" stroke-width="0.8"/>
<text x="55.4" y="622.3" font-size="7.4" text-anchor="middle" fill="#000">no treat</text>
<polygon points="86.3,624.3 254.3,624.3 254.3,606.3" fill="#000"/>
<rect x="222.00" y="613.00" width="31.70" height="10.00" fill="#fff"/>
<text x="237.9" y="621.4" font-size="9" text-anchor="middle" fill="#000">HKLM</text>
<text x="281" y="15.3" font-size="18" font-weight="bold" text-anchor="start" fill="#000">D</text>
<rect x="323.50" y="29.50" width="170.00" height="235.00" fill="none" stroke="#888" stroke-width="1"/>
<line x1="319.5" y1="264.5" x2="323.5" y2="264.5" stroke="#888" stroke-width="1"/>
<text x="312.0" y="270.3" font-size="11" text-anchor="end" fill="#000">0</text>
<line x1="319.5" y1="205.75" x2="323.5" y2="205.75" stroke="#888" stroke-width="1"/>
<text x="312.0" y="211.55" font-size="11" text-anchor="end" fill="#000">1</text>
<line x1="319.5" y1="147.0" x2="323.5" y2="147.0" stroke="#888" stroke-width="1"/>
<text x="312.0" y="152.8" font-size="11" text-anchor="end" fill="#000">2</text>
<line x1="319.5" y1="88.25" x2="323.5" y2="88.25" stroke="#888" stroke-width="1"/>
<text x="312.0" y="94.05" font-size="11" text-anchor="end" fill="#000">3</text>
<line x1="319.5" y1="29.5" x2="323.5" y2="29.5" stroke="#888" stroke-width="1"/>
<text x="312.0" y="35.3" font-size="11" text-anchor="end" fill="#000">4</text>
<text x="299.8" y="148" font-size="20" font-weight="bold" text-anchor="middle" fill="#000" transform="rotate(-90 299.8 148)">% positive p24</text>
<line x1="355.65" y1="148.175" x2="355.65" y2="134.36875" stroke="#000" stroke-width="1.1"/>
<line x1="347.95" y1="134.36875" x2="363.34999999999997" y2="134.36875" stroke="#000" stroke-width="1.1"/>
<rect x="342.50" y="148.18" width="26.30" height="116.32" fill="#000"/>
<text x="355" y="282.8" font-size="12.8" text-anchor="middle" fill="#000">no treat</text>
<line x1="409.0" y1="61.224999999999994" x2="409.0" y2="38.60625000000002" stroke="#000" stroke-width="1.1"/>
<line x1="401.3" y1="38.60625000000002" x2="416.7" y2="38.60625000000002" stroke="#000" stroke-width="1.1"/>
<rect x="395.50" y="61.22" width="27.00" height="203.28" fill="#000"/>
<text x="408.0" y="43.20625000000002" font-size="22" text-anchor="middle" fill="#000">*</text>
<text x="408" y="282.8" font-size="12.8" text-anchor="middle" fill="#000">HKLM</text>
<line x1="461.9" y1="157.575" x2="461.9" y2="129.08124999999998" stroke="#000" stroke-width="1.1"/>
<line x1="454.2" y1="129.08124999999998" x2="469.59999999999997" y2="129.08124999999998" stroke="#000" stroke-width="1.1"/>
<rect x="448.80" y="157.57" width="26.20" height="106.93" fill="#000"/>
<text x="462" y="282.8" font-size="12.8" text-anchor="middle" fill="#000">Poly(I:C)</text>
<rect x="301.30" y="325.50" width="62.50" height="49.50" fill="#fff" stroke="#333" stroke-width="0.75"/>
<line x1="333.8" y1="325.5" x2="333.8" y2="375" stroke="#333" stroke-width="0.7"/>
<line x1="301.3" y1="350" x2="363.8" y2="350" stroke="#555" stroke-width="0.7"/>
<ellipse cx="322.5" cy="336.5" rx="4.02" ry="5.98" fill="#000"/>
<path d="M315.1 343.2h0.8M324.4 333.7h0.8M318.5 335.1h0.8M317.1 339.0h0.8M320.9 328.5h0.8M322.4 341.8h0.8M318.6 334.9h0.8M328.1 337.3h0.8M320.8 337.3h0.8M324.9 332.0h0.8M322.2 329.2h0.8M317.6 329.6h0.8M325.1 337.9h0.8M324.8 342.0h0.8M322.6 337.6h0.8M323.7 338.6h0.8M319.2 335.3h0.8M322.0 336.7h0.8M320.2 335.9h0.8M323.4 337.3h0.8M324.3 340.2h0.8M324.2 340.8h0.8M325.1 342.8h0.8M324.4 333.7h0.8M329.7 341.6h0.8M326.4 339.8h0.8M322.6 331.4h0.8M323.8 334.9h0.8M321.3 326.9h0.8M327.3 331.3h0.8M319.1 338.6h0.8M324.2 332.9h0.8M322.5 337.6h0.8M323.0 338.9h0.8M324.9 334.8h0.8M317.5 346.2h0.8M321.3 332.0h0.8M324.8 339.1h0.8M320.6 347.1h0.8M315.2 342.2h0.8M322.4 337.9h0.8M323.5 335.5h0.8M323.5 330.6h0.8M321.3 344.8h0.8M314.5 342.0h0.8M315.6 332.7h0.8M325.2 334.7h0.8M320.7 329.8h0.8M322.1 335.7h0.8M320.5 329.5h0.8M323.0 338.4h0.8M326.0 338.8h0.8M327.2 341.9h0.8M313.8 344.0h0.8M322.2 331.8h0.8M323.8 340.8h0.8M317.7 330.9h0.8M324.6 334.0h0.8M327.0 337.5h0.8M320.8 330.5h0.8M324.3 328.8h0.8M318.5 330.6h0.8M327.8 344.2h0.8M321.8 334.8h0.8M324.7 342.1h0.8M320.0 346.4h0.8M321.9 341.6h0.8M315.2 336.3h0.8M320.3 345.4h0.8M321.8 330.8h0.8M328.5 333.4h0.8M322.5 330.9h0.8M324.6 337.4h0.8M321.6 334.7h0.8M320.7 333.3h0.8M318.1 341.9h0.8M325.3 330.2h0.8M318.9 338.3h0.8M329.5 335.6h0.8M321.5 335.4h0.8M323.3 335.7h0.8M325.8 340.9h0.8M324.2 343.6h0.8M321.8 334.0h0.8M331.7 327.8h0.8M323.6 331.7h0.8M325.8 327.1h0.8M322.1 334.7h0.8M319.2 341.5h0.8M321.3 338.5h0.8M320.9 337.2h0.8M321.1 336.8h0.8M322.2 333.4h0.8M323.8 335.7h0.8M319.5 331.8h0.8M323.9 342.5h0.8M318.4 334.6h0.8M323.9 341.2h0.8M324.7 331.2h0.8M322.6 340.5h0.8M323.2 335.5h0.8M318.8 337.2h0.8M322.3 336.6h0.8M327.1 341.8h0.8M320.0 337.5h0.8M321.5 336.9h0.8M327.5 340.6h0.8M322.6 333.5h0.8M322.0 338.1h0.8M321.0 341.4h0.8M322.6 331.2h0.8M321.7 336.0h0.8M325.6 341.5h0.8M327.0 343.5h0.8M323.5 337.0h0.8M325.6 336.4h0.8M318.6 334.5h0.8M324.5 339.2h0.8M319.1 341.9h0.8M323.5 329.7h0.8M323.9 341.0h0.8M324.1 335.1h0.8M320.0 341.5h0.8M323.2 336.5h0.8M321.3 331.9h0.8M316.7 334.9h0.8M325.9 339.9h0.8M320.4 343.4h0.8M321.8 332.0h0.8M325.5 342.7h0.8M321.3 331.0h0.8M322.7 343.3h0.8M323.3 333.2h0.8M324.7 334.3h0.8M326.4 334.9h0.8M328.8 334.9h0.8M323.1 332.3h0.8M318.5 338.0h0.8M323.6 332.1h0.8M324.2 334.6h0.8M320.8 336.2h0.8M323.7 339.8h0.8M326.3 338.2h0.8M320.2 333.4h0.8M323.6 331.1h0.8M322.0 334.8h0.8M322.2 337.3h0.8M325.7 343.9h0.8M325.2 341.0h0.8M319.2 341.2h0.8M326.5 330.4h0.8M330.3 334.0h0.8M315.1 344.4h0.8M322.7 332.9h0.8M320.7 341.3h0.8M323.3 334.8h0.8M326.1 332.3h0.8M319.9 334.0h0.8M320.2 339.6h0.8M321.8 331.8h0.8M321.1 327.6h0.8M323.0 337.0h0.8M324.4 335.4h0.8M323.7 332.3h0.8M322.6 337.2h0.8M318.7 339.1h0.8M322.9 336.7h0.8M321.0 345.5h0.8M322.5 333.1h0.8M319.9 339.2h0.8M321.9 333.0h0.8M320.3 340.7h0.8M322.8 341.2h0.8M322.4 331.2h0.8M325.2 337.9h0.8M320.5 335.1h0.8M319.5 340.2h0.8M321.2 338.6h0.8M323.3 335.3h0.8M323.6 335.4h0.8M318.9 334.6h0.8M318.9 339.9h0.8M324.5 333.9h0.8M324.4 337.6h0.8M325.5 332.3h0.8M322.6 332.1h0.8M320.4 342.6h0.8M316.3 332.4h0.8M324.0 340.0h0.8M320.1 327.4h0.8M317.2 338.1h0.8M325.9 340.6h0.8M320.2 342.6h0.8M321.9 339.3h0.8M321.9 343.6h0.8M320.9 326.9h0.8M321.5 337.3h0.8M323.4 333.3h0.8M321.8 331.4h0.8M321.8 336.9h0.8M323.2 343.9h0.8M316.3 338.8h0.8M323.8 331.3h0.8M322.7 336.5h0.8M319.4 339.7h0.8M328.4 339.5h0.8M324.9 341.3h0.8M322.1 340.9h0.8M320.0 337.3h0.8M324.7 342.3h0.8M321.6 335.2h0.8M323.9 336.1h0.8M322.9 340.1h0.8M320.1 340.4h0.8M323.7 335.3h0.8M318.7 333.7h0.8M322.4 340.7h0.8M316.4 339.7h0.8M323.1 331.5h0.8M325.1 338.3h0.8M323.8 332.1h0.8M319.1 340.6h0.8M326.8 338.1h0.8M321.9 334.5h0.8M317.2 340.9h0.8M322.2 342.0h0.8M320.3 341.2h0.8M320.3 339.1h0.8M326.7 333.4h0.8M325.3 336.5h0.8M319.6 337.4h0.8M324.5 333.3h0.8M321.7 334.0h0.8M320.1 335.6h0.8M325.0 334.3h0.8M326.3 334.8h0.8M320.4 341.3h0.8M326.8 333.6h0.8M324.3 331.3h0.8M321.3 334.8h0.8M324.7 330.9h0.8M320.9 333.4h0.8M322.8 331.0h0.8M318.4 349.1h0.8M323.2 329.8h0.8M325.0 330.7h0.8M316.7 343.9h0.8M326.3 332.8h0.8M319.2 338.6h0.8M328.7 339.2h0.8M324.5 331.2h0.8M317.1 338.2h0.8M325.6 337.1h0.8M322.5 342.6h0.8M319.9 341.4h0.8M325.0 333.7h0.8M322.9 337.0h0.8M324.3 332.2h0.8M321.8 336.9h0.8M322.6 336.6h0.8M323.3 335.6h0.8M321.0 341.1h0.8M320.5 335.1h0.8M319.8 331.4h0.8M323.9 336.3h0.8M322.1 338.5h0.8M322.0 339.5h0.8M328.0 338.0h0.8M321.7 343.8h0.8M324.6 329.1h0.8M326.5 337.4h0.8M325.1 331.4h0.8M319.9 333.6h0.8M324.2 331.5h0.8M320.3 340.7h0.8M320.5 337.0h0.8M319.8 329.0h0.8M322.2 336.0h0.8M318.2 340.8h0.8M325.0 340.4h0.8M321.0 331.4h0.8M322.2 337.2h0.8M322.0 333.9h0.8M319.5 333.3h0.8M322.2 334.3h0.8M327.5 335.3h0.8M323.9 334.4h0.8M321.9 332.2h0.8M321.0 329.9h0.8M316.2 342.4h0.8M319.3 338.4h0.8M322.1 334.0h0.8M324.7 334.0h0.8M323.8 334.9h0.8M325.4 340.7h0.8M322.7 341.3h0.8M324.0 343.3h0.8M322.1 329.7h0.8M323.1 337.5h0.8M321.4 335.6h0.8M321.7 331.0h0.8M327.7 333.1h0.8M319.3 329.5h0.8M319.9 336.3h0.8M327.0 339.1h0.8M320.3 331.0h0.8M319.1 336.1h0.8M325.1 334.4h0.8M327.3 345.0h0.8M323.0 327.0h0.8M325.8 336.1h0.8M324.5 340.8h0.8M319.5 336.8h0.8M323.0 333.2h0.8M324.6 335.9h0.8M321.3 344.7h0.8M323.0 343.7h0.8M322.0 341.0h0.8M320.2 337.1h0.8M325.8 327.0h0.8M324.1 335.3h0.8M325.8 337.3h0.8M322.3 330.9h0.8M331.3 333.3h0.8M321.5 333.3h0.8M321.6 337.5h0.8M318.5 341.1h0.8M321.7 339.1h0.8M316.1 334.2h0.8M321.6 334.8h0.8M320.5 337.8h0.8M323.7 332.2h0.8M316.6 339.7h0.8M321.5 341.2h0.8M325.1 336.0h0.8M318.2 334.9h0.8M320.3 341.9h0.8M317.4 340.5h0.8M317.9 334.0h0.8M318.2 333.4h0.8M321.2 338.1h0.8M320.7 339.5h0.8M327.8 337.2h0.8M319.0 335.7h0.8M322.2 334.9h0.8M325.9 341.6h0.8M328.5 338.8h0.8M314.5 335.9h0.8M324.5 332.9h0.8M320.7 340.5h0.8M322.9 331.6h0.8M322.5 331.1h0.8M322.3 331.3h0.8M319.7 334.2h0.8M330.9 331.3h0.8M318.9 334.1h0.8M325.7 340.0h0.8M324.6 335.1h0.8M322.9 333.1h0.8M321.9 332.9h0.8M318.1 332.1h0.8M328.3 338.2h0.8M320.2 336.0h0.8M321.1 341.8h0.8M322.4 333.7h0.8M324.5 337.9h0.8M320.4 333.1h0.8M322.9 329.3h0.8M319.7 340.9h0.8M325.1 341.4h0.8M321.1 333.9h0.8M321.7 334.4h0.8M326.3 335.5h0.8M326.5 333.4h0.8M323.6 343.6h0.8M320.2 333.6h0.8M320.7 329.4h0.8M321.6 333.7h0.8M329.1 334.4h0.8M316.1 340.6h0.8M325.3 336.3h0.8M323.3 339.6h0.8M320.8 336.7h0.8M322.9 343.7h0.8M326.7 337.2h0.8M318.4 340.4h0.8M322.3 341.6h0.8M322.6 337.3h0.8M324.4 333.3h0.8M320.5 346.5h0.8M319.9 340.6h0.8M324.5 340.1h0.8M326.6 330.6h0.8M325.3 327.5h0.8M322.6 338.0h0.8M325.6 341.2h0.8M319.7 335.3h0.8M322.0 333.4h0.8M320.0 333.6h0.8M325.9 342.5h0.8M324.7 343.9h0.8M322.7 331.7h0.8M320.5 337.4h0.8M325.5 341.8h0.8M319.8 340.7h0.8M320.9 339.1h0.8M325.2 343.0h0.8M320.9 337.6h0.8M323.7 334.6h0.8M322.7 339.1h0.8M317.5 333.7h0.8M329.4 338.5h0.8M320.8 328.4h0.8M319.6 338.8h0.8M324.5 338.4h0.8M324.2 333.8h0.8M329.3 330.9h0.7M324.6 335.9h0.7M315.1 342.8h0.7M321.3 341.7h0.7M327.9 338.5h0.7M319.6 336.2h0.7M322.1 346.0h0.7M326.1 346.8h0.7M325.7 333.0h0.7M326.4 343.2h0.7M321.9 340.2h0.7M321.1 330.1h0.7M322.1 342.0h0.7M319.0 343.9h0.7M323.4 344.1h0.7M319.2 335.0h0.7M318.2 332.9h0.7M324.6 338.3h0.7M320.4 339.2h0.7M316.8 335.2h0.7M316.0 328.7h0.7M316.6 331.0h0.7M329.2 345.6h0.7M327.8 334.1h0.7M325.1 330.8h0.7M320.1 338.9h0.7M315.6 338.7h0.7M312.0 335.9h0.7M321.9 338.3h0.7M317.6 340.8h0.7M323.0 333.2h0.7M329.5 339.0h0.7M325.6 348.4h0.7M320.3 336.2h0.7M315.0 336.1h0.7M324.3 352.3h0.7M324.8 338.7h0.7M317.0 332.5h0.7M314.5 329.4h0.7M322.9 339.3h0.7M318.5 336.2h0.7M319.0 341.2h0.7M325.2 334.2h0.7M320.5 330.2h0.7M320.4 350.4h0.7M322.4 342.6h0.7M324.9 346.2h0.7M321.0 332.1h0.7M326.9 342.9h0.7M319.6 344.0h0.7M322.4 337.2h0.7M330.3 340.6h0.7M323.8 335.6h0.7M323.3 343.7h0.7M324.4 333.0h0.7M324.3 336.8h0.7M323.7 336.3h0.7M313.1 327.9h0.7M338.7 330.6h0.7M336.5 344.8h0.7M340.8 336.5h0.7M340.1 330.5h0.7M340.0 341.3h0.7M339.8 333.6h0.7M341.4 336.2h0.7M338.4 338.7h0.7M338.9 344.8h0.7M339.2 345.2h0.7M340.3 333.8h0.7M339.5 338.2h0.7M342.3 342.3h0.7M344.5 335.8h0.7M338.6 345.8h0.7M337.7 339.2h0.7M342.6 334.6h0.7M338.8 335.5h0.7M340.5 339.3h0.7M339.4 340.2h0.7M337.9 336.7h0.7M340.4 344.8h0.7M339.4 338.2h0.7M342.0 338.3h0.7M342.0 338.8h0.7M341.7 338.6h0.7M339.7 374.2h0.7M335.0 374.2h0.7M315.4 374.2h0.7M353.0 374.2h0.7M361.1 374.2h0.7M351.5 374.2h0.7M358.7 374.2h0.7M361.1 374.2h0.7M324.6 374.2h0.7M335.2 374.2h0.7M327.3 374.2h0.7M349.9 374.2h0.7M312.5 374.2h0.7M316.0 374.2h0.7M329.6 374.2h0.7M335.2 374.2h0.7M362.2 374.2h0.7M322.6 374.2h0.7M302.5 374.2h0.7M325.8 374.2h0.7M355.3 374.2h0.7M308.1 374.2h0.7M301.7 351.1h0.8M301.7 355.0h0.8M301.7 366.4h0.8M301.7 342.0h0.8M301.7 355.3h0.8M301.7 371.7h0.8M301.7 372.7h0.8M301.7 353.3h0.8M301.7 342.6h0.8M301.7 357.4h0.8M301.7 361.2h0.8M301.7 358.8h0.8M301.7 358.6h0.8M301.7 344.8h0.8M301.7 360.5h0.8M301.7 343.2h0.8" stroke="#000" stroke-width="0.8" fill="none"/>
<rect x="371.30" y="325.50" width="63.70" height="49.50" fill="#fff" stroke="#333" stroke-width="0.75"/>
<line x1="404.5" y1="325.5" x2="404.5" y2="375" stroke="#333" stroke-width="0.7"/>
<line x1="371.3" y1="350" x2="435" y2="350" stroke="#555" stroke-width="0.7"/>
<ellipse cx="393.5" cy="335" rx="5.48" ry="5.98" fill="#000"/>
<path d="M393.7 337.0h0.8M391.1 334.1h0.8M392.8 338.7h0.8M390.5 338.4h0.8M398.6 334.1h0.8M389.5 333.6h0.8M386.1 332.6h0.8M388.5 334.2h0.8M391.9 337.3h0.8M393.9 336.9h0.8M393.2 336.3h0.8M388.8 338.0h0.8M398.8 340.0h0.8M387.9 336.9h0.8M386.7 338.4h0.8M392.6 332.9h0.8M390.4 333.9h0.8M393.4 330.7h0.8M393.7 336.2h0.8M395.6 334.8h0.8M393.4 345.4h0.8M397.6 336.4h0.8M387.7 337.8h0.8M392.8 336.7h0.8M393.6 335.4h0.8M392.8 341.2h0.8M395.0 333.7h0.8M392.5 344.3h0.8M389.9 332.6h0.8M394.8 335.7h0.8M394.7 341.1h0.8M398.1 336.9h0.8M393.6 334.7h0.8M392.5 339.5h0.8M388.2 330.3h0.8M391.6 330.7h0.8M390.4 340.3h0.8M384.1 337.6h0.8M388.0 333.9h0.8M391.1 330.6h0.8M387.3 335.3h0.8M391.8 339.9h0.8M401.1 333.7h0.8M390.1 333.7h0.8M395.4 339.2h0.8M389.5 337.1h0.8M393.3 340.1h0.8M391.8 334.1h0.8M389.9 329.1h0.8M394.6 338.2h0.8M398.1 336.2h0.8M391.5 330.9h0.8M388.6 331.8h0.8M394.8 335.4h0.8M384.0 334.5h0.8M392.3 330.3h0.8M393.4 337.4h0.8M389.2 328.9h0.8M392.1 336.2h0.8M392.4 341.9h0.8M394.1 330.5h0.8M396.7 332.1h0.8M396.3 335.4h0.8M398.6 330.5h0.8M396.5 336.9h0.8M389.7 338.2h0.8M402.9 336.6h0.8M390.3 334.3h0.8M398.9 336.1h0.8M399.6 332.1h0.8M398.9 327.9h0.8M392.8 333.7h0.8M391.4 340.5h0.8M391.0 336.6h0.8M401.2 338.7h0.8M391.7 331.7h0.8M385.1 336.7h0.8M397.2 340.0h0.8M394.5 344.7h0.8M389.8 338.6h0.8M391.8 338.8h0.8M404.1 331.6h0.8M402.7 334.6h0.8M387.3 335.4h0.8M397.2 332.4h0.8M400.0 331.1h0.8M392.7 339.1h0.8M392.6 332.5h0.8M393.4 337.9h0.8M400.7 341.1h0.8M401.3 334.9h0.8M386.5 334.8h0.8M391.8 330.5h0.8M391.3 334.7h0.8M393.7 339.1h0.8M389.7 340.1h0.8M393.7 338.3h0.8M398.7 329.5h0.8M400.1 331.8h0.8M395.1 339.9h0.8M397.3 328.0h0.8M394.2 340.1h0.8M393.0 334.6h0.8M393.8 342.4h0.8M391.2 330.8h0.8M388.9 332.6h0.8M392.5 336.6h0.8M393.1 327.3h0.8M386.9 338.1h0.8M396.5 328.9h0.8M403.2 337.6h0.8M386.5 337.3h0.8M393.3 333.0h0.8M391.9 334.0h0.8M393.1 331.0h0.8M391.1 337.5h0.8M395.7 329.0h0.8M391.4 342.0h0.8M396.5 342.4h0.8M387.8 330.3h0.8M384.4 326.3h0.8M391.9 330.3h0.8M388.9 331.9h0.8M392.7 338.7h0.8M395.8 327.1h0.8M399.7 333.5h0.8M389.3 334.9h0.8M391.8 328.8h0.8M400.0 332.4h0.8M391.0 337.4h0.8M400.5 337.2h0.8M389.7 337.0h0.8M398.1 336.7h0.8M396.2 332.8h0.8M393.2 327.4h0.8M390.5 329.9h0.8M393.5 341.7h0.8M384.0 329.1h0.8M389.6 334.6h0.8M398.4 331.5h0.8M390.2 340.4h0.8M395.1 337.4h0.8M397.0 331.7h0.8M394.4 332.0h0.8M390.5 335.6h0.8M395.3 329.3h0.8M390.3 337.7h0.8M394.2 338.0h0.8M392.2 331.4h0.8M396.8 337.7h0.8M381.5 338.9h0.8M390.3 338.0h0.8M400.1 333.7h0.8M389.4 336.2h0.8M393.9 337.5h0.8M387.6 336.1h0.8M397.3 338.1h0.8M396.1 340.4h0.8M390.0 340.5h0.8M394.4 330.5h0.8M392.2 336.2h0.8M394.9 341.1h0.8M394.3 332.7h0.8M402.7 333.5h0.8M390.0 339.2h0.8M391.7 331.5h0.8M389.0 340.3h0.8M389.0 335.5h0.8M391.6 334.1h0.8M390.1 335.7h0.8M396.0 339.7h0.8M392.0 329.8h0.8M387.2 335.0h0.8M383.0 341.0h0.8M393.6 335.6h0.8M387.6 332.1h0.8M390.4 338.0h0.8M391.8 337.8h0.8M395.7 326.4h0.8M392.5 340.7h0.8M391.3 335.6h0.8M393.0 329.5h0.8M402.7 334.4h0.8M396.2 333.0h0.8M399.4 340.2h0.8M398.5 339.3h0.8M396.5 341.2h0.8M395.2 335.6h0.8M396.9 331.0h0.8M382.8 338.7h0.8M394.1 331.9h0.8M392.4 330.7h0.8M390.0 335.9h0.8M394.0 338.8h0.8M393.1 337.9h0.8M396.4 331.9h0.8M386.4 332.0h0.8M392.4 332.6h0.8M402.8 332.0h0.8M395.5 331.6h0.8M396.4 329.4h0.8M397.5 335.9h0.8M391.8 329.7h0.8M400.5 332.4h0.8M388.4 343.2h0.8M401.0 335.1h0.8M397.7 337.8h0.8M392.0 335.6h0.8M388.7 329.0h0.8M394.0 338.3h0.8M394.2 329.6h0.8M397.1 335.4h0.8M396.7 333.8h0.8M392.4 339.8h0.8M399.3 329.7h0.8M388.8 339.4h0.8M395.0 335.3h0.8M389.4 339.6h0.8M394.3 336.0h0.8M395.1 332.7h0.8M395.2 335.6h0.8M396.5 336.8h0.8M388.1 331.9h0.8M392.4 340.3h0.8M390.8 340.1h0.8M398.0 339.0h0.8M403.0 335.0h0.8M394.9 340.5h0.8M395.2 339.5h0.8M393.0 341.4h0.8M395.0 326.5h0.8M398.1 334.2h0.8M389.8 333.7h0.8M392.3 340.2h0.8M394.9 334.7h0.8M393.4 331.0h0.8M390.8 333.0h0.8M392.5 329.9h0.8M391.8 339.5h0.8M395.4 335.1h0.8M395.0 334.0h0.8M388.5 339.0h0.8M403.0 337.3h0.8M396.4 346.0h0.8M388.4 337.4h0.8M392.1 333.8h0.8M386.5 334.7h0.8M395.2 327.9h0.8M392.6 332.9h0.8M389.3 337.9h0.8M400.4 336.9h0.8M397.8 338.5h0.8M393.2 337.7h0.8M399.1 333.2h0.8M392.9 328.9h0.8M385.7 331.4h0.8M397.3 336.7h0.8M394.6 340.9h0.8M386.1 341.2h0.8M393.9 338.5h0.8M399.3 331.4h0.8M389.8 336.9h0.8M393.3 332.5h0.8M393.0 331.8h0.8M394.1 333.4h0.8M400.7 330.4h0.8M395.9 335.4h0.8M400.2 330.8h0.8M391.5 342.8h0.8M390.7 333.4h0.8M391.8 330.7h0.8M398.6 341.8h0.8M392.9 331.7h0.8M387.8 338.0h0.8M391.3 337.5h0.8M383.3 333.2h0.8M396.1 336.9h0.8M381.4 336.4h0.8M394.0 335.0h0.8M392.1 333.1h0.8M394.1 337.3h0.8M380.2 335.0h0.8M397.4 334.1h0.8M398.7 330.9h0.8M401.6 339.3h0.8M391.8 347.3h0.8M399.6 342.1h0.8M388.5 334.6h0.8M395.5 339.7h0.8M393.8 329.3h0.8M398.7 334.3h0.8M395.4 333.6h0.8M393.0 329.0h0.8M396.3 332.3h0.8M386.0 336.9h0.8M393.4 339.3h0.8M397.0 329.7h0.8M392.8 335.1h0.8M393.9 330.4h0.8M393.8 339.4h0.8M398.7 341.5h0.8M392.4 332.6h0.8M381.3 341.9h0.8M397.3 335.0h0.8M395.0 337.2h0.8M392.6 341.1h0.8M401.2 338.7h0.8M391.2 336.2h0.8M397.6 338.2h0.8M390.6 339.3h0.8M396.6 337.6h0.8M391.7 334.9h0.8M385.5 334.9h0.8M391.6 333.7h0.8M392.3 333.6h0.8M393.9 335.5h0.8M390.9 334.5h0.8M393.1 337.2h0.8M395.4 333.5h0.8M390.0 327.8h0.8M388.2 336.9h0.8M389.6 342.2h0.8M392.8 333.3h0.8M392.8 332.6h0.8M390.8 335.3h0.8M387.4 335.6h0.8M393.1 331.0h0.8M397.8 336.7h0.8M398.1 332.1h0.8M388.3 329.8h0.8M386.9 326.7h0.8M400.1 332.9h0.8M394.3 332.7h0.8M392.9 342.0h0.8M386.2 330.7h0.8M394.1 331.0h0.8M396.4 340.8h0.8M397.3 338.4h0.8M392.8 339.5h0.8M390.1 329.8h0.8M392.4 333.9h0.8M398.7 330.7h0.8M398.3 331.6h0.8M388.2 327.5h0.8M393.4 328.6h0.8M394.4 335.2h0.8M391.8 326.5h0.8M391.3 337.0h0.8M386.0 338.1h0.8M393.6 332.6h0.8M394.4 337.9h0.8M393.4 331.6h0.8M396.8 332.0h0.8M395.0 339.3h0.8M399.0 342.1h0.8M397.8 335.7h0.8M392.6 335.9h0.8M395.7 348.3h0.8M396.3 331.4h0.8M399.9 328.0h0.8M397.7 329.4h0.8M388.9 332.8h0.8M392.3 329.1h0.8M396.1 334.5h0.8M399.2 330.5h0.8M385.9 338.1h0.8M392.6 339.3h0.8M383.7 329.5h0.8M393.9 343.7h0.8M388.3 326.6h0.8M391.6 341.3h0.8M400.2 329.0h0.8M390.9 326.9h0.8M390.0 330.8h0.8M395.3 340.1h0.8M403.5 333.4h0.8M396.9 336.0h0.8M394.0 343.6h0.8M396.5 341.9h0.8M394.8 338.9h0.8M395.6 334.6h0.8M390.6 333.2h0.8M393.6 333.3h0.8M392.1 331.9h0.8M397.1 333.9h0.8M393.0 334.1h0.8M399.0 332.6h0.8M399.4 331.2h0.8M399.9 337.7h0.8M391.4 337.0h0.8M398.3 330.8h0.8M392.6 336.4h0.8M392.6 333.7h0.8M393.6 336.4h0.8M396.8 341.6h0.8M392.2 348.0h0.8M392.1 342.9h0.8M393.0 328.6h0.8M391.7 333.5h0.8M398.0 326.1h0.8M390.8 334.4h0.8M396.3 336.8h0.8M397.1 334.3h0.8M392.5 340.4h0.8M400.7 336.7h0.8M394.2 331.2h0.8M402.4 336.8h0.8M396.1 327.9h0.8M396.1 345.8h0.8M392.8 334.1h0.8M400.0 334.2h0.8M397.1 343.6h0.8M388.6 331.3h0.8M396.4 335.5h0.8M393.8 335.0h0.7M394.3 338.1h0.7M390.7 334.4h0.7M394.9 329.6h0.7M397.4 335.3h0.7M386.5 344.0h0.7M386.5 348.3h0.7M389.2 343.2h0.7M393.1 345.6h0.7M392.2 342.1h0.7M395.9 338.9h0.7M395.9 346.0h0.7M389.1 327.5h0.7M395.1 331.9h0.7M392.9 336.0h0.7M388.6 342.5h0.7M392.8 346.7h0.7M395.0 342.3h0.7M391.8 332.1h0.7M390.4 330.8h0.7M396.2 336.8h0.7M387.1 326.9h0.7M388.2 327.0h0.7M397.7 329.1h0.7M390.0 335.3h0.7M393.7 338.5h0.7M398.1 339.8h0.7M391.5 343.4h0.7M395.7 331.8h0.7M402.5 329.0h0.7M396.4 343.5h0.7M394.2 338.1h0.7M394.3 340.0h0.7M394.9 336.1h0.7M395.0 334.2h0.7M405.2 337.7h0.7M389.6 339.9h0.7M391.2 329.0h0.7M391.9 339.0h0.7M400.6 342.3h0.7M394.9 335.1h0.7M394.7 343.2h0.7M392.8 342.9h0.7M388.8 335.9h0.7M398.1 340.2h0.7M394.7 333.0h0.7M382.9 333.4h0.7M388.5 333.6h0.7M402.9 331.4h0.7M398.6 335.9h0.7M387.0 336.7h0.7M398.0 329.0h0.7M386.6 333.8h0.7M397.8 332.5h0.7M396.0 338.7h0.7M393.6 338.7h0.7M413.4 337.9h0.7M411.2 335.1h0.7M408.9 338.2h0.7M412.4 336.4h0.7M407.4 341.4h0.7M415.9 330.4h0.7M408.1 338.9h0.7M411.6 335.5h0.7M411.3 342.0h0.7M409.9 340.8h0.7M410.8 335.6h0.7M409.1 336.6h0.7M413.5 342.2h0.7M411.1 333.6h0.7M409.4 337.2h0.7M406.1 338.4h0.7M411.2 334.3h0.7M409.5 337.1h0.7M414.7 340.6h0.7M412.2 338.8h0.7M407.6 341.4h0.7M409.0 332.4h0.7M412.2 337.4h0.7M410.5 340.1h0.7M410.0 339.8h0.7M413.4 337.5h0.7M409.7 338.6h0.7M412.0 337.2h0.7M410.7 336.4h0.7M410.3 340.2h0.7M408.7 337.9h0.7M407.2 336.3h0.7M410.7 340.2h0.7M408.2 338.2h0.7M408.4 339.5h0.7M411.1 339.9h0.7M410.0 334.0h0.7M409.2 334.3h0.7M409.0 338.3h0.7M412.9 336.5h0.7M408.8 339.1h0.7M405.9 344.8h0.7M407.0 341.7h0.7M412.7 341.5h0.7M410.3 340.8h0.7M409.7 341.5h0.7M409.0 335.9h0.7M411.4 337.1h0.7M412.0 335.8h0.7M411.1 335.4h0.7M410.3 345.3h0.7M408.1 334.6h0.7M406.9 337.8h0.7M414.1 337.1h0.7M412.6 337.9h0.7M409.1 344.8h0.7M412.9 332.7h0.7M408.3 339.8h0.7M412.0 337.8h0.7M411.2 340.2h0.7M409.7 341.6h0.7M408.6 340.9h0.7M412.6 339.1h0.7M409.7 338.4h0.7M405.5 339.3h0.7M407.3 332.2h0.7M412.2 335.6h0.7M411.3 338.6h0.7M406.6 335.7h0.7M409.9 340.0h0.7M419.1 374.2h0.7M405.6 374.2h0.7M401.2 374.2h0.7M380.2 374.2h0.7M406.5 374.2h0.7M407.7 374.2h0.7M416.1 374.2h0.7M428.0 374.2h0.7M377.0 374.2h0.7M423.6 374.2h0.7M392.1 374.2h0.7M397.9 374.2h0.7M393.5 374.2h0.7M422.1 374.2h0.7M399.5 374.2h0.7M376.7 374.2h0.7M401.6 374.2h0.7M381.5 374.2h0.7M373.3 374.2h0.7M375.4 374.2h0.7M395.8 374.2h0.7M400.1 374.2h0.7M371.7 326.5h0.8M371.7 333.0h0.8M371.7 369.3h0.8M371.7 352.3h0.8M371.7 373.1h0.8M371.7 352.3h0.8M371.7 371.8h0.8M371.7 359.3h0.8M371.7 344.9h0.8M371.7 328.9h0.8M371.7 333.5h0.8M371.7 364.1h0.8M371.7 358.0h0.8M371.7 340.6h0.8M371.7 334.3h0.8M371.7 356.9h0.8" stroke="#000" stroke-width="0.8" fill="none"/>
<rect x="444.50" y="325.50" width="62.50" height="49.50" fill="#fff" stroke="#333" stroke-width="0.75"/>
<line x1="476.3" y1="325.5" x2="476.3" y2="375" stroke="#333" stroke-width="0.7"/>
<line x1="444.5" y1="350" x2="507" y2="350" stroke="#555" stroke-width="0.7"/>
<ellipse cx="466" cy="337" rx="4.39" ry="7.11" fill="#000"/>
<path d="M468.3 335.3h0.8M470.2 336.9h0.8M466.6 340.3h0.8M466.7 340.8h0.8M467.4 339.8h0.8M466.5 342.5h0.8M466.4 344.8h0.8M466.2 341.2h0.8M464.2 338.6h0.8M467.4 337.7h0.8M471.0 337.2h0.8M469.7 338.8h0.8M469.6 332.3h0.8M464.8 342.1h0.8M463.3 339.1h0.8M467.8 338.0h0.8M467.4 339.8h0.8M465.2 339.2h0.8M464.3 334.6h0.8M460.8 336.5h0.8M460.5 337.2h0.8M466.7 331.3h0.8M466.2 338.5h0.8M464.9 332.2h0.8M465.6 339.2h0.8M469.0 347.1h0.8M459.6 338.8h0.8M467.4 333.7h0.8M467.1 348.0h0.8M466.4 344.2h0.8M469.5 334.7h0.8M458.5 343.1h0.8M471.0 327.8h0.8M465.4 333.3h0.8M466.7 337.3h0.8M469.7 333.9h0.8M472.3 328.0h0.8M466.7 351.1h0.8M465.7 340.3h0.8M464.5 354.3h0.8M468.9 335.2h0.8M459.8 338.1h0.8M468.4 326.3h0.8M464.4 339.9h0.8M458.2 336.0h0.8M460.8 330.0h0.8M467.3 343.0h0.8M469.8 333.6h0.8M467.7 327.7h0.8M461.2 339.9h0.8M464.7 331.7h0.8M459.9 335.8h0.8M473.3 326.4h0.8M462.6 342.9h0.8M459.8 333.7h0.8M466.2 343.0h0.8M465.8 346.6h0.8M465.9 336.4h0.8M467.4 338.9h0.8M461.1 332.0h0.8M465.2 338.8h0.8M462.0 333.2h0.8M463.6 338.8h0.8M464.6 340.2h0.8M467.3 332.2h0.8M465.0 330.5h0.8M466.4 341.3h0.8M462.8 327.7h0.8M467.7 335.5h0.8M465.9 339.4h0.8M467.2 341.9h0.8M464.4 335.4h0.8M464.7 339.1h0.8M465.2 343.8h0.8M463.9 337.0h0.8M464.8 348.2h0.8M462.9 331.7h0.8M464.8 341.0h0.8M466.0 336.1h0.8M461.2 326.0h0.8M465.3 335.7h0.8M471.8 339.0h0.8M467.4 342.1h0.8M463.1 330.5h0.8M464.8 344.8h0.8M469.2 333.9h0.8M461.9 341.9h0.8M469.6 331.2h0.8M471.3 332.9h0.8M468.5 335.9h0.8M464.9 333.8h0.8M468.3 340.3h0.8M468.6 335.5h0.8M463.2 348.3h0.8M471.6 336.0h0.8M462.2 344.9h0.8M466.4 337.3h0.8M468.8 338.9h0.8M466.4 347.5h0.8M459.8 340.4h0.8M462.8 337.4h0.8M465.4 338.4h0.8M458.1 340.7h0.8M473.7 334.8h0.8M469.0 340.3h0.8M467.0 334.3h0.8M468.1 338.4h0.8M470.8 341.4h0.8M471.0 339.6h0.8M466.6 333.8h0.8M474.3 344.1h0.8M466.3 335.1h0.8M467.9 344.2h0.8M467.7 342.0h0.8M466.9 338.9h0.8M461.8 337.7h0.8M466.2 336.6h0.8M465.2 338.6h0.8M464.1 336.0h0.8M461.7 349.3h0.8M463.1 330.6h0.8M464.2 334.8h0.8M471.4 342.4h0.8M464.7 340.0h0.8M462.3 328.4h0.8M467.1 340.1h0.8M463.7 337.0h0.8M455.8 336.3h0.8M469.5 337.9h0.8M466.6 340.1h0.8M459.1 330.2h0.8M461.8 338.3h0.8M463.9 327.0h0.8M469.0 336.0h0.8M469.3 347.6h0.8M460.5 330.2h0.8M469.6 344.5h0.8M467.3 338.9h0.8M468.3 340.5h0.8M461.8 341.0h0.8M469.3 334.9h0.8M463.0 334.4h0.8M464.0 339.8h0.8M468.6 337.1h0.8M465.0 327.6h0.8M464.6 331.7h0.8M464.2 338.8h0.8M466.5 355.6h0.8M463.1 334.2h0.8M462.2 335.6h0.8M465.0 342.3h0.8M459.5 341.8h0.8M468.1 334.2h0.8M463.7 338.0h0.8M467.7 336.2h0.8M465.5 337.1h0.8M462.4 338.4h0.8M467.9 337.3h0.8M462.2 337.0h0.8M465.6 338.7h0.8M464.6 341.4h0.8M469.6 341.4h0.8M466.8 343.4h0.8M465.9 336.1h0.8M461.2 337.1h0.8M470.0 332.0h0.8M468.6 330.3h0.8M467.0 346.6h0.8M466.1 330.9h0.8M466.9 336.2h0.8M468.6 334.3h0.8M460.2 334.5h0.8M468.0 342.4h0.8M466.9 337.1h0.8M468.3 336.0h0.8M464.5 338.2h0.8M469.6 334.4h0.8M467.6 333.7h0.8M463.5 337.9h0.8M461.5 332.5h0.8M462.0 333.9h0.8M462.9 349.2h0.8M468.0 337.4h0.8M467.5 333.7h0.8M469.5 335.0h0.8M461.6 333.7h0.8M460.9 329.6h0.8M468.4 334.2h0.8M468.3 334.1h0.8M465.2 334.1h0.8M464.2 333.6h0.8M471.0 336.7h0.8M459.5 345.8h0.8M470.2 342.9h0.8M465.6 336.2h0.8M464.4 337.7h0.8M467.5 337.0h0.8M463.2 332.0h0.8M471.5 345.8h0.8M461.8 333.7h0.8M465.8 340.1h0.8M465.6 338.3h0.8M467.2 342.9h0.8M461.6 342.7h0.8M467.4 339.8h0.8M460.9 335.8h0.8M465.1 340.3h0.8M468.3 340.6h0.8M461.6 343.5h0.8M466.2 341.8h0.8M465.9 333.4h0.8M474.7 340.4h0.8M468.5 334.6h0.8M465.2 342.8h0.8M467.5 346.1h0.8M470.0 331.5h0.8M460.8 343.0h0.8M468.0 335.7h0.8M465.0 334.1h0.8M472.0 336.2h0.8M461.3 341.7h0.8M465.7 338.9h0.8M464.7 336.8h0.8M459.7 339.8h0.8M463.7 335.1h0.8M467.0 343.6h0.8M458.7 336.3h0.8M467.8 342.2h0.8M462.9 338.7h0.8M467.3 341.8h0.8M463.9 336.1h0.8M464.2 342.9h0.8M469.6 334.8h0.8M465.5 338.2h0.8M462.9 336.4h0.8M468.8 341.0h0.8M463.7 333.7h0.8M465.6 329.5h0.8M467.0 337.6h0.8M461.5 335.8h0.8M463.7 335.7h0.8M463.0 344.0h0.8M462.7 340.9h0.8M466.6 344.4h0.8M465.7 337.1h0.8M466.2 327.4h0.8M474.0 336.0h0.8M464.9 331.3h0.8M465.5 345.3h0.8M463.4 339.3h0.8M469.4 341.9h0.8M464.6 328.2h0.8M467.3 339.9h0.8M464.8 334.9h0.8M471.8 329.0h0.8M464.2 334.0h0.8M460.7 333.5h0.8M463.3 343.4h0.8M460.1 330.1h0.8M466.8 329.2h0.8M459.2 333.9h0.8M461.9 332.1h0.8M465.4 339.4h0.8M463.8 335.7h0.8M468.3 336.3h0.8M468.4 334.1h0.8M467.6 343.5h0.8M461.3 352.2h0.8M464.9 335.3h0.8M465.4 339.4h0.8M461.9 337.3h0.8M464.0 344.3h0.8M460.1 340.3h0.8M464.9 333.3h0.8M466.4 335.9h0.8M466.1 338.3h0.8M470.0 335.0h0.8M472.1 343.2h0.8M471.2 338.1h0.8M466.9 331.9h0.8M470.4 331.2h0.8M463.3 337.1h0.8M466.7 338.8h0.8M462.0 335.3h0.8M467.6 343.0h0.8M468.5 339.2h0.8M465.1 334.3h0.8M464.2 336.6h0.8M467.7 334.5h0.8M472.8 332.0h0.8M468.7 336.0h0.8M465.5 335.2h0.8M471.1 335.6h0.8M467.8 337.7h0.8M468.4 340.0h0.8M471.5 333.4h0.8M463.2 345.6h0.8M470.2 337.4h0.8M465.0 338.4h0.8M470.3 333.2h0.8M470.8 336.8h0.8M464.7 335.1h0.8M458.9 338.7h0.8M461.5 334.3h0.8M462.9 338.3h0.8M468.4 337.3h0.8M466.6 339.1h0.8M471.3 340.0h0.8M471.2 336.8h0.8M467.1 333.8h0.8M467.9 332.8h0.8M467.5 333.9h0.8M464.8 343.2h0.8M466.4 341.1h0.8M465.1 327.7h0.8M470.9 336.2h0.8M463.8 341.8h0.8M462.1 333.3h0.8M469.8 333.6h0.8M469.7 335.5h0.8M465.2 337.4h0.8M464.3 342.5h0.8M469.6 337.4h0.8M468.0 339.8h0.8M471.6 329.1h0.8M469.4 341.7h0.8M464.9 337.2h0.8M464.8 343.3h0.8M462.1 340.1h0.8M470.2 340.0h0.8M464.3 334.8h0.8M458.8 331.9h0.8M469.6 332.3h0.8M460.5 335.8h0.8M461.0 339.4h0.8M463.0 341.9h0.8M465.5 330.0h0.8M463.4 333.8h0.8M463.1 343.3h0.8M462.6 338.9h0.8M464.0 340.0h0.8M461.2 329.2h0.8M467.7 344.2h0.8M461.3 335.5h0.8M464.2 332.4h0.8M469.2 337.3h0.8M461.3 336.0h0.8M470.4 333.5h0.8M464.2 332.9h0.8M466.5 334.3h0.8M468.9 332.9h0.8M461.1 339.4h0.8M455.3 332.3h0.8M466.9 338.3h0.8M464.0 334.9h0.8M467.7 355.8h0.8M463.2 336.2h0.8M464.4 339.9h0.8M466.0 339.9h0.8M471.4 335.7h0.8M465.0 339.0h0.8M473.0 335.3h0.8M471.6 343.0h0.8M456.8 332.1h0.8M462.7 339.1h0.8M470.4 337.4h0.8M466.5 348.0h0.8M467.1 347.9h0.8M462.9 345.3h0.8M463.2 334.7h0.8M465.8 340.9h0.8M468.3 339.7h0.8M463.4 346.0h0.8M470.0 337.3h0.8M464.0 336.9h0.8M465.2 333.6h0.8M465.9 333.8h0.8M468.1 333.8h0.8M467.6 338.7h0.8M466.5 339.7h0.8M462.5 350.0h0.8M463.6 340.8h0.8M466.0 334.9h0.8M471.8 342.6h0.8M465.0 339.9h0.8M468.2 345.0h0.8M469.4 336.2h0.8M465.1 331.2h0.8M466.8 341.4h0.8M464.6 340.4h0.8M466.4 334.8h0.8M461.9 342.7h0.8M474.5 339.8h0.8M462.3 331.9h0.8M466.8 340.4h0.8M472.2 337.9h0.8M466.4 339.0h0.8M464.8 335.6h0.8M469.5 328.4h0.8M465.6 339.9h0.8M460.4 336.3h0.8M471.1 339.0h0.8M468.3 340.6h0.8M466.7 338.9h0.8M463.2 336.0h0.8M472.2 330.9h0.8M465.4 330.7h0.8M464.2 333.2h0.8M461.8 338.3h0.8M462.8 339.7h0.8M465.4 326.5h0.8M465.4 340.6h0.7M467.0 346.3h0.7M466.7 326.5h0.7M473.2 331.7h0.7M465.5 340.3h0.7M461.7 338.7h0.7M473.1 326.7h0.7M458.0 335.1h0.7M465.2 329.5h0.7M454.9 344.3h0.7M467.8 329.1h0.7M468.7 337.7h0.7M466.7 329.1h0.7M464.9 341.3h0.7M457.6 331.0h0.7M470.6 351.6h0.7M469.1 337.6h0.7M460.8 335.3h0.7M464.8 341.1h0.7M464.7 354.9h0.7M460.4 338.1h0.7M470.7 340.8h0.7M452.7 326.9h0.7M472.5 342.1h0.7M478.3 343.5h0.7M468.2 348.5h0.7M463.8 334.4h0.7M461.1 339.8h0.7M468.1 344.5h0.7M472.9 342.3h0.7M471.9 336.4h0.7M461.3 343.1h0.7M470.9 347.2h0.7M465.2 334.9h0.7M464.2 340.5h0.7M465.7 336.8h0.7M467.2 336.1h0.7M467.6 334.0h0.7M458.6 336.0h0.7M475.1 332.6h0.7M470.4 347.2h0.7M463.4 339.8h0.7M455.0 342.0h0.7M473.4 339.3h0.7M456.4 334.1h0.7M462.4 338.8h0.7M467.4 335.3h0.7M464.5 332.5h0.7M468.7 339.4h0.7M467.7 334.6h0.7M468.4 336.0h0.7M467.4 337.0h0.7M462.8 330.6h0.7M457.0 328.7h0.7M468.2 360.3h0.7M458.1 332.5h0.7M465.9 362.4h0.7M465.0 330.1h0.7M468.0 352.3h0.7M476.0 334.5h0.7M482.5 334.5h0.7M480.3 336.4h0.7M481.7 333.5h0.7M481.0 339.3h0.7M481.4 340.0h0.7M480.7 332.4h0.7M480.0 335.3h0.7M481.3 337.7h0.7M480.7 342.3h0.7M480.3 344.4h0.7M481.8 333.4h0.7M479.6 342.7h0.7M479.7 342.7h0.7M479.6 338.1h0.7M482.1 333.1h0.7M480.6 336.9h0.7M480.8 344.5h0.7M481.3 333.8h0.7M482.0 336.9h0.7M480.8 342.5h0.7M480.0 341.8h0.7M480.8 335.4h0.7M480.0 333.8h0.7M482.4 339.1h0.7M482.1 334.6h0.7M481.9 334.4h0.7M480.9 338.5h0.7M479.6 339.6h0.7M480.6 335.5h0.7M479.3 334.0h0.7M482.7 339.0h0.7M465.4 374.2h0.7M460.8 374.2h0.7M484.6 374.2h0.7M483.7 374.2h0.7M458.4 374.2h0.7M488.5 374.2h0.7M450.0 374.2h0.7M448.8 374.2h0.7M499.2 374.2h0.7M501.7 374.2h0.7M502.8 374.2h0.7M505.7 374.2h0.7M490.3 374.2h0.7M479.9 374.2h0.7M477.5 374.2h0.7M477.9 374.2h0.7M502.6 374.2h0.7M504.0 374.2h0.7M471.9 374.2h0.7M457.7 374.2h0.7M478.0 374.2h0.7M471.1 374.2h0.7M444.9 364.9h0.8M444.9 370.3h0.8M444.9 355.9h0.8M444.9 330.4h0.8M444.9 351.9h0.8M444.9 332.6h0.8M444.9 352.0h0.8M444.9 365.4h0.8M444.9 358.5h0.8M444.9 348.7h0.8M444.9 334.0h0.8M444.9 370.7h0.8M444.9 367.9h0.8M444.9 349.7h0.8M444.9 329.0h0.8M444.9 358.6h0.8" stroke="#000" stroke-width="0.8" fill="none"/>
<line x1="297.5" y1="375" x2="297.5" y2="327.5" stroke="#000" stroke-width="0.8"/>
<polygon points="295.9,329.0 299.1,329.0 297.5,325.0" fill="#000"/>
<line x1="301" y1="379.3" x2="504.5" y2="379.3" stroke="#777" stroke-width="0.7"/>
<polygon points="503.0,377.7 503.0,380.90000000000003 507.0,379.3" fill="#000"/>
<text x="291.3" y="349.6" font-size="10.4" text-anchor="middle" fill="#000" transform="rotate(-90 291.3 349.6)">CD11c</text>
<text x="405" y="394.5" font-size="9.6" text-anchor="middle" fill="#000">p24</text>
<text x="332.7" y="317.6" font-size="13.6" text-anchor="middle" fill="#000">no treat</text>
<text x="403" y="317.6" font-size="13.6" text-anchor="middle" fill="#000">HKLM</text>
<text x="478" y="317.6" font-size="13.6" text-anchor="middle" fill="#000">Poly(I:C)</text>
<text x="281" y="451" font-size="18" font-weight="bold" text-anchor="start" fill="#000">E</text>
<line x1="322.5" y1="467.5" x2="322.5" y2="652.5" stroke="#222" stroke-width="1"/>
<line x1="322.5" y1="652.5" x2="510" y2="652.5" stroke="#222" stroke-width="1"/>
<line x1="319.5" y1="652.5" x2="322.5" y2="652.5" stroke="#222" stroke-width="1"/>
<text x="317.0" y="655.7" font-size="9" text-anchor="end" fill="#222">0</text>
<line x1="319.5" y1="590.8333333333334" x2="322.5" y2="590.8333333333334" stroke="#222" stroke-width="1"/>
<text x="317.0" y="594.0333333333334" font-size="9" text-anchor="end" fill="#222">50</text>
<line x1="319.5" y1="529.1666666666666" x2="322.5" y2="529.1666666666666" stroke="#222" stroke-width="1"/>
<text x="317.0" y="532.3666666666667" font-size="9" text-anchor="end" fill="#222">100</text>
<line x1="319.5" y1="467.5" x2="322.5" y2="467.5" stroke="#222" stroke-width="1"/>
<text x="317.0" y="470.7" font-size="9" text-anchor="end" fill="#222">150</text>
<text x="346" y="666.6" font-size="9" text-anchor="middle" fill="#222">d3</text>
<text x="392.5" y="666.6" font-size="9" text-anchor="middle" fill="#222">d6</text>
<text x="440" y="666.6" font-size="9" text-anchor="middle" fill="#222">d9</text>
<text x="487.5" y="666.6" font-size="9" text-anchor="middle" fill="#222">d12</text>
<text x="296.3" y="553.5" font-size="11.9" text-anchor="middle" fill="#000" transform="rotate(-90 296.3 553.5)">Concentration of p24 (ng/mL)</text>
<polyline points="346,649.4 392.5,634.0 440,552.6 487.5,487.2" fill="none" stroke="#000" stroke-width="1.1"/>
<line x1="392.5" y1="630.3" x2="392.5" y2="637.7" stroke="#222" stroke-width="0.9"/>
<line x1="390.8" y1="630.3" x2="394.2" y2="630.3" stroke="#222" stroke-width="0.9"/>
<line x1="390.8" y1="637.7" x2="394.2" y2="637.7" stroke="#222" stroke-width="0.9"/>
<line x1="440" y1="540.2666666666667" x2="440" y2="564.9333333333333" stroke="#222" stroke-width="0.9"/>
<line x1="438.3" y1="540.2666666666667" x2="441.7" y2="540.2666666666667" stroke="#222" stroke-width="0.9"/>
<line x1="438.3" y1="564.9333333333333" x2="441.7" y2="564.9333333333333" stroke="#222" stroke-width="0.9"/>
<line x1="487.5" y1="469.9666666666667" x2="487.5" y2="503.26666666666665" stroke="#222" stroke-width="0.9"/>
<line x1="485.8" y1="469.9666666666667" x2="489.2" y2="469.9666666666667" stroke="#222" stroke-width="0.9"/>
<line x1="485.8" y1="503.26666666666665" x2="489.2" y2="503.26666666666665" stroke="#222" stroke-width="0.9"/>
<polyline points="346,650.0 392.5,640.2 440,592.1 487.5,542.7" fill="none" stroke="#000" stroke-width="1.1"/>
<line x1="392.5" y1="637.7" x2="392.5" y2="642.6333333333333" stroke="#222" stroke-width="0.9"/>
<line x1="390.8" y1="637.7" x2="394.2" y2="637.7" stroke="#222" stroke-width="0.9"/>
<line x1="390.8" y1="642.6333333333333" x2="394.2" y2="642.6333333333333" stroke="#222" stroke-width="0.9"/>
<line x1="440" y1="579.7333333333333" x2="440" y2="603.1666666666666" stroke="#222" stroke-width="0.9"/>
<line x1="438.3" y1="579.7333333333333" x2="441.7" y2="579.7333333333333" stroke="#222" stroke-width="0.9"/>
<line x1="438.3" y1="603.1666666666666" x2="441.7" y2="603.1666666666666" stroke="#222" stroke-width="0.9"/>
<line x1="487.5" y1="529.1666666666666" x2="487.5" y2="555.0666666666666" stroke="#222" stroke-width="0.9"/>
<line x1="485.8" y1="529.1666666666666" x2="489.2" y2="529.1666666666666" stroke="#222" stroke-width="0.9"/>
<line x1="485.8" y1="555.0666666666666" x2="489.2" y2="555.0666666666666" stroke="#222" stroke-width="0.9"/>
<polyline points="346,650.6 392.5,642.6 440,605.6 487.5,572.3" fill="none" stroke="#000" stroke-width="1.1"/>
<line x1="392.5" y1="640.1666666666666" x2="392.5" y2="645.1" stroke="#222" stroke-width="0.9"/>
<line x1="390.8" y1="640.1666666666666" x2="394.2" y2="640.1666666666666" stroke="#222" stroke-width="0.9"/>
<line x1="390.8" y1="645.1" x2="394.2" y2="645.1" stroke="#222" stroke-width="0.9"/>
<line x1="440" y1="592.0666666666666" x2="440" y2="619.2" stroke="#222" stroke-width="0.9"/>
<line x1="438.3" y1="592.0666666666666" x2="441.7" y2="592.0666666666666" stroke="#222" stroke-width="0.9"/>
<line x1="438.3" y1="619.2" x2="441.7" y2="619.2" stroke="#222" stroke-width="0.9"/>
<line x1="487.5" y1="558.7666666666667" x2="487.5" y2="583.4333333333334" stroke="#222" stroke-width="0.9"/>
<line x1="485.8" y1="558.7666666666667" x2="489.2" y2="558.7666666666667" stroke="#222" stroke-width="0.9"/>
<line x1="485.8" y1="583.4333333333334" x2="489.2" y2="583.4333333333334" stroke="#222" stroke-width="0.9"/>
<rect x="342.40" y="645.82" width="7.20" height="7.20" fill="#000"/>
<rect x="388.90" y="630.40" width="7.20" height="7.20" fill="#000"/>
<rect x="436.40" y="549.00" width="7.20" height="7.20" fill="#000"/>
<rect x="483.90" y="483.63" width="7.20" height="7.20" fill="#000"/>
<circle cx="346" cy="650.0" r="3.7" fill="#000"/>
<circle cx="392.5" cy="640.2" r="3.7" fill="#000"/>
<circle cx="440" cy="592.1" r="3.7" fill="#000"/>
<circle cx="487.5" cy="542.7" r="3.7" fill="#000"/>
<polygon points="341.8,653.9 350.2,653.9 346,646.0" fill="#000"/>
<polygon points="388.3,645.8 396.7,645.8 392.5,638.0" fill="#000"/>
<polygon points="435.8,608.8 444.2,608.8 440,601.0" fill="#000"/>
<polygon points="483.3,575.5 491.7,575.5 487.5,567.7" fill="#000"/>
<line x1="328.8" y1="472" x2="345.5" y2="472" stroke="#000" stroke-width="1"/>
<circle cx="337" cy="472.0" r="4.255" fill="#000"/>
<text x="372.3" y="475.2" font-size="9" text-anchor="middle" fill="#222">no treat</text>
<line x1="328.8" y1="485.5" x2="345.5" y2="485.5" stroke="#000" stroke-width="1"/>
<rect x="332.86" y="481.36" width="8.28" height="8.28" fill="#000"/>
<text x="372.3" y="488.7" font-size="9" text-anchor="middle" fill="#222">HKLM</text>
<line x1="328.8" y1="500" x2="345.5" y2="500" stroke="#000" stroke-width="1"/>
<polygon points="332.17,503.7 341.83,503.7 337,494.7" fill="#000"/>
<text x="372.3" y="503.2" font-size="9" text-anchor="middle" fill="#222">Poly(I:C)</text>
<polyline points="495,486.3 503,486.3 503,540 495,540" fill="none" stroke="#444" stroke-width="0.9"/>
<polyline points="495,542.5 503,542.5 503,573 495,573" fill="none" stroke="#444" stroke-width="0.9"/>
<polyline points="446.3,551.8 454.5,551.8 454.5,590 446.3,590" fill="none" stroke="#444" stroke-width="0.9"/>
<text x="513.5" y="517.5" font-size="14" text-anchor="middle" fill="#555">**</text>
<text x="510" y="564" font-size="14" text-anchor="middle" fill="#555">*</text>
<text x="450" y="576.5" font-size="14" text-anchor="middle" fill="#555">*</text>
</svg>
</body></html>
